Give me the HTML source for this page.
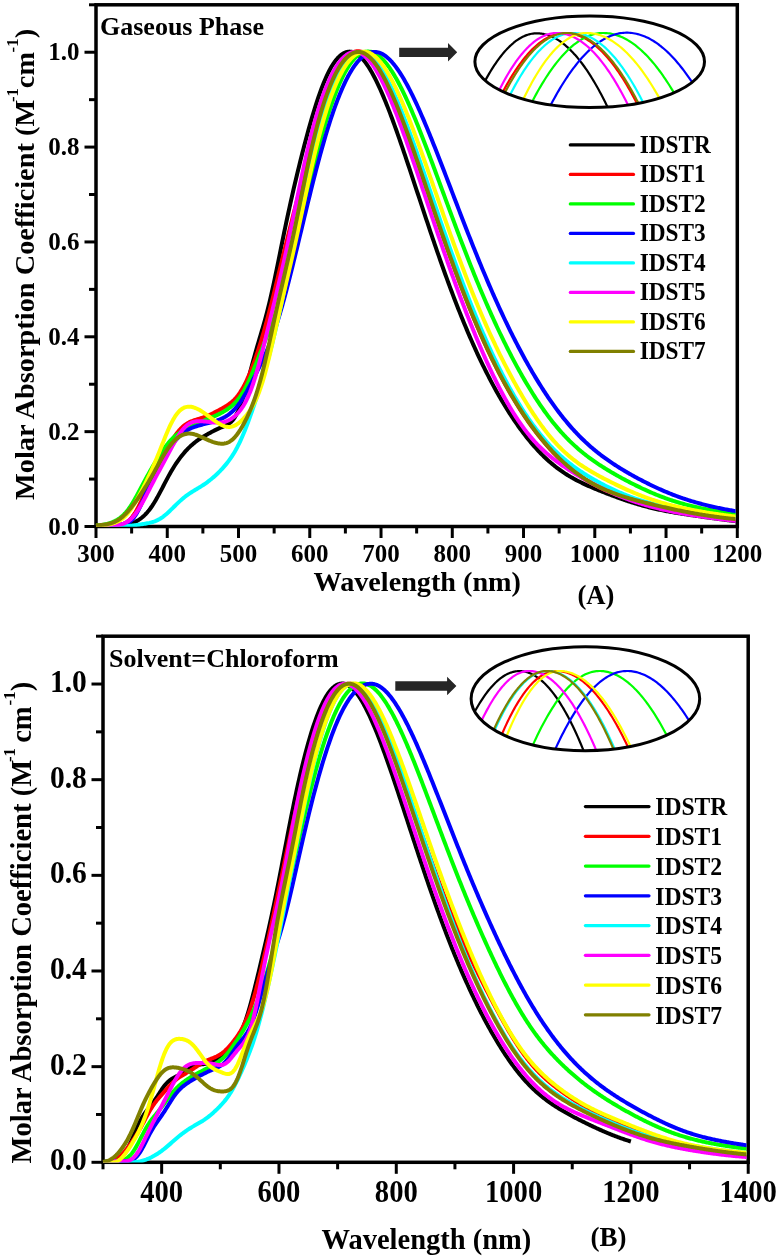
<!DOCTYPE html>
<html><head><meta charset="utf-8"><style>
html,body{margin:0;padding:0;background:#fff;width:779px;height:1259px;overflow:hidden}
svg{display:block;filter:blur(0.45px)}
text{font-family:'Liberation Serif', serif;font-weight:bold;fill:#000}
</style></head><body>
<svg width="779" height="1259" viewBox="0 0 779 1259">
<rect x="96" y="4.8" width="641.30" height="521.70" fill="none" stroke="#000" stroke-width="3.5"/>
<line x1="96.00" y1="526.5" x2="96.00" y2="538.0" stroke="#000" stroke-width="3"/>
<text transform="translate(96.00,562) scale(1,1)" font-size="25" text-anchor="middle">300</text>
<line x1="167.26" y1="526.5" x2="167.26" y2="538.0" stroke="#000" stroke-width="3"/>
<text transform="translate(167.26,562) scale(1,1)" font-size="25" text-anchor="middle">400</text>
<line x1="238.51" y1="526.5" x2="238.51" y2="538.0" stroke="#000" stroke-width="3"/>
<text transform="translate(238.51,562) scale(1,1)" font-size="25" text-anchor="middle">500</text>
<line x1="309.77" y1="526.5" x2="309.77" y2="538.0" stroke="#000" stroke-width="3"/>
<text transform="translate(309.77,562) scale(1,1)" font-size="25" text-anchor="middle">600</text>
<line x1="381.02" y1="526.5" x2="381.02" y2="538.0" stroke="#000" stroke-width="3"/>
<text transform="translate(381.02,562) scale(1,1)" font-size="25" text-anchor="middle">700</text>
<line x1="452.28" y1="526.5" x2="452.28" y2="538.0" stroke="#000" stroke-width="3"/>
<text transform="translate(452.28,562) scale(1,1)" font-size="25" text-anchor="middle">800</text>
<line x1="523.53" y1="526.5" x2="523.53" y2="538.0" stroke="#000" stroke-width="3"/>
<text transform="translate(523.53,562) scale(1,1)" font-size="25" text-anchor="middle">900</text>
<line x1="594.79" y1="526.5" x2="594.79" y2="538.0" stroke="#000" stroke-width="3"/>
<text transform="translate(594.79,562) scale(1,1)" font-size="25" text-anchor="middle">1000</text>
<line x1="666.04" y1="526.5" x2="666.04" y2="538.0" stroke="#000" stroke-width="3"/>
<text transform="translate(666.04,562) scale(1,1)" font-size="25" text-anchor="middle">1100</text>
<line x1="737.30" y1="526.5" x2="737.30" y2="538.0" stroke="#000" stroke-width="3"/>
<text transform="translate(737.30,562) scale(1,1)" font-size="25" text-anchor="middle">1200</text>
<line x1="131.63" y1="526.5" x2="131.63" y2="533.5" stroke="#000" stroke-width="3"/>
<line x1="202.88" y1="526.5" x2="202.88" y2="533.5" stroke="#000" stroke-width="3"/>
<line x1="274.14" y1="526.5" x2="274.14" y2="533.5" stroke="#000" stroke-width="3"/>
<line x1="345.39" y1="526.5" x2="345.39" y2="533.5" stroke="#000" stroke-width="3"/>
<line x1="416.65" y1="526.5" x2="416.65" y2="533.5" stroke="#000" stroke-width="3"/>
<line x1="487.91" y1="526.5" x2="487.91" y2="533.5" stroke="#000" stroke-width="3"/>
<line x1="559.16" y1="526.5" x2="559.16" y2="533.5" stroke="#000" stroke-width="3"/>
<line x1="630.42" y1="526.5" x2="630.42" y2="533.5" stroke="#000" stroke-width="3"/>
<line x1="701.67" y1="526.5" x2="701.67" y2="533.5" stroke="#000" stroke-width="3"/>
<line x1="84.5" y1="526.50" x2="96" y2="526.50" stroke="#000" stroke-width="3"/>
<text transform="translate(79.6,534.75) scale(1,1)" font-size="25" text-anchor="end">0.0</text>
<line x1="89.0" y1="479.07" x2="96" y2="479.07" stroke="#000" stroke-width="3"/>
<line x1="84.5" y1="431.65" x2="96" y2="431.65" stroke="#000" stroke-width="3"/>
<text transform="translate(79.6,439.90) scale(1,1)" font-size="25" text-anchor="end">0.2</text>
<line x1="89.0" y1="384.22" x2="96" y2="384.22" stroke="#000" stroke-width="3"/>
<line x1="84.5" y1="336.79" x2="96" y2="336.79" stroke="#000" stroke-width="3"/>
<text transform="translate(79.6,345.04) scale(1,1)" font-size="25" text-anchor="end">0.4</text>
<line x1="89.0" y1="289.37" x2="96" y2="289.37" stroke="#000" stroke-width="3"/>
<line x1="84.5" y1="241.94" x2="96" y2="241.94" stroke="#000" stroke-width="3"/>
<text transform="translate(79.6,250.19) scale(1,1)" font-size="25" text-anchor="end">0.6</text>
<line x1="89.0" y1="194.51" x2="96" y2="194.51" stroke="#000" stroke-width="3"/>
<line x1="84.5" y1="147.08" x2="96" y2="147.08" stroke="#000" stroke-width="3"/>
<text transform="translate(79.6,155.33) scale(1,1)" font-size="25" text-anchor="end">0.8</text>
<line x1="89.0" y1="99.66" x2="96" y2="99.66" stroke="#000" stroke-width="3"/>
<line x1="84.5" y1="52.23" x2="96" y2="52.23" stroke="#000" stroke-width="3"/>
<text transform="translate(79.6,60.48) scale(1,1)" font-size="25" text-anchor="end">1.0</text>
<line x1="89.0" y1="4.80" x2="96" y2="4.80" stroke="#000" stroke-width="3"/>
<rect x="103" y="636.2" width="645.20" height="526.10" fill="none" stroke="#000" stroke-width="3.5"/>
<line x1="161.66" y1="1162.3" x2="161.66" y2="1173.8" stroke="#000" stroke-width="3"/>
<text transform="translate(161.66,1201.5) scale(0.97,1.07)" font-size="29.5" text-anchor="middle">400</text>
<line x1="278.97" y1="1162.3" x2="278.97" y2="1173.8" stroke="#000" stroke-width="3"/>
<text transform="translate(278.97,1201.5) scale(0.97,1.07)" font-size="29.5" text-anchor="middle">600</text>
<line x1="396.28" y1="1162.3" x2="396.28" y2="1173.8" stroke="#000" stroke-width="3"/>
<text transform="translate(396.28,1201.5) scale(0.97,1.07)" font-size="29.5" text-anchor="middle">800</text>
<line x1="513.59" y1="1162.3" x2="513.59" y2="1173.8" stroke="#000" stroke-width="3"/>
<text transform="translate(513.59,1201.5) scale(0.97,1.07)" font-size="29.5" text-anchor="middle">1000</text>
<line x1="630.89" y1="1162.3" x2="630.89" y2="1173.8" stroke="#000" stroke-width="3"/>
<text transform="translate(630.89,1201.5) scale(0.97,1.07)" font-size="29.5" text-anchor="middle">1200</text>
<line x1="748.21" y1="1162.3" x2="748.21" y2="1173.8" stroke="#000" stroke-width="3"/>
<text transform="translate(748.21,1201.5) scale(0.97,1.07)" font-size="29.5" text-anchor="middle">1400</text>
<line x1="103.00" y1="1162.3" x2="103.00" y2="1169.3" stroke="#000" stroke-width="3"/>
<line x1="220.31" y1="1162.3" x2="220.31" y2="1169.3" stroke="#000" stroke-width="3"/>
<line x1="337.62" y1="1162.3" x2="337.62" y2="1169.3" stroke="#000" stroke-width="3"/>
<line x1="454.93" y1="1162.3" x2="454.93" y2="1169.3" stroke="#000" stroke-width="3"/>
<line x1="572.24" y1="1162.3" x2="572.24" y2="1169.3" stroke="#000" stroke-width="3"/>
<line x1="689.55" y1="1162.3" x2="689.55" y2="1169.3" stroke="#000" stroke-width="3"/>
<line x1="91.5" y1="1162.30" x2="103" y2="1162.30" stroke="#000" stroke-width="3"/>
<text transform="translate(86.8,1170.23) scale(1,1.05)" font-size="29.5" text-anchor="end">0.0</text>
<line x1="96.0" y1="1114.47" x2="103" y2="1114.47" stroke="#000" stroke-width="3"/>
<line x1="91.5" y1="1066.65" x2="103" y2="1066.65" stroke="#000" stroke-width="3"/>
<text transform="translate(86.8,1074.58) scale(1,1.05)" font-size="29.5" text-anchor="end">0.2</text>
<line x1="96.0" y1="1018.82" x2="103" y2="1018.82" stroke="#000" stroke-width="3"/>
<line x1="91.5" y1="970.99" x2="103" y2="970.99" stroke="#000" stroke-width="3"/>
<text transform="translate(86.8,978.93) scale(1,1.05)" font-size="29.5" text-anchor="end">0.4</text>
<line x1="96.0" y1="923.16" x2="103" y2="923.16" stroke="#000" stroke-width="3"/>
<line x1="91.5" y1="875.34" x2="103" y2="875.34" stroke="#000" stroke-width="3"/>
<text transform="translate(86.8,883.27) scale(1,1.05)" font-size="29.5" text-anchor="end">0.6</text>
<line x1="96.0" y1="827.51" x2="103" y2="827.51" stroke="#000" stroke-width="3"/>
<line x1="91.5" y1="779.68" x2="103" y2="779.68" stroke="#000" stroke-width="3"/>
<text transform="translate(86.8,787.62) scale(1,1.05)" font-size="29.5" text-anchor="end">0.8</text>
<line x1="96.0" y1="731.86" x2="103" y2="731.86" stroke="#000" stroke-width="3"/>
<line x1="91.5" y1="684.03" x2="103" y2="684.03" stroke="#000" stroke-width="3"/>
<text transform="translate(86.8,691.97) scale(1,1.05)" font-size="29.5" text-anchor="end">1.0</text>
<line x1="96.0" y1="636.20" x2="103" y2="636.20" stroke="#000" stroke-width="3"/>
<clipPath id="ccA"><rect x="90" y="0" width="645.55" height="526.80"/></clipPath>
<g clip-path="url(#ccA)">
<polyline points="96.00,526.50 97.07,526.50 98.14,526.50 99.21,526.50 100.28,526.50 101.34,526.50 102.41,526.50 103.48,526.50 104.55,526.50 105.62,526.50 106.69,526.50 107.76,526.50 108.83,526.50 109.89,526.50 110.96,526.50 112.03,526.50 113.10,526.50 114.17,526.50 115.24,526.50 116.31,526.50 117.38,526.50 118.45,526.46 119.51,526.36 120.58,526.25 121.65,526.11 122.72,525.94 123.79,525.75 124.86,525.54 125.93,525.30 127.00,525.02 128.07,524.72 129.13,524.39 130.20,524.03 131.27,523.63 132.34,523.20 133.41,522.74 134.48,522.24 135.55,521.70 136.62,521.12 137.68,520.50 138.75,519.82 139.82,519.10 140.89,518.33 141.96,517.50 143.03,516.60 144.10,515.64 145.17,514.60 146.24,513.50 147.30,512.31 148.37,511.05 149.44,509.70 150.51,508.27 151.58,506.76 152.65,505.17 153.72,503.50 154.79,501.76 155.85,499.95 156.92,498.07 157.99,496.15 159.06,494.17 160.13,492.16 161.20,490.12 162.27,488.07 163.34,486.01 164.41,483.94 165.47,481.89 166.54,479.86 167.61,477.86 168.68,475.89 169.75,473.96 170.82,472.08 171.89,470.24 172.96,468.45 174.02,466.72 175.09,465.04 176.16,463.41 177.23,461.83 178.30,460.31 179.37,458.83 180.44,457.40 181.51,456.02 182.58,454.69 183.64,453.40 184.71,452.15 185.78,450.95 186.85,449.79 187.92,448.68 188.99,447.60 190.06,446.57 191.13,445.58 192.20,444.63 193.26,443.71 194.33,442.84 195.40,442.01 196.47,441.21 197.54,440.44 198.61,439.70 199.68,438.99 200.75,438.30 201.81,437.63 202.88,436.98 203.95,436.33 205.02,435.70 206.09,435.08 207.16,434.47 208.23,433.86 209.30,433.26 210.37,432.66 211.43,432.08 212.50,431.50 213.57,430.94 214.64,430.39 215.71,429.87 216.78,429.36 217.85,428.87 218.92,428.40 219.98,427.94 221.05,427.50 222.12,427.06 223.19,426.62 224.26,426.17 225.33,425.69 226.40,425.16 227.47,424.58 228.54,423.91 229.60,423.15 230.67,422.26 231.74,421.23 232.81,420.04 233.88,418.66 234.95,417.09 236.02,415.29 237.09,413.27 238.15,411.01 239.22,408.51 240.29,405.77 241.36,402.80 242.43,399.61 243.50,396.21 244.57,392.63 245.64,388.90 246.71,385.05 247.77,381.10 248.84,377.09 249.91,373.06 250.98,369.02 252.05,365.02 253.12,361.06 254.19,357.16 255.26,353.33 256.33,349.57 257.39,345.88 258.46,342.23 259.53,338.62 260.60,335.01 261.67,331.40 262.74,327.74 263.81,324.01 264.88,320.19 265.94,316.26 267.01,312.21 268.08,308.01 269.15,303.67 270.22,299.18 271.29,294.54 272.36,289.77 273.43,284.87 274.50,279.86 275.56,274.76 276.63,269.59 277.70,264.35 278.77,259.08 279.84,253.79 280.91,248.50 281.98,243.23 283.05,237.98 284.11,232.77 285.18,227.61 286.25,222.50 287.32,217.46 288.39,212.48 289.46,207.56 290.53,202.72 291.60,197.94 292.67,193.22 293.73,188.56 294.80,183.97 295.87,179.44 296.94,174.96 298.01,170.53 299.08,166.16 300.15,161.83 301.22,157.56 302.28,153.34 303.35,149.16 304.42,145.04 305.49,140.98 306.56,136.97 307.63,133.01 308.70,129.12 309.77,125.30 310.84,121.54 311.90,117.85 312.97,114.24 314.04,110.71 315.11,107.26 316.18,103.90 317.25,100.63 318.32,97.45 319.39,94.36 320.46,91.37 321.52,88.49 322.59,85.71 323.66,83.03 324.73,80.46 325.80,78.00 326.87,75.64 327.94,73.40 329.01,71.27 330.07,69.25 331.14,67.34 332.21,65.54 333.28,63.86 334.35,62.29 335.42,60.83 336.49,59.48 337.56,58.24 338.63,57.11 339.69,56.09 340.76,55.17 341.83,54.37 342.90,53.67 343.97,53.07 345.04,52.58 346.11,52.19 347.18,51.90 348.24,51.71 349.31,51.62 350.38,51.63 351.45,51.74 352.52,51.96 353.59,52.29 354.66,52.72 355.73,53.25 356.80,53.89 357.86,54.62 358.93,55.45 360.00,56.38 361.07,57.40 362.14,58.51 363.21,59.71 364.28,61.00 365.35,62.38 366.42,63.83 367.48,65.37 368.55,66.99 369.62,68.69 370.69,70.46 371.76,72.30 372.83,74.22 373.90,76.21 374.97,78.26 376.03,80.38 377.10,82.56 378.17,84.80 379.24,87.10 380.31,89.46 381.38,91.87 382.45,94.33 383.52,96.85 384.59,99.41 385.65,102.02 386.72,104.68 387.79,107.38 388.86,110.12 389.93,112.90 391.00,115.72 392.07,118.57 393.14,121.46 394.20,124.38 395.27,127.33 396.34,130.30 397.41,133.31 398.48,136.34 399.55,139.39 400.62,142.47 401.69,145.57 402.76,148.68 403.82,151.81 404.89,154.96 405.96,158.13 407.03,161.30 408.10,164.49 409.17,167.69 410.24,170.90 411.31,174.11 412.37,177.33 413.44,180.56 414.51,183.79 415.58,187.02 416.65,190.26 417.72,193.50 418.79,196.73 419.86,199.97 420.93,203.20 421.99,206.43 423.06,209.65 424.13,212.87 425.20,216.08 426.27,219.29 427.34,222.48 428.41,225.67 429.48,228.85 430.55,232.02 431.61,235.18 432.68,238.33 433.75,241.46 434.82,244.58 435.89,247.69 436.96,250.78 438.03,253.86 439.10,256.92 440.16,259.97 441.23,263.00 442.30,266.01 443.37,269.01 444.44,271.99 445.51,274.95 446.58,277.89 447.65,280.82 448.72,283.72 449.78,286.60 450.85,289.47 451.92,292.31 452.99,295.14 454.06,297.94 455.13,300.72 456.20,303.48 457.27,306.22 458.33,308.94 459.40,311.63 460.47,314.31 461.54,316.96 462.61,319.59 463.68,322.20 464.75,324.78 465.82,327.35 466.89,329.89 467.95,332.41 469.02,334.90 470.09,337.37 471.16,339.82 472.23,342.25 473.30,344.65 474.37,347.04 475.44,349.40 476.50,351.73 477.57,354.05 478.64,356.34 479.71,358.61 480.78,360.85 481.85,363.08 482.92,365.28 483.99,367.46 485.06,369.62 486.12,371.75 487.19,373.86 488.26,375.95 489.33,378.02 490.40,380.07 491.47,382.10 492.54,384.10 493.61,386.08 494.68,388.05 495.74,389.99 496.81,391.91 497.88,393.80 498.95,395.68 500.02,397.54 501.09,399.37 502.16,401.19 503.23,402.98 504.29,404.76 505.36,406.51 506.43,408.24 507.50,409.96 508.57,411.65 509.64,413.32 510.71,414.97 511.78,416.61 512.85,418.22 513.91,419.81 514.98,421.38 516.05,422.94 517.12,424.47 518.19,425.98 519.26,427.48 520.33,428.95 521.40,430.41 522.46,431.84 523.53,433.26 524.60,434.65 525.67,436.03 526.74,437.39 527.81,438.73 528.88,440.04 529.95,441.34 531.02,442.62 532.08,443.88 533.15,445.12 534.22,446.34 535.29,447.54 536.36,448.72 537.43,449.88 538.50,451.03 539.57,452.15 540.63,453.25 541.70,454.34 542.77,455.40 543.84,456.45 544.91,457.48 545.98,458.49 547.05,459.48 548.12,460.45 549.19,461.40 550.25,462.33 551.32,463.25 552.39,464.15 553.46,465.03 554.53,465.89 555.60,466.73 556.67,467.56 557.74,468.37 558.81,469.16 559.87,469.94 560.94,470.70 562.01,471.45 563.08,472.18 564.15,472.89 565.22,473.59 566.29,474.28 567.36,474.95 568.42,475.60 569.49,476.25 570.56,476.88 571.63,477.50 572.70,478.11 573.77,478.70 574.84,479.29 575.91,479.86 576.98,480.42 578.04,480.98 579.11,481.52 580.18,482.05 581.25,482.58 582.32,483.10 583.39,483.61 584.46,484.11 585.53,484.61 586.59,485.09 587.66,485.58 588.73,486.05 589.80,486.52 590.87,486.99 591.94,487.45 593.01,487.91 594.08,488.36 595.15,488.81 596.21,489.25 597.28,489.69 598.35,490.13 599.42,490.56 600.49,490.99 601.56,491.42 602.63,491.84 603.70,492.26 604.76,492.68 605.83,493.10 606.90,493.51 607.97,493.92 609.04,494.33 610.11,494.74 611.18,495.14 612.25,495.54 613.32,495.94 614.38,496.34 615.45,496.73 616.52,497.12 617.59,497.51 618.66,497.90 619.73,498.28 620.80,498.66 621.87,499.03 622.94,499.41 624.00,499.78 625.07,500.15 626.14,500.51 627.21,500.87 628.28,501.23 629.35,501.58 630.42,501.93 631.49,502.27 632.55,502.61 633.62,502.95 634.69,503.28 635.76,503.61 636.83,503.93 637.90,504.25 638.97,504.57 640.04,504.88 641.11,505.18 642.17,505.49 643.24,505.78 644.31,506.08 645.38,506.36 646.45,506.65 647.52,506.92 648.59,507.20 649.66,507.47 650.72,507.73 651.79,507.99 652.86,508.24 653.93,508.50 655.00,508.74 656.07,508.98 657.14,509.22 658.21,509.45 659.28,509.68 660.34,509.91 661.41,510.13 662.48,510.35 663.55,510.56 664.62,510.77 665.69,510.98 666.76,511.18 667.83,511.38 668.90,511.57 669.96,511.77 671.03,511.96 672.10,512.14 673.17,512.33 674.24,512.51 675.31,512.69 676.38,512.87 677.45,513.04 678.51,513.21 679.58,513.38 680.65,513.55 681.72,513.72 682.79,513.89 683.86,514.05 684.93,514.21 686.00,514.37 687.07,514.53 688.13,514.69 689.20,514.85 690.27,515.01 691.34,515.16 692.41,515.32 693.48,515.47 694.55,515.63 695.62,515.78 696.68,515.94 697.75,516.09 698.82,516.24 699.89,516.39 700.96,516.55 702.03,516.70 703.10,516.85 704.17,517.00 705.24,517.15 706.30,517.30 707.37,517.45 708.44,517.60 709.51,517.75 710.58,517.90 711.65,518.05 712.72,518.19 713.79,518.34 714.85,518.49 715.92,518.63 716.99,518.78 718.06,518.92 719.13,519.07 720.20,519.21 721.27,519.35 722.34,519.49 723.41,519.63 724.47,519.77 725.54,519.91 726.61,520.04 727.68,520.17 728.75,520.31 729.82,520.44 730.89,520.57 731.96,520.69 733.03,520.82 734.09,520.94 735.16,521.06 736.23,521.18 737.30,521.30" fill="none" stroke="#000000" stroke-width="4.0" stroke-linejoin="round"/>
<polyline points="96.00,526.31 97.07,526.28 98.14,526.24 99.21,526.20 100.28,526.16 101.34,526.11 102.41,526.06 103.48,526.01 104.55,525.95 105.62,525.90 106.69,525.84 107.76,525.78 108.83,525.72 109.89,525.67 110.96,525.61 112.03,525.55 113.10,525.48 114.17,525.41 115.24,525.33 116.31,525.24 117.38,525.13 118.45,524.99 119.51,524.82 120.58,524.61 121.65,524.34 122.72,524.02 123.79,523.63 124.86,523.15 125.93,522.58 127.00,521.91 128.07,521.12 129.13,520.22 130.20,519.19 131.27,518.02 132.34,516.72 133.41,515.28 134.48,513.71 135.55,512.00 136.62,510.17 137.68,508.21 138.75,506.16 139.82,504.00 140.89,501.77 141.96,499.46 143.03,497.11 144.10,494.72 145.17,492.30 146.24,489.88 147.30,487.47 148.37,485.06 149.44,482.69 150.51,480.34 151.58,478.04 152.65,475.77 153.72,473.55 154.79,471.38 155.85,469.24 156.92,467.14 157.99,465.08 159.06,463.05 160.13,461.05 161.20,459.08 162.27,457.13 163.34,455.19 164.41,453.28 165.47,451.38 166.54,449.51 167.61,447.65 168.68,445.82 169.75,444.02 170.82,442.26 171.89,440.54 172.96,438.86 174.02,437.24 175.09,435.68 176.16,434.19 177.23,432.76 178.30,431.42 179.37,430.15 180.44,428.97 181.51,427.88 182.58,426.86 183.64,425.93 184.71,425.09 185.78,424.32 186.85,423.62 187.92,422.99 188.99,422.42 190.06,421.91 191.13,421.45 192.20,421.02 193.26,420.63 194.33,420.27 195.40,419.92 196.47,419.59 197.54,419.26 198.61,418.94 199.68,418.61 200.75,418.27 201.81,417.92 202.88,417.55 203.95,417.17 205.02,416.77 206.09,416.35 207.16,415.91 208.23,415.46 209.30,414.99 210.37,414.50 211.43,413.99 212.50,413.48 213.57,412.95 214.64,412.41 215.71,411.86 216.78,411.31 217.85,410.75 218.92,410.18 219.98,409.61 221.05,409.03 222.12,408.44 223.19,407.84 224.26,407.22 225.33,406.59 226.40,405.93 227.47,405.24 228.54,404.51 229.60,403.74 230.67,402.93 231.74,402.05 232.81,401.11 233.88,400.09 234.95,399.00 236.02,397.81 237.09,396.54 238.15,395.16 239.22,393.69 240.29,392.10 241.36,390.41 242.43,388.61 243.50,386.69 244.57,384.67 245.64,382.53 246.71,380.29 247.77,377.95 248.84,375.50 249.91,372.95 250.98,370.30 252.05,367.56 253.12,364.73 254.19,361.81 255.26,358.81 256.33,355.72 257.39,352.54 258.46,349.28 259.53,345.94 260.60,342.51 261.67,339.00 262.74,335.40 263.81,331.73 264.88,327.97 265.94,324.13 267.01,320.22 268.08,316.23 269.15,312.18 270.22,308.06 271.29,303.89 272.36,299.66 273.43,295.38 274.50,291.07 275.56,286.72 276.63,282.35 277.70,277.97 278.77,273.57 279.84,269.17 280.91,264.77 281.98,260.38 283.05,255.99 284.11,251.62 285.18,247.27 286.25,242.93 287.32,238.61 288.39,234.32 289.46,230.04 290.53,225.78 291.60,221.54 292.67,217.32 293.73,213.11 294.80,208.92 295.87,204.74 296.94,200.58 298.01,196.42 299.08,192.28 300.15,188.15 301.22,184.02 302.28,179.91 303.35,175.81 304.42,171.73 305.49,167.66 306.56,163.61 307.63,159.58 308.70,155.57 309.77,151.59 310.84,147.64 311.90,143.72 312.97,139.84 314.04,136.00 315.11,132.21 316.18,128.46 317.25,124.77 318.32,121.14 319.39,117.57 320.46,114.07 321.52,110.63 322.59,107.28 323.66,104.00 324.73,100.80 325.80,97.68 326.87,94.66 327.94,91.72 329.01,88.88 330.07,86.14 331.14,83.49 332.21,80.95 333.28,78.50 334.35,76.16 335.42,73.93 336.49,71.80 337.56,69.77 338.63,67.85 339.69,66.04 340.76,64.34 341.83,62.74 342.90,61.25 343.97,59.87 345.04,58.59 346.11,57.42 347.18,56.35 348.24,55.39 349.31,54.53 350.38,53.78 351.45,53.12 352.52,52.57 353.59,52.12 354.66,51.76 355.73,51.50 356.80,51.34 357.86,51.28 358.93,51.30 360.00,51.43 361.07,51.66 362.14,51.99 363.21,52.41 364.28,52.93 365.35,53.54 366.42,54.24 367.48,55.04 368.55,55.92 369.62,56.90 370.69,57.96 371.76,59.10 372.83,60.32 373.90,61.63 374.97,63.01 376.03,64.47 377.10,66.01 378.17,67.62 379.24,69.30 380.31,71.05 381.38,72.87 382.45,74.76 383.52,76.71 384.59,78.72 385.65,80.80 386.72,82.93 387.79,85.12 388.86,87.36 389.93,89.66 391.00,92.01 392.07,94.41 393.14,96.86 394.20,99.35 395.27,101.89 396.34,104.47 397.41,107.09 398.48,109.75 399.55,112.44 400.62,115.18 401.69,117.94 402.76,120.74 403.82,123.57 404.89,126.43 405.96,129.32 407.03,132.23 408.10,135.17 409.17,138.13 410.24,141.12 411.31,144.12 412.37,147.14 413.44,150.18 414.51,153.24 415.58,156.31 416.65,159.39 417.72,162.49 418.79,165.59 419.86,168.71 420.93,171.84 421.99,174.97 423.06,178.11 424.13,181.25 425.20,184.40 426.27,187.55 427.34,190.70 428.41,193.85 429.48,197.00 430.55,200.15 431.61,203.30 432.68,206.44 433.75,209.59 434.82,212.72 435.89,215.85 436.96,218.98 438.03,222.09 439.10,225.20 440.16,228.30 441.23,231.40 442.30,234.48 443.37,237.55 444.44,240.61 445.51,243.65 446.58,246.69 447.65,249.71 448.72,252.71 449.78,255.71 450.85,258.69 451.92,261.65 452.99,264.60 454.06,267.53 455.13,270.44 456.20,273.34 457.27,276.22 458.33,279.08 459.40,281.93 460.47,284.75 461.54,287.56 462.61,290.35 463.68,293.12 464.75,295.87 465.82,298.60 466.89,301.31 467.95,304.00 469.02,306.67 470.09,309.31 471.16,311.94 472.23,314.55 473.30,317.14 474.37,319.70 475.44,322.25 476.50,324.77 477.57,327.27 478.64,329.75 479.71,332.21 480.78,334.64 481.85,337.06 482.92,339.45 483.99,341.82 485.06,344.17 486.12,346.50 487.19,348.80 488.26,351.09 489.33,353.35 490.40,355.59 491.47,357.81 492.54,360.01 493.61,362.19 494.68,364.34 495.74,366.47 496.81,368.59 497.88,370.68 498.95,372.75 500.02,374.79 501.09,376.82 502.16,378.83 503.23,380.81 504.29,382.78 505.36,384.72 506.43,386.65 507.50,388.55 508.57,390.43 509.64,392.30 510.71,394.14 511.78,395.96 512.85,397.77 513.91,399.55 514.98,401.31 516.05,403.06 517.12,404.78 518.19,406.49 519.26,408.18 520.33,409.85 521.40,411.50 522.46,413.13 523.53,414.74 524.60,416.33 525.67,417.91 526.74,419.47 527.81,421.00 528.88,422.53 529.95,424.03 531.02,425.51 532.08,426.98 533.15,428.43 534.22,429.86 535.29,431.28 536.36,432.68 537.43,434.06 538.50,435.42 539.57,436.77 540.63,438.10 541.70,439.41 542.77,440.71 543.84,441.99 544.91,443.25 545.98,444.50 547.05,445.73 548.12,446.94 549.19,448.14 550.25,449.32 551.32,450.48 552.39,451.63 553.46,452.77 554.53,453.88 555.60,454.98 556.67,456.07 557.74,457.14 558.81,458.19 559.87,459.23 560.94,460.25 562.01,461.26 563.08,462.25 564.15,463.23 565.22,464.19 566.29,465.13 567.36,466.06 568.42,466.98 569.49,467.88 570.56,468.76 571.63,469.64 572.70,470.49 573.77,471.33 574.84,472.16 575.91,472.97 576.98,473.77 578.04,474.55 579.11,475.32 580.18,476.07 581.25,476.81 582.32,477.54 583.39,478.25 584.46,478.95 585.53,479.64 586.59,480.31 587.66,480.97 588.73,481.61 589.80,482.25 590.87,482.87 591.94,483.48 593.01,484.07 594.08,484.66 595.15,485.23 596.21,485.79 597.28,486.34 598.35,486.87 599.42,487.40 600.49,487.92 601.56,488.42 602.63,488.91 603.70,489.40 604.76,489.87 605.83,490.34 606.90,490.79 607.97,491.24 609.04,491.68 610.11,492.11 611.18,492.53 612.25,492.94 613.32,493.34 614.38,493.74 615.45,494.13 616.52,494.51 617.59,494.89 618.66,495.26 619.73,495.62 620.80,495.98 621.87,496.33 622.94,496.67 624.00,497.01 625.07,497.35 626.14,497.68 627.21,498.01 628.28,498.33 629.35,498.64 630.42,498.96 631.49,499.27 632.55,499.57 633.62,499.87 634.69,500.17 635.76,500.47 636.83,500.76 637.90,501.05 638.97,501.34 640.04,501.62 641.11,501.90 642.17,502.18 643.24,502.46 644.31,502.73 645.38,503.01 646.45,503.28 647.52,503.55 648.59,503.81 649.66,504.08 650.72,504.34 651.79,504.60 652.86,504.86 653.93,505.12 655.00,505.38 656.07,505.64 657.14,505.89 658.21,506.14 659.28,506.39 660.34,506.64 661.41,506.89 662.48,507.14 663.55,507.38 664.62,507.63 665.69,507.87 666.76,508.11 667.83,508.35 668.90,508.58 669.96,508.82 671.03,509.05 672.10,509.29 673.17,509.52 674.24,509.75 675.31,509.97 676.38,510.20 677.45,510.42 678.51,510.65 679.58,510.87 680.65,511.09 681.72,511.30 682.79,511.52 683.86,511.73 684.93,511.94 686.00,512.15 687.07,512.35 688.13,512.56 689.20,512.76 690.27,512.96 691.34,513.16 692.41,513.36 693.48,513.55 694.55,513.74 695.62,513.93 696.68,514.12 697.75,514.30 698.82,514.49 699.89,514.67 700.96,514.84 702.03,515.02 703.10,515.19 704.17,515.36 705.24,515.53 706.30,515.70 707.37,515.86 708.44,516.03 709.51,516.19 710.58,516.34 711.65,516.50 712.72,516.65 713.79,516.80 714.85,516.95 715.92,517.10 716.99,517.24 718.06,517.39 719.13,517.53 720.20,517.66 721.27,517.80 722.34,517.93 723.41,518.06 724.47,518.19 725.54,518.32 726.61,518.45 727.68,518.57 728.75,518.69 729.82,518.81 730.89,518.93 731.96,519.04 733.03,519.15 734.09,519.27 735.16,519.38 736.23,519.48 737.30,519.59" fill="none" stroke="#ff0000" stroke-width="4.0" stroke-linejoin="round"/>
<polyline points="96.00,525.66 97.07,525.57 98.14,525.46 99.21,525.34 100.28,525.20 101.34,525.05 102.41,524.88 103.48,524.69 104.55,524.48 105.62,524.25 106.69,524.00 107.76,523.72 108.83,523.41 109.89,523.08 110.96,522.71 112.03,522.31 113.10,521.87 114.17,521.40 115.24,520.88 116.31,520.31 117.38,519.69 118.45,519.01 119.51,518.27 120.58,517.47 121.65,516.59 122.72,515.64 123.79,514.60 124.86,513.48 125.93,512.28 127.00,510.99 128.07,509.62 129.13,508.16 130.20,506.62 131.27,505.00 132.34,503.31 133.41,501.55 134.48,499.73 135.55,497.86 136.62,495.95 137.68,493.99 138.75,492.01 139.82,490.01 140.89,488.00 141.96,485.99 143.03,483.97 144.10,481.96 145.17,479.97 146.24,477.99 147.30,476.03 148.37,474.10 149.44,472.18 150.51,470.29 151.58,468.43 152.65,466.59 153.72,464.78 154.79,462.99 155.85,461.22 156.92,459.48 157.99,457.77 159.06,456.09 160.13,454.43 161.20,452.81 162.27,451.22 163.34,449.68 164.41,448.17 165.47,446.71 166.54,445.30 167.61,443.94 168.68,442.63 169.75,441.39 170.82,440.20 171.89,439.07 172.96,438.00 174.02,437.00 175.09,436.05 176.16,435.16 177.23,434.32 178.30,433.54 179.37,432.80 180.44,432.11 181.51,431.45 182.58,430.83 183.64,430.24 184.71,429.67 185.78,429.12 186.85,428.59 187.92,428.07 188.99,427.55 190.06,427.04 191.13,426.53 192.20,426.03 193.26,425.52 194.33,425.01 195.40,424.50 196.47,424.00 197.54,423.49 198.61,422.99 199.68,422.49 200.75,421.99 201.81,421.50 202.88,421.02 203.95,420.55 205.02,420.08 206.09,419.62 207.16,419.17 208.23,418.73 209.30,418.29 210.37,417.85 211.43,417.41 212.50,416.97 213.57,416.52 214.64,416.07 215.71,415.60 216.78,415.13 217.85,414.63 218.92,414.13 219.98,413.60 221.05,413.05 222.12,412.48 223.19,411.89 224.26,411.26 225.33,410.62 226.40,409.94 227.47,409.22 228.54,408.47 229.60,407.68 230.67,406.85 231.74,405.97 232.81,405.03 233.88,404.04 234.95,402.98 236.02,401.84 237.09,400.63 238.15,399.33 239.22,397.94 240.29,396.46 241.36,394.87 242.43,393.18 243.50,391.39 244.57,389.48 245.64,387.48 246.71,385.37 247.77,383.16 248.84,380.86 249.91,378.48 250.98,376.02 252.05,373.49 253.12,370.91 254.19,368.28 255.26,365.62 256.33,362.93 257.39,360.22 258.46,357.51 259.53,354.80 260.60,352.10 261.67,349.40 262.74,346.72 263.81,344.05 264.88,341.39 265.94,338.74 267.01,336.09 268.08,333.44 269.15,330.78 270.22,328.11 271.29,325.40 272.36,322.66 273.43,319.88 274.50,317.04 275.56,314.13 276.63,311.16 277.70,308.10 278.77,304.96 279.84,301.72 280.91,298.39 281.98,294.96 283.05,291.43 284.11,287.79 285.18,284.06 286.25,280.22 287.32,276.29 288.39,272.27 289.46,268.16 290.53,263.97 291.60,259.70 292.67,255.37 293.73,250.98 294.80,246.53 295.87,242.04 296.94,237.51 298.01,232.95 299.08,228.37 300.15,223.77 301.22,219.17 302.28,214.56 303.35,209.96 304.42,205.36 305.49,200.79 306.56,196.23 307.63,191.71 308.70,187.21 309.77,182.75 310.84,178.33 311.90,173.95 312.97,169.61 314.04,165.33 315.11,161.10 316.18,156.93 317.25,152.81 318.32,148.76 319.39,144.77 320.46,140.84 321.52,136.98 322.59,133.19 323.66,129.48 324.73,125.83 325.80,122.26 326.87,118.77 327.94,115.35 329.01,112.01 330.07,108.76 331.14,105.59 332.21,102.50 333.28,99.49 334.35,96.57 335.42,93.74 336.49,91.00 337.56,88.34 338.63,85.78 339.69,83.31 340.76,80.93 341.83,78.64 342.90,76.44 343.97,74.33 345.04,72.32 346.11,70.41 347.18,68.58 348.24,66.85 349.31,65.22 350.38,63.68 351.45,62.23 352.52,60.88 353.59,59.62 354.66,58.45 355.73,57.38 356.80,56.40 357.86,55.51 358.93,54.71 360.00,54.01 361.07,53.39 362.14,52.86 363.21,52.43 364.28,52.08 365.35,51.81 366.42,51.64 367.48,51.55 368.55,51.54 369.62,51.62 370.69,51.79 371.76,52.04 372.83,52.39 373.90,52.81 374.97,53.32 376.03,53.91 377.10,54.59 378.17,55.34 379.24,56.17 380.31,57.07 381.38,58.06 382.45,59.11 383.52,60.24 384.59,61.44 385.65,62.70 386.72,64.04 387.79,65.44 388.86,66.91 389.93,68.43 391.00,70.02 392.07,71.68 393.14,73.38 394.20,75.15 395.27,76.97 396.34,78.85 397.41,80.78 398.48,82.75 399.55,84.78 400.62,86.86 401.69,88.98 402.76,91.15 403.82,93.36 404.89,95.61 405.96,97.90 407.03,100.23 408.10,102.60 409.17,105.00 410.24,107.44 411.31,109.91 412.37,112.42 413.44,114.95 414.51,117.51 415.58,120.10 416.65,122.72 417.72,125.36 418.79,128.03 419.86,130.72 420.93,133.43 421.99,136.16 423.06,138.90 424.13,141.67 425.20,144.45 426.27,147.25 427.34,150.06 428.41,152.89 429.48,155.73 430.55,158.58 431.61,161.43 432.68,164.30 433.75,167.18 434.82,170.06 435.89,172.95 436.96,175.84 438.03,178.74 439.10,181.64 440.16,184.55 441.23,187.45 442.30,190.36 443.37,193.26 444.44,196.17 445.51,199.07 446.58,201.97 447.65,204.87 448.72,207.77 449.78,210.66 450.85,213.54 451.92,216.42 452.99,219.30 454.06,222.16 455.13,225.02 456.20,227.87 457.27,230.72 458.33,233.55 459.40,236.37 460.47,239.19 461.54,241.99 462.61,244.78 463.68,247.56 464.75,250.33 465.82,253.09 466.89,255.83 467.95,258.56 469.02,261.28 470.09,263.98 471.16,266.67 472.23,269.34 473.30,272.00 474.37,274.65 475.44,277.28 476.50,279.90 477.57,282.50 478.64,285.08 479.71,287.65 480.78,290.20 481.85,292.74 482.92,295.26 483.99,297.76 485.06,300.24 486.12,302.71 487.19,305.17 488.26,307.60 489.33,310.02 490.40,312.42 491.47,314.81 492.54,317.17 493.61,319.52 494.68,321.86 495.74,324.17 496.81,326.47 497.88,328.75 498.95,331.01 500.02,333.26 501.09,335.49 502.16,337.70 503.23,339.89 504.29,342.07 505.36,344.23 506.43,346.37 507.50,348.50 508.57,350.60 509.64,352.69 510.71,354.77 511.78,356.82 512.85,358.86 513.91,360.88 514.98,362.88 516.05,364.87 517.12,366.84 518.19,368.79 519.26,370.72 520.33,372.64 521.40,374.54 522.46,376.42 523.53,378.28 524.60,380.12 525.67,381.95 526.74,383.76 527.81,385.55 528.88,387.33 529.95,389.08 531.02,390.82 532.08,392.54 533.15,394.24 534.22,395.92 535.29,397.59 536.36,399.23 537.43,400.86 538.50,402.47 539.57,404.06 540.63,405.63 541.70,407.18 542.77,408.71 543.84,410.22 544.91,411.72 545.98,413.19 547.05,414.65 548.12,416.08 549.19,417.50 550.25,418.90 551.32,420.28 552.39,421.64 553.46,422.97 554.53,424.30 555.60,425.60 556.67,426.88 557.74,428.14 558.81,429.39 559.87,430.61 560.94,431.82 562.01,433.01 563.08,434.18 564.15,435.33 565.22,436.46 566.29,437.57 567.36,438.67 568.42,439.75 569.49,440.82 570.56,441.86 571.63,442.89 572.70,443.90 573.77,444.90 574.84,445.88 575.91,446.85 576.98,447.79 578.04,448.73 579.11,449.65 580.18,450.56 581.25,451.45 582.32,452.33 583.39,453.19 584.46,454.04 585.53,454.88 586.59,455.71 587.66,456.52 588.73,457.33 589.80,458.12 590.87,458.90 591.94,459.67 593.01,460.43 594.08,461.18 595.15,461.92 596.21,462.66 597.28,463.38 598.35,464.09 599.42,464.80 600.49,465.50 601.56,466.19 602.63,466.87 603.70,467.55 604.76,468.22 605.83,468.88 606.90,469.53 607.97,470.18 609.04,470.83 610.11,471.46 611.18,472.10 612.25,472.72 613.32,473.34 614.38,473.96 615.45,474.57 616.52,475.18 617.59,475.78 618.66,476.38 619.73,476.97 620.80,477.56 621.87,478.14 622.94,478.72 624.00,479.30 625.07,479.87 626.14,480.43 627.21,481.00 628.28,481.56 629.35,482.11 630.42,482.66 631.49,483.21 632.55,483.75 633.62,484.29 634.69,484.82 635.76,485.35 636.83,485.88 637.90,486.40 638.97,486.92 640.04,487.43 641.11,487.94 642.17,488.45 643.24,488.95 644.31,489.44 645.38,489.93 646.45,490.42 647.52,490.90 648.59,491.38 649.66,491.85 650.72,492.31 651.79,492.77 652.86,493.23 653.93,493.68 655.00,494.13 656.07,494.57 657.14,495.00 658.21,495.43 659.28,495.85 660.34,496.27 661.41,496.68 662.48,497.09 663.55,497.49 664.62,497.89 665.69,498.28 666.76,498.66 667.83,499.04 668.90,499.41 669.96,499.78 671.03,500.14 672.10,500.50 673.17,500.85 674.24,501.19 675.31,501.53 676.38,501.86 677.45,502.19 678.51,502.51 679.58,502.83 680.65,503.14 681.72,503.44 682.79,503.74 683.86,504.04 684.93,504.33 686.00,504.62 687.07,504.90 688.13,505.17 689.20,505.44 690.27,505.71 691.34,505.97 692.41,506.23 693.48,506.48 694.55,506.73 695.62,506.98 696.68,507.22 697.75,507.45 698.82,507.69 699.89,507.92 700.96,508.14 702.03,508.36 703.10,508.58 704.17,508.80 705.24,509.01 706.30,509.22 707.37,509.42 708.44,509.62 709.51,509.82 710.58,510.02 711.65,510.21 712.72,510.40 713.79,510.59 714.85,510.77 715.92,510.95 716.99,511.13 718.06,511.31 719.13,511.48 720.20,511.65 721.27,511.82 722.34,511.99 723.41,512.15 724.47,512.31 725.54,512.47 726.61,512.63 727.68,512.79 728.75,512.94 729.82,513.09 730.89,513.24 731.96,513.38 733.03,513.53 734.09,513.67 735.16,513.81 736.23,513.95 737.30,514.09" fill="none" stroke="#00ff00" stroke-width="4.0" stroke-linejoin="round"/>
<polyline points="96.00,526.30 97.07,526.24 98.14,526.16 99.21,526.08 100.28,525.99 101.34,525.89 102.41,525.79 103.48,525.68 104.55,525.57 105.62,525.45 106.69,525.34 107.76,525.23 108.83,525.13 109.89,525.04 110.96,524.95 112.03,524.88 113.10,524.82 114.17,524.77 115.24,524.74 116.31,524.71 117.38,524.68 118.45,524.66 119.51,524.63 120.58,524.58 121.65,524.50 122.72,524.39 123.79,524.22 124.86,523.99 125.93,523.67 127.00,523.27 128.07,522.75 129.13,522.11 130.20,521.34 131.27,520.42 132.34,519.34 133.41,518.10 134.48,516.71 135.55,515.14 136.62,513.42 137.68,511.54 138.75,509.52 139.82,507.37 140.89,505.10 141.96,502.74 143.03,500.29 144.10,497.78 145.17,495.23 146.24,492.66 147.30,490.09 148.37,487.53 149.44,485.00 150.51,482.51 151.58,480.08 152.65,477.70 153.72,475.40 154.79,473.17 155.85,471.01 156.92,468.93 157.99,466.91 159.06,464.96 160.13,463.07 161.20,461.24 162.27,459.46 163.34,457.72 164.41,456.03 165.47,454.37 166.54,452.75 167.61,451.16 168.68,449.61 169.75,448.09 170.82,446.60 171.89,445.15 172.96,443.74 174.02,442.38 175.09,441.06 176.16,439.79 177.23,438.58 178.30,437.43 179.37,436.33 180.44,435.30 181.51,434.33 182.58,433.43 183.64,432.59 184.71,431.80 185.78,431.08 186.85,430.41 187.92,429.79 188.99,429.22 190.06,428.70 191.13,428.21 192.20,427.76 193.26,427.34 194.33,426.95 195.40,426.58 196.47,426.24 197.54,425.91 198.61,425.59 199.68,425.29 200.75,425.00 201.81,424.72 202.88,424.44 203.95,424.17 205.02,423.90 206.09,423.64 207.16,423.37 208.23,423.10 209.30,422.83 210.37,422.55 211.43,422.26 212.50,421.96 213.57,421.65 214.64,421.32 215.71,420.98 216.78,420.62 217.85,420.23 218.92,419.82 219.98,419.39 221.05,418.92 222.12,418.42 223.19,417.89 224.26,417.32 225.33,416.71 226.40,416.05 227.47,415.35 228.54,414.60 229.60,413.79 230.67,412.92 231.74,411.99 232.81,411.00 233.88,409.95 234.95,408.82 236.02,407.62 237.09,406.34 238.15,404.99 239.22,403.57 240.29,402.07 241.36,400.50 242.43,398.85 243.50,397.14 244.57,395.37 245.64,393.54 246.71,391.65 247.77,389.72 248.84,387.74 249.91,385.73 250.98,383.68 252.05,381.61 253.12,379.52 254.19,377.41 255.26,375.28 256.33,373.14 257.39,370.98 258.46,368.80 259.53,366.61 260.60,364.39 261.67,362.15 262.74,359.87 263.81,357.55 264.88,355.19 265.94,352.77 267.01,350.29 268.08,347.74 269.15,345.12 270.22,342.42 271.29,339.63 272.36,336.75 273.43,333.78 274.50,330.71 275.56,327.55 276.63,324.29 277.70,320.93 278.77,317.48 279.84,313.93 280.91,310.30 281.98,306.58 283.05,302.78 284.11,298.90 285.18,294.95 286.25,290.93 287.32,286.85 288.39,282.71 289.46,278.53 290.53,274.29 291.60,270.01 292.67,265.70 293.73,261.36 294.80,256.99 295.87,252.59 296.94,248.18 298.01,243.75 299.08,239.31 300.15,234.87 301.22,230.42 302.28,225.97 303.35,221.53 304.42,217.10 305.49,212.67 306.56,208.26 307.63,203.87 308.70,199.50 309.77,195.16 310.84,190.84 311.90,186.55 312.97,182.30 314.04,178.09 315.11,173.92 316.18,169.79 317.25,165.71 318.32,161.67 319.39,157.69 320.46,153.77 321.52,149.90 322.59,146.09 323.66,142.34 324.73,138.65 325.80,135.03 326.87,131.48 327.94,127.99 329.01,124.58 330.07,121.23 331.14,117.96 332.21,114.76 333.28,111.64 334.35,108.59 335.42,105.61 336.49,102.72 337.56,99.90 338.63,97.16 339.69,94.49 340.76,91.91 341.83,89.40 342.90,86.98 343.97,84.63 345.04,82.37 346.11,80.18 347.18,78.08 348.24,76.05 349.31,74.11 350.38,72.25 351.45,70.47 352.52,68.78 353.59,67.16 354.66,65.63 355.73,64.18 356.80,62.82 357.86,61.53 358.93,60.33 360.00,59.21 361.07,58.18 362.14,57.22 363.21,56.35 364.28,55.55 365.35,54.84 366.42,54.21 367.48,53.65 368.55,53.18 369.62,52.78 370.69,52.46 371.76,52.22 372.83,52.05 373.90,51.96 374.97,51.94 376.03,52.00 377.10,52.15 378.17,52.37 379.24,52.68 380.31,53.07 381.38,53.53 382.45,54.07 383.52,54.69 384.59,55.38 385.65,56.15 386.72,56.99 387.79,57.90 388.86,58.87 389.93,59.92 391.00,61.03 392.07,62.21 393.14,63.46 394.20,64.76 395.27,66.13 396.34,67.55 397.41,69.04 398.48,70.58 399.55,72.18 400.62,73.83 401.69,75.54 402.76,77.29 403.82,79.10 404.89,80.96 405.96,82.86 407.03,84.81 408.10,86.80 409.17,88.84 410.24,90.92 411.31,93.04 412.37,95.20 413.44,97.39 414.51,99.62 415.58,101.89 416.65,104.19 417.72,106.53 418.79,108.90 419.86,111.29 420.93,113.72 421.99,116.17 423.06,118.65 424.13,121.15 425.20,123.68 426.27,126.23 427.34,128.80 428.41,131.40 429.48,134.01 430.55,136.64 431.61,139.29 432.68,141.96 433.75,144.64 434.82,147.33 435.89,150.04 436.96,152.76 438.03,155.49 439.10,158.23 440.16,160.98 441.23,163.74 442.30,166.51 443.37,169.28 444.44,172.06 445.51,174.85 446.58,177.63 447.65,180.43 448.72,183.22 449.78,186.02 450.85,188.81 451.92,191.61 452.99,194.41 454.06,197.20 455.13,200.00 456.20,202.79 457.27,205.58 458.33,208.36 459.40,211.14 460.47,213.92 461.54,216.69 462.61,219.45 463.68,222.21 464.75,224.96 465.82,227.71 466.89,230.44 467.95,233.17 469.02,235.89 470.09,238.59 471.16,241.29 472.23,243.98 473.30,246.66 474.37,249.33 475.44,251.98 476.50,254.62 477.57,257.26 478.64,259.88 479.71,262.48 480.78,265.08 481.85,267.66 482.92,270.23 483.99,272.78 485.06,275.32 486.12,277.85 487.19,280.36 488.26,282.86 489.33,285.34 490.40,287.81 491.47,290.26 492.54,292.70 493.61,295.12 494.68,297.53 495.74,299.92 496.81,302.30 497.88,304.66 498.95,307.01 500.02,309.34 501.09,311.65 502.16,313.95 503.23,316.23 504.29,318.50 505.36,320.75 506.43,322.98 507.50,325.20 508.57,327.40 509.64,329.59 510.71,331.76 511.78,333.91 512.85,336.05 513.91,338.17 514.98,340.27 516.05,342.36 517.12,344.43 518.19,346.48 519.26,348.52 520.33,350.55 521.40,352.55 522.46,354.54 523.53,356.51 524.60,358.47 525.67,360.41 526.74,362.33 527.81,364.24 528.88,366.13 529.95,368.00 531.02,369.86 532.08,371.70 533.15,373.52 534.22,375.33 535.29,377.12 536.36,378.89 537.43,380.65 538.50,382.39 539.57,384.11 540.63,385.81 541.70,387.50 542.77,389.17 543.84,390.83 544.91,392.46 545.98,394.08 547.05,395.69 548.12,397.27 549.19,398.84 550.25,400.39 551.32,401.92 552.39,403.44 553.46,404.94 554.53,406.42 555.60,407.89 556.67,409.34 557.74,410.77 558.81,412.18 559.87,413.57 560.94,414.95 562.01,416.31 563.08,417.66 564.15,418.99 565.22,420.30 566.29,421.59 567.36,422.87 568.42,424.13 569.49,425.37 570.56,426.60 571.63,427.81 572.70,429.00 573.77,430.18 574.84,431.34 575.91,432.48 576.98,433.61 578.04,434.72 579.11,435.82 580.18,436.90 581.25,437.96 582.32,439.01 583.39,440.05 584.46,441.07 585.53,442.08 586.59,443.07 587.66,444.05 588.73,445.01 589.80,445.96 590.87,446.89 591.94,447.82 593.01,448.72 594.08,449.62 595.15,450.50 596.21,451.38 597.28,452.23 598.35,453.08 599.42,453.92 600.49,454.74 601.56,455.55 602.63,456.36 603.70,457.15 604.76,457.93 605.83,458.70 606.90,459.46 607.97,460.21 609.04,460.96 610.11,461.69 611.18,462.42 612.25,463.13 613.32,463.84 614.38,464.54 615.45,465.24 616.52,465.92 617.59,466.60 618.66,467.27 619.73,467.94 620.80,468.60 621.87,469.25 622.94,469.90 624.00,470.54 625.07,471.17 626.14,471.80 627.21,472.42 628.28,473.04 629.35,473.66 630.42,474.26 631.49,474.87 632.55,475.47 633.62,476.06 634.69,476.65 635.76,477.23 636.83,477.81 637.90,478.39 638.97,478.96 640.04,479.52 641.11,480.09 642.17,480.64 643.24,481.20 644.31,481.75 645.38,482.29 646.45,482.83 647.52,483.37 648.59,483.90 649.66,484.43 650.72,484.95 651.79,485.47 652.86,485.98 653.93,486.49 655.00,486.99 656.07,487.49 657.14,487.98 658.21,488.47 659.28,488.96 660.34,489.44 661.41,489.91 662.48,490.38 663.55,490.84 664.62,491.30 665.69,491.76 666.76,492.21 667.83,492.65 668.90,493.09 669.96,493.52 671.03,493.95 672.10,494.37 673.17,494.79 674.24,495.20 675.31,495.60 676.38,496.00 677.45,496.40 678.51,496.79 679.58,497.17 680.65,497.55 681.72,497.93 682.79,498.29 683.86,498.66 684.93,499.02 686.00,499.37 687.07,499.72 688.13,500.06 689.20,500.40 690.27,500.73 691.34,501.06 692.41,501.38 693.48,501.70 694.55,502.01 695.62,502.32 696.68,502.63 697.75,502.93 698.82,503.22 699.89,503.51 700.96,503.80 702.03,504.08 703.10,504.36 704.17,504.63 705.24,504.90 706.30,505.17 707.37,505.43 708.44,505.69 709.51,505.94 710.58,506.20 711.65,506.44 712.72,506.69 713.79,506.93 714.85,507.16 715.92,507.40 716.99,507.63 718.06,507.85 719.13,508.08 720.20,508.30 721.27,508.51 722.34,508.73 723.41,508.94 724.47,509.14 725.54,509.35 726.61,509.55 727.68,509.75 728.75,509.95 729.82,510.14 730.89,510.33 731.96,510.52 733.03,510.71 734.09,510.89 735.16,511.07 736.23,511.25 737.30,511.42" fill="none" stroke="#0000ff" stroke-width="4.0" stroke-linejoin="round"/>
<polyline points="96.00,526.50 97.07,526.49 98.14,526.48 99.21,526.47 100.28,526.46 101.34,526.45 102.41,526.44 103.48,526.44 104.55,526.43 105.62,526.42 106.69,526.42 107.76,526.41 108.83,526.41 109.89,526.41 110.96,526.41 112.03,526.41 113.10,526.41 114.17,526.41 115.24,526.41 116.31,526.41 117.38,526.41 118.45,526.40 119.51,526.39 120.58,526.37 121.65,526.35 122.72,526.31 123.79,526.27 124.86,526.22 125.93,526.16 127.00,526.09 128.07,526.01 129.13,525.92 130.20,525.81 131.27,525.70 132.34,525.58 133.41,525.44 134.48,525.30 135.55,525.16 136.62,525.01 137.68,524.86 138.75,524.70 139.82,524.54 140.89,524.37 141.96,524.21 143.03,524.04 144.10,523.87 145.17,523.69 146.24,523.50 147.30,523.30 148.37,523.09 149.44,522.86 150.51,522.60 151.58,522.32 152.65,522.02 153.72,521.67 154.79,521.29 155.85,520.87 156.92,520.40 157.99,519.88 159.06,519.31 160.13,518.68 161.20,518.01 162.27,517.28 163.34,516.51 164.41,515.68 165.47,514.81 166.54,513.90 167.61,512.95 168.68,511.96 169.75,510.95 170.82,509.92 171.89,508.87 172.96,507.81 174.02,506.75 175.09,505.70 176.16,504.65 177.23,503.61 178.30,502.59 179.37,501.60 180.44,500.63 181.51,499.68 182.58,498.77 183.64,497.88 184.71,497.03 185.78,496.20 186.85,495.41 187.92,494.64 188.99,493.90 190.06,493.18 191.13,492.48 192.20,491.80 193.26,491.14 194.33,490.48 195.40,489.84 196.47,489.19 197.54,488.55 198.61,487.90 199.68,487.25 200.75,486.58 201.81,485.91 202.88,485.22 203.95,484.51 205.02,483.78 206.09,483.03 207.16,482.26 208.23,481.46 209.30,480.64 210.37,479.80 211.43,478.93 212.50,478.04 213.57,477.12 214.64,476.17 215.71,475.20 216.78,474.21 217.85,473.19 218.92,472.14 219.98,471.06 221.05,469.95 222.12,468.81 223.19,467.64 224.26,466.42 225.33,465.17 226.40,463.88 227.47,462.54 228.54,461.14 229.60,459.69 230.67,458.17 231.74,456.59 232.81,454.94 233.88,453.21 234.95,451.40 236.02,449.51 237.09,447.53 238.15,445.46 239.22,443.30 240.29,441.06 241.36,438.72 242.43,436.29 243.50,433.78 244.57,431.19 245.64,428.52 246.71,425.77 247.77,422.95 248.84,420.07 249.91,417.13 250.98,414.13 252.05,411.07 253.12,407.97 254.19,404.83 255.26,401.64 256.33,398.41 257.39,395.13 258.46,391.81 259.53,388.45 260.60,385.04 261.67,381.57 262.74,378.05 263.81,374.47 264.88,370.81 265.94,367.09 267.01,363.29 268.08,359.41 269.15,355.44 270.22,351.38 271.29,347.23 272.36,342.98 273.43,338.64 274.50,334.21 275.56,329.68 276.63,325.06 277.70,320.35 278.77,315.56 279.84,310.69 280.91,305.74 281.98,300.73 283.05,295.66 284.11,290.54 285.18,285.37 286.25,280.17 287.32,274.93 288.39,269.67 289.46,264.39 290.53,259.10 291.60,253.81 292.67,248.52 293.73,243.24 294.80,237.97 295.87,232.72 296.94,227.49 298.01,222.29 299.08,217.13 300.15,211.99 301.22,206.90 302.28,201.85 303.35,196.85 304.42,191.89 305.49,186.98 306.56,182.13 307.63,177.34 308.70,172.61 309.77,167.94 310.84,163.34 311.90,158.80 312.97,154.34 314.04,149.95 315.11,145.63 316.18,141.39 317.25,137.24 318.32,133.16 319.39,129.17 320.46,125.27 321.52,121.45 322.59,117.73 323.66,114.10 324.73,110.56 325.80,107.12 326.87,103.78 327.94,100.53 329.01,97.39 330.07,94.35 331.14,91.40 332.21,88.57 333.28,85.83 334.35,83.21 335.42,80.69 336.49,78.27 337.56,75.96 338.63,73.76 339.69,71.67 340.76,69.68 341.83,67.81 342.90,66.04 343.97,64.37 345.04,62.82 346.11,61.37 347.18,60.03 348.24,58.80 349.31,57.67 350.38,56.65 351.45,55.73 352.52,54.92 353.59,54.21 354.66,53.60 355.73,53.10 356.80,52.69 357.86,52.39 358.93,52.18 360.00,52.07 361.07,52.06 362.14,52.14 363.21,52.33 364.28,52.61 365.35,52.99 366.42,53.47 367.48,54.04 368.55,54.70 369.62,55.45 370.69,56.29 371.76,57.22 372.83,58.24 373.90,59.34 374.97,60.52 376.03,61.78 377.10,63.12 378.17,64.54 379.24,66.03 380.31,67.60 381.38,69.23 382.45,70.94 383.52,72.72 384.59,74.56 385.65,76.46 386.72,78.43 387.79,80.46 388.86,82.55 389.93,84.69 391.00,86.89 392.07,89.14 393.14,91.45 394.20,93.80 395.27,96.21 396.34,98.65 397.41,101.15 398.48,103.68 399.55,106.26 400.62,108.88 401.69,111.53 402.76,114.22 403.82,116.95 404.89,119.70 405.96,122.49 407.03,125.31 408.10,128.16 409.17,131.03 410.24,133.93 411.31,136.86 412.37,139.80 413.44,142.77 414.51,145.75 415.58,148.75 416.65,151.77 417.72,154.81 418.79,157.86 419.86,160.92 420.93,164.00 421.99,167.08 423.06,170.17 424.13,173.27 425.20,176.38 426.27,179.50 427.34,182.61 428.41,185.74 429.48,188.86 430.55,191.99 431.61,195.12 432.68,198.24 433.75,201.37 434.82,204.49 435.89,207.61 436.96,210.73 438.03,213.84 439.10,216.95 440.16,220.05 441.23,223.14 442.30,226.23 443.37,229.31 444.44,232.37 445.51,235.43 446.58,238.48 447.65,241.52 448.72,244.55 449.78,247.56 450.85,250.56 451.92,253.55 452.99,256.53 454.06,259.49 455.13,262.44 456.20,265.37 457.27,268.29 458.33,271.19 459.40,274.07 460.47,276.94 461.54,279.79 462.61,282.63 463.68,285.45 464.75,288.25 465.82,291.03 466.89,293.80 467.95,296.54 469.02,299.27 470.09,301.98 471.16,304.67 472.23,307.34 473.30,309.99 474.37,312.62 475.44,315.24 476.50,317.83 477.57,320.40 478.64,322.95 479.71,325.49 480.78,328.00 481.85,330.49 482.92,332.96 483.99,335.41 485.06,337.84 486.12,340.25 487.19,342.64 488.26,345.00 489.33,347.35 490.40,349.68 491.47,351.98 492.54,354.26 493.61,356.52 494.68,358.76 495.74,360.98 496.81,363.18 497.88,365.36 498.95,367.51 500.02,369.65 501.09,371.76 502.16,373.85 503.23,375.92 504.29,377.97 505.36,379.99 506.43,382.00 507.50,383.98 508.57,385.94 509.64,387.88 510.71,389.80 511.78,391.70 512.85,393.57 513.91,395.43 514.98,397.26 516.05,399.07 517.12,400.86 518.19,402.62 519.26,404.37 520.33,406.09 521.40,407.79 522.46,409.47 523.53,411.13 524.60,412.77 525.67,414.39 526.74,415.98 527.81,417.55 528.88,419.10 529.95,420.63 531.02,422.14 532.08,423.63 533.15,425.10 534.22,426.54 535.29,427.96 536.36,429.37 537.43,430.75 538.50,432.11 539.57,433.45 540.63,434.77 541.70,436.07 542.77,437.35 543.84,438.61 544.91,439.84 545.98,441.06 547.05,442.26 548.12,443.44 549.19,444.60 550.25,445.74 551.32,446.86 552.39,447.97 553.46,449.05 554.53,450.12 555.60,451.17 556.67,452.20 557.74,453.21 558.81,454.21 559.87,455.19 560.94,456.15 562.01,457.10 563.08,458.03 564.15,458.95 565.22,459.85 566.29,460.73 567.36,461.60 568.42,462.46 569.49,463.30 570.56,464.13 571.63,464.95 572.70,465.75 573.77,466.54 574.84,467.32 575.91,468.09 576.98,468.85 578.04,469.59 579.11,470.32 580.18,471.05 581.25,471.76 582.32,472.47 583.39,473.16 584.46,473.84 585.53,474.52 586.59,475.19 587.66,475.85 588.73,476.50 589.80,477.14 590.87,477.78 591.94,478.41 593.01,479.03 594.08,479.64 595.15,480.25 596.21,480.85 597.28,481.44 598.35,482.03 599.42,482.61 600.49,483.19 601.56,483.76 602.63,484.32 603.70,484.87 604.76,485.43 605.83,485.97 606.90,486.51 607.97,487.04 609.04,487.57 610.11,488.09 611.18,488.60 612.25,489.11 613.32,489.61 614.38,490.11 615.45,490.60 616.52,491.08 617.59,491.56 618.66,492.03 619.73,492.49 620.80,492.95 621.87,493.40 622.94,493.85 624.00,494.29 625.07,494.72 626.14,495.14 627.21,495.56 628.28,495.98 629.35,496.38 630.42,496.78 631.49,497.17 632.55,497.56 633.62,497.94 634.69,498.31 635.76,498.68 636.83,499.04 637.90,499.39 638.97,499.74 640.04,500.08 641.11,500.41 642.17,500.74 643.24,501.07 644.31,501.38 645.38,501.70 646.45,502.00 647.52,502.30 648.59,502.60 649.66,502.89 650.72,503.17 651.79,503.45 652.86,503.73 653.93,504.00 655.00,504.26 656.07,504.52 657.14,504.78 658.21,505.03 659.28,505.28 660.34,505.53 661.41,505.77 662.48,506.01 663.55,506.25 664.62,506.48 665.69,506.71 666.76,506.93 667.83,507.16 668.90,507.38 669.96,507.60 671.03,507.82 672.10,508.03 673.17,508.24 674.24,508.45 675.31,508.66 676.38,508.87 677.45,509.07 678.51,509.27 679.58,509.47 680.65,509.67 681.72,509.87 682.79,510.07 683.86,510.26 684.93,510.46 686.00,510.65 687.07,510.84 688.13,511.03 689.20,511.22 690.27,511.40 691.34,511.59 692.41,511.77 693.48,511.96 694.55,512.14 695.62,512.32 696.68,512.50 697.75,512.68 698.82,512.85 699.89,513.03 700.96,513.20 702.03,513.37 703.10,513.55 704.17,513.72 705.24,513.88 706.30,514.05 707.37,514.22 708.44,514.38 709.51,514.55 710.58,514.71 711.65,514.87 712.72,515.02 713.79,515.18 714.85,515.34 715.92,515.49 716.99,515.64 718.06,515.79 719.13,515.94 720.20,516.09 721.27,516.23 722.34,516.38 723.41,516.52 724.47,516.66 725.54,516.80 726.61,516.94 727.68,517.07 728.75,517.21 729.82,517.34 730.89,517.47 731.96,517.60 733.03,517.72 734.09,517.85 735.16,517.97 736.23,518.09 737.30,518.21" fill="none" stroke="#00ffff" stroke-width="4.0" stroke-linejoin="round"/>
<polyline points="96.00,526.31 97.07,526.28 98.14,526.25 99.21,526.22 100.28,526.19 101.34,526.15 102.41,526.11 103.48,526.07 104.55,526.02 105.62,525.98 106.69,525.93 107.76,525.87 108.83,525.82 109.89,525.76 110.96,525.70 112.03,525.62 113.10,525.55 114.17,525.46 115.24,525.36 116.31,525.24 117.38,525.10 118.45,524.94 119.51,524.75 120.58,524.52 121.65,524.24 122.72,523.92 123.79,523.54 124.86,523.09 125.93,522.57 127.00,521.98 128.07,521.29 129.13,520.52 130.20,519.65 131.27,518.68 132.34,517.60 133.41,516.42 134.48,515.13 135.55,513.75 136.62,512.26 137.68,510.67 138.75,509.00 139.82,507.24 140.89,505.41 141.96,503.52 143.03,501.57 144.10,499.58 145.17,497.54 146.24,495.49 147.30,493.41 148.37,491.33 149.44,489.24 150.51,487.16 151.58,485.08 152.65,483.02 153.72,480.97 154.79,478.94 155.85,476.92 156.92,474.91 157.99,472.92 159.06,470.93 160.13,468.95 161.20,466.98 162.27,465.00 163.34,463.03 164.41,461.05 165.47,459.06 166.54,457.07 167.61,455.07 168.68,453.07 169.75,451.08 170.82,449.09 171.89,447.11 172.96,445.14 174.02,443.21 175.09,441.31 176.16,439.46 177.23,437.66 178.30,435.93 179.37,434.27 180.44,432.70 181.51,431.22 182.58,429.84 183.64,428.56 184.71,427.39 185.78,426.33 186.85,425.39 187.92,424.55 188.99,423.83 190.06,423.21 191.13,422.68 192.20,422.25 193.26,421.90 194.33,421.63 195.40,421.43 196.47,421.29 197.54,421.20 198.61,421.16 199.68,421.15 200.75,421.18 201.81,421.23 202.88,421.30 203.95,421.39 205.02,421.49 206.09,421.60 207.16,421.72 208.23,421.84 209.30,421.96 210.37,422.09 211.43,422.20 212.50,422.31 213.57,422.41 214.64,422.50 215.71,422.57 216.78,422.61 217.85,422.63 218.92,422.61 219.98,422.56 221.05,422.46 222.12,422.32 223.19,422.13 224.26,421.89 225.33,421.59 226.40,421.23 227.47,420.80 228.54,420.32 229.60,419.77 230.67,419.15 231.74,418.47 232.81,417.71 233.88,416.89 234.95,415.99 236.02,415.01 237.09,413.95 238.15,412.81 239.22,411.57 240.29,410.24 241.36,408.80 242.43,407.24 243.50,405.56 244.57,403.75 245.64,401.80 246.71,399.70 247.77,397.45 248.84,395.03 249.91,392.46 250.98,389.71 252.05,386.80 253.12,383.72 254.19,380.47 255.26,377.07 256.33,373.52 257.39,369.83 258.46,366.01 259.53,362.08 260.60,358.04 261.67,353.91 262.74,349.71 263.81,345.46 264.88,341.15 265.94,336.81 267.01,332.45 268.08,328.07 269.15,323.68 270.22,319.28 271.29,314.89 272.36,310.49 273.43,306.08 274.50,301.67 275.56,297.24 276.63,292.79 277.70,288.32 278.77,283.81 279.84,279.27 280.91,274.68 281.98,270.03 283.05,265.32 284.11,260.56 285.18,255.73 286.25,250.83 287.32,245.88 288.39,240.86 289.46,235.78 290.53,230.65 291.60,225.48 292.67,220.28 293.73,215.05 294.80,209.80 295.87,204.55 296.94,199.31 298.01,194.09 299.08,188.89 300.15,183.74 301.22,178.64 302.28,173.60 303.35,168.63 304.42,163.74 305.49,158.93 306.56,154.22 307.63,149.60 308.70,145.09 309.77,140.68 310.84,136.39 311.90,132.20 312.97,128.13 314.04,124.18 315.11,120.33 316.18,116.61 317.25,112.99 318.32,109.49 319.39,106.10 320.46,102.83 321.52,99.66 322.59,96.60 323.66,93.65 324.73,90.81 325.80,88.07 326.87,85.44 327.94,82.91 329.01,80.48 330.07,78.15 331.14,75.93 332.21,73.80 333.28,71.77 334.35,69.85 335.42,68.02 336.49,66.30 337.56,64.67 338.63,63.14 339.69,61.71 340.76,60.38 341.83,59.14 342.90,58.01 343.97,56.97 345.04,56.04 346.11,55.20 347.18,54.45 348.24,53.81 349.31,53.26 350.38,52.80 351.45,52.44 352.52,52.18 353.59,52.01 354.66,51.93 355.73,51.94 356.80,52.05 357.86,52.27 358.93,52.59 360.00,53.00 361.07,53.52 362.14,54.13 363.21,54.84 364.28,55.63 365.35,56.53 366.42,57.51 367.48,58.57 368.55,59.73 369.62,60.97 370.69,62.29 371.76,63.69 372.83,65.17 373.90,66.73 374.97,68.36 376.03,70.07 377.10,71.85 378.17,73.70 379.24,75.61 380.31,77.59 381.38,79.64 382.45,81.74 383.52,83.91 384.59,86.13 385.65,88.41 386.72,90.74 387.79,93.13 388.86,95.57 389.93,98.05 391.00,100.58 392.07,103.16 393.14,105.78 394.20,108.44 395.27,111.14 396.34,113.88 397.41,116.65 398.48,119.46 399.55,122.30 400.62,125.18 401.69,128.08 402.76,131.01 403.82,133.96 404.89,136.94 405.96,139.95 407.03,142.97 408.10,146.02 409.17,149.08 410.24,152.17 411.31,155.26 412.37,158.38 413.44,161.50 414.51,164.64 415.58,167.79 416.65,170.95 417.72,174.11 418.79,177.29 419.86,180.47 420.93,183.65 421.99,186.84 423.06,190.03 424.13,193.22 425.20,196.42 426.27,199.61 427.34,202.80 428.41,205.99 429.48,209.18 430.55,212.36 431.61,215.54 432.68,218.71 433.75,221.88 434.82,225.04 435.89,228.20 436.96,231.34 438.03,234.48 439.10,237.60 440.16,240.72 441.23,243.83 442.30,246.92 443.37,250.00 444.44,253.07 445.51,256.13 446.58,259.18 447.65,262.21 448.72,265.23 449.78,268.23 450.85,271.22 451.92,274.20 452.99,277.16 454.06,280.10 455.13,283.03 456.20,285.95 457.27,288.84 458.33,291.72 459.40,294.59 460.47,297.43 461.54,300.26 462.61,303.07 463.68,305.87 464.75,308.65 465.82,311.41 466.89,314.15 467.95,316.87 469.02,319.58 470.09,322.26 471.16,324.93 472.23,327.58 473.30,330.21 474.37,332.82 475.44,335.41 476.50,337.98 477.57,340.54 478.64,343.07 479.71,345.58 480.78,348.07 481.85,350.54 482.92,352.99 483.99,355.42 485.06,357.83 486.12,360.21 487.19,362.58 488.26,364.92 489.33,367.24 490.40,369.54 491.47,371.81 492.54,374.06 493.61,376.29 494.68,378.49 495.74,380.67 496.81,382.82 497.88,384.95 498.95,387.06 500.02,389.13 501.09,391.19 502.16,393.21 503.23,395.21 504.29,397.18 505.36,399.13 506.43,401.05 507.50,402.94 508.57,404.80 509.64,406.64 510.71,408.45 511.78,410.23 512.85,411.98 513.91,413.70 514.98,415.39 516.05,417.06 517.12,418.69 518.19,420.30 519.26,421.88 520.33,423.43 521.40,424.95 522.46,426.45 523.53,427.91 524.60,429.35 525.67,430.76 526.74,432.14 527.81,433.49 528.88,434.82 529.95,436.12 531.02,437.39 532.08,438.64 533.15,439.87 534.22,441.06 535.29,442.24 536.36,443.39 537.43,444.51 538.50,445.61 539.57,446.69 540.63,447.75 541.70,448.79 542.77,449.81 543.84,450.80 544.91,451.78 545.98,452.74 547.05,453.68 548.12,454.60 549.19,455.50 550.25,456.39 551.32,457.26 552.39,458.12 553.46,458.96 554.53,459.79 555.60,460.61 556.67,461.41 557.74,462.20 558.81,462.98 559.87,463.75 560.94,464.50 562.01,465.25 563.08,465.99 564.15,466.71 565.22,467.43 566.29,468.14 567.36,468.84 568.42,469.53 569.49,470.21 570.56,470.89 571.63,471.56 572.70,472.23 573.77,472.88 574.84,473.53 575.91,474.18 576.98,474.82 578.04,475.45 579.11,476.07 580.18,476.70 581.25,477.31 582.32,477.92 583.39,478.53 584.46,479.13 585.53,479.72 586.59,480.31 587.66,480.90 588.73,481.48 589.80,482.05 590.87,482.62 591.94,483.19 593.01,483.75 594.08,484.30 595.15,484.85 596.21,485.40 597.28,485.94 598.35,486.47 599.42,487.00 600.49,487.53 601.56,488.05 602.63,488.56 603.70,489.07 604.76,489.57 605.83,490.07 606.90,490.57 607.97,491.06 609.04,491.54 610.11,492.02 611.18,492.50 612.25,492.96 613.32,493.43 614.38,493.89 615.45,494.34 616.52,494.79 617.59,495.23 618.66,495.67 619.73,496.10 620.80,496.53 621.87,496.95 622.94,497.37 624.00,497.78 625.07,498.19 626.14,498.59 627.21,498.99 628.28,499.38 629.35,499.76 630.42,500.15 631.49,500.52 632.55,500.90 633.62,501.26 634.69,501.62 635.76,501.98 636.83,502.33 637.90,502.68 638.97,503.03 640.04,503.36 641.11,503.70 642.17,504.03 643.24,504.35 644.31,504.67 645.38,504.98 646.45,505.29 647.52,505.60 648.59,505.90 649.66,506.20 650.72,506.49 651.79,506.78 652.86,507.06 653.93,507.34 655.00,507.62 656.07,507.89 657.14,508.16 658.21,508.42 659.28,508.68 660.34,508.94 661.41,509.19 662.48,509.43 663.55,509.68 664.62,509.92 665.69,510.15 666.76,510.39 667.83,510.62 668.90,510.84 669.96,511.07 671.03,511.29 672.10,511.50 673.17,511.71 674.24,511.92 675.31,512.13 676.38,512.34 677.45,512.54 678.51,512.74 679.58,512.93 680.65,513.13 681.72,513.32 682.79,513.51 683.86,513.69 684.93,513.88 686.00,514.06 687.07,514.24 688.13,514.42 689.20,514.60 690.27,514.77 691.34,514.94 692.41,515.11 693.48,515.28 694.55,515.45 695.62,515.62 696.68,515.78 697.75,515.94 698.82,516.11 699.89,516.27 700.96,516.42 702.03,516.58 703.10,516.74 704.17,516.89 705.24,517.05 706.30,517.20 707.37,517.35 708.44,517.50 709.51,517.65 710.58,517.80 711.65,517.95 712.72,518.09 713.79,518.24 714.85,518.38 715.92,518.52 716.99,518.66 718.06,518.80 719.13,518.94 720.20,519.08 721.27,519.21 722.34,519.35 723.41,519.48 724.47,519.61 725.54,519.74 726.61,519.87 727.68,520.00 728.75,520.12 729.82,520.25 730.89,520.37 731.96,520.49 733.03,520.61 734.09,520.72 735.16,520.84 736.23,520.95 737.30,521.06" fill="none" stroke="#ff00ff" stroke-width="4.0" stroke-linejoin="round"/>
<polyline points="96.00,526.02 97.07,525.95 98.14,525.87 99.21,525.78 100.28,525.68 101.34,525.57 102.41,525.45 103.48,525.32 104.55,525.18 105.62,525.02 106.69,524.85 107.76,524.66 108.83,524.45 109.89,524.23 110.96,523.97 112.03,523.70 113.10,523.39 114.17,523.04 115.24,522.66 116.31,522.23 117.38,521.75 118.45,521.22 119.51,520.62 120.58,519.95 121.65,519.21 122.72,518.40 123.79,517.50 124.86,516.52 125.93,515.45 127.00,514.29 128.07,513.04 129.13,511.70 130.20,510.28 131.27,508.77 132.34,507.18 133.41,505.52 134.48,503.79 135.55,502.00 136.62,500.14 137.68,498.24 138.75,496.29 139.82,494.30 140.89,492.27 141.96,490.21 143.03,488.12 144.10,486.00 145.17,483.84 146.24,481.66 147.30,479.45 148.37,477.20 149.44,474.92 150.51,472.60 151.58,470.23 152.65,467.82 153.72,465.37 154.79,462.87 155.85,460.32 156.92,457.73 157.99,455.10 159.06,452.44 160.13,449.75 161.20,447.05 162.27,444.34 163.34,441.65 164.41,438.97 165.47,436.34 166.54,433.75 167.61,431.23 168.68,428.79 169.75,426.44 170.82,424.20 171.89,422.07 172.96,420.07 174.02,418.21 175.09,416.48 176.16,414.91 177.23,413.48 178.30,412.19 179.37,411.06 180.44,410.07 181.51,409.22 182.58,408.50 183.64,407.91 184.71,407.45 185.78,407.10 186.85,406.86 187.92,406.72 188.99,406.68 190.06,406.72 191.13,406.84 192.20,407.04 193.26,407.31 194.33,407.64 195.40,408.03 196.47,408.48 197.54,408.97 198.61,409.52 199.68,410.11 200.75,410.73 201.81,411.40 202.88,412.09 203.95,412.81 205.02,413.56 206.09,414.33 207.16,415.11 208.23,415.91 209.30,416.71 210.37,417.52 211.43,418.32 212.50,419.12 213.57,419.91 214.64,420.68 215.71,421.44 216.78,422.17 217.85,422.86 218.92,423.52 219.98,424.14 221.05,424.71 222.12,425.23 223.19,425.69 224.26,426.09 225.33,426.41 226.40,426.66 227.47,426.82 228.54,426.90 229.60,426.90 230.67,426.80 231.74,426.60 232.81,426.31 233.88,425.93 234.95,425.45 236.02,424.88 237.09,424.22 238.15,423.48 239.22,422.65 240.29,421.75 241.36,420.78 242.43,419.74 243.50,418.64 244.57,417.46 245.64,416.23 246.71,414.92 247.77,413.54 248.84,412.09 249.91,410.55 250.98,408.91 252.05,407.16 253.12,405.30 254.19,403.31 255.26,401.17 256.33,398.87 257.39,396.41 258.46,393.77 259.53,390.95 260.60,387.93 261.67,384.72 262.74,381.31 263.81,377.72 264.88,373.94 265.94,369.99 267.01,365.88 268.08,361.62 269.15,357.23 270.22,352.74 271.29,348.16 272.36,343.50 273.43,338.80 274.50,334.06 275.56,329.31 276.63,324.55 277.70,319.80 278.77,315.08 279.84,310.37 280.91,305.69 281.98,301.04 283.05,296.42 284.11,291.81 285.18,287.22 286.25,282.64 287.32,278.06 288.39,273.47 289.46,268.86 290.53,264.22 291.60,259.56 292.67,254.85 293.73,250.10 294.80,245.31 295.87,240.46 296.94,235.58 298.01,230.65 299.08,225.68 300.15,220.67 301.22,215.64 302.28,210.59 303.35,205.54 304.42,200.48 305.49,195.43 306.56,190.41 307.63,185.41 308.70,180.46 309.77,175.56 310.84,170.72 311.90,165.94 312.97,161.24 314.04,156.62 315.11,152.09 316.18,147.65 317.25,143.31 318.32,139.07 319.39,134.93 320.46,130.90 321.52,126.97 322.59,123.14 323.66,119.42 324.73,115.81 325.80,112.31 326.87,108.91 327.94,105.62 329.01,102.43 330.07,99.34 331.14,96.36 332.21,93.48 333.28,90.70 334.35,88.01 335.42,85.43 336.49,82.95 337.56,80.56 338.63,78.27 339.69,76.07 340.76,73.98 341.83,71.97 342.90,70.07 343.97,68.26 345.04,66.54 346.11,64.92 347.18,63.39 348.24,61.96 349.31,60.63 350.38,59.39 351.45,58.24 352.52,57.19 353.59,56.23 354.66,55.37 355.73,54.60 356.80,53.92 357.86,53.34 358.93,52.85 360.00,52.44 361.07,52.13 362.14,51.91 363.21,51.78 364.28,51.74 365.35,51.78 366.42,51.93 367.48,52.16 368.55,52.50 369.62,52.92 370.69,53.44 371.76,54.05 372.83,54.75 373.90,55.53 374.97,56.40 376.03,57.36 377.10,58.39 378.17,59.51 379.24,60.71 380.31,61.98 381.38,63.33 382.45,64.75 383.52,66.25 384.59,67.82 385.65,69.45 386.72,71.15 387.79,72.92 388.86,74.75 389.93,76.64 391.00,78.60 392.07,80.61 393.14,82.67 394.20,84.80 395.27,86.97 396.34,89.20 397.41,91.47 398.48,93.79 399.55,96.16 400.62,98.58 401.69,101.03 402.76,103.53 403.82,106.07 404.89,108.64 405.96,111.25 407.03,113.90 408.10,116.57 409.17,119.28 410.24,122.02 411.31,124.79 412.37,127.59 413.44,130.41 414.51,133.25 415.58,136.12 416.65,139.01 417.72,141.92 418.79,144.84 419.86,147.79 420.93,150.75 421.99,153.72 423.06,156.71 424.13,159.71 425.20,162.72 426.27,165.74 427.34,168.77 428.41,171.81 429.48,174.85 430.55,177.90 431.61,180.96 432.68,184.01 433.75,187.07 434.82,190.13 435.89,193.19 436.96,196.25 438.03,199.31 439.10,202.36 440.16,205.42 441.23,208.47 442.30,211.51 443.37,214.55 444.44,217.58 445.51,220.60 446.58,223.62 447.65,226.62 448.72,229.62 449.78,232.61 450.85,235.59 451.92,238.55 452.99,241.51 454.06,244.45 455.13,247.38 456.20,250.30 457.27,253.20 458.33,256.09 459.40,258.96 460.47,261.82 461.54,264.66 462.61,267.48 463.68,270.29 464.75,273.09 465.82,275.86 466.89,278.62 467.95,281.36 469.02,284.08 470.09,286.79 471.16,289.48 472.23,292.14 473.30,294.79 474.37,297.42 475.44,300.03 476.50,302.63 477.57,305.20 478.64,307.75 479.71,310.29 480.78,312.80 481.85,315.30 482.92,317.77 483.99,320.23 485.06,322.66 486.12,325.08 487.19,327.48 488.26,329.86 489.33,332.22 490.40,334.56 491.47,336.88 492.54,339.18 493.61,341.47 494.68,343.73 495.74,345.98 496.81,348.21 497.88,350.42 498.95,352.61 500.02,354.78 501.09,356.94 502.16,359.07 503.23,361.19 504.29,363.30 505.36,365.38 506.43,367.45 507.50,369.50 508.57,371.53 509.64,373.55 510.71,375.54 511.78,377.53 512.85,379.49 513.91,381.44 514.98,383.37 516.05,385.28 517.12,387.18 518.19,389.06 519.26,390.92 520.33,392.77 521.40,394.60 522.46,396.41 523.53,398.20 524.60,399.98 525.67,401.74 526.74,403.48 527.81,405.20 528.88,406.91 529.95,408.59 531.02,410.26 532.08,411.91 533.15,413.54 534.22,415.15 535.29,416.74 536.36,418.31 537.43,419.86 538.50,421.39 539.57,422.90 540.63,424.38 541.70,425.85 542.77,427.30 543.84,428.72 544.91,430.13 545.98,431.51 547.05,432.87 548.12,434.21 549.19,435.52 550.25,436.82 551.32,438.09 552.39,439.34 553.46,440.56 554.53,441.77 555.60,442.95 556.67,444.11 557.74,445.25 558.81,446.36 559.87,447.46 560.94,448.53 562.01,449.58 563.08,450.61 564.15,451.62 565.22,452.61 566.29,453.58 567.36,454.53 568.42,455.45 569.49,456.36 570.56,457.25 571.63,458.13 572.70,458.98 573.77,459.82 574.84,460.64 575.91,461.45 576.98,462.24 578.04,463.01 579.11,463.77 580.18,464.52 581.25,465.25 582.32,465.97 583.39,466.67 584.46,467.37 585.53,468.05 586.59,468.73 587.66,469.39 588.73,470.04 589.80,470.69 590.87,471.32 591.94,471.95 593.01,472.57 594.08,473.18 595.15,473.78 596.21,474.38 597.28,474.98 598.35,475.56 599.42,476.14 600.49,476.72 601.56,477.29 602.63,477.86 603.70,478.42 604.76,478.97 605.83,479.53 606.90,480.08 607.97,480.62 609.04,481.16 610.11,481.70 611.18,482.24 612.25,482.77 613.32,483.29 614.38,483.82 615.45,484.34 616.52,484.86 617.59,485.37 618.66,485.88 619.73,486.39 620.80,486.89 621.87,487.39 622.94,487.89 624.00,488.38 625.07,488.86 626.14,489.35 627.21,489.83 628.28,490.30 629.35,490.78 630.42,491.24 631.49,491.70 632.55,492.16 633.62,492.61 634.69,493.06 635.76,493.51 636.83,493.94 637.90,494.38 638.97,494.81 640.04,495.23 641.11,495.65 642.17,496.06 643.24,496.47 644.31,496.87 645.38,497.27 646.45,497.66 647.52,498.04 648.59,498.42 649.66,498.80 650.72,499.17 651.79,499.53 652.86,499.89 653.93,500.25 655.00,500.59 656.07,500.94 657.14,501.28 658.21,501.61 659.28,501.94 660.34,502.26 661.41,502.57 662.48,502.89 663.55,503.19 664.62,503.50 665.69,503.80 666.76,504.09 667.83,504.38 668.90,504.66 669.96,504.94 671.03,505.22 672.10,505.49 673.17,505.76 674.24,506.02 675.31,506.28 676.38,506.53 677.45,506.78 678.51,507.03 679.58,507.28 680.65,507.52 681.72,507.75 682.79,507.99 683.86,508.22 684.93,508.45 686.00,508.67 687.07,508.89 688.13,509.11 689.20,509.33 690.27,509.54 691.34,509.75 692.41,509.96 693.48,510.16 694.55,510.36 695.62,510.56 696.68,510.76 697.75,510.95 698.82,511.15 699.89,511.34 700.96,511.52 702.03,511.71 703.10,511.89 704.17,512.07 705.24,512.25 706.30,512.43 707.37,512.61 708.44,512.78 709.51,512.95 710.58,513.12 711.65,513.29 712.72,513.45 713.79,513.61 714.85,513.78 715.92,513.94 716.99,514.09 718.06,514.25 719.13,514.40 720.20,514.55 721.27,514.70 722.34,514.85 723.41,515.00 724.47,515.14 725.54,515.29 726.61,515.43 727.68,515.57 728.75,515.70 729.82,515.84 730.89,515.97 731.96,516.11 733.03,516.24 734.09,516.36 735.16,516.49 736.23,516.62 737.30,516.74" fill="none" stroke="#ffff00" stroke-width="4.0" stroke-linejoin="round"/>
<polyline points="96.00,525.35 97.07,525.28 98.14,525.21 99.21,525.14 100.28,525.06 101.34,524.97 102.41,524.86 103.48,524.74 104.55,524.61 105.62,524.45 106.69,524.27 107.76,524.06 108.83,523.82 109.89,523.55 110.96,523.24 112.03,522.89 113.10,522.50 114.17,522.06 115.24,521.57 116.31,521.03 117.38,520.44 118.45,519.79 119.51,519.09 120.58,518.32 121.65,517.50 122.72,516.61 123.79,515.66 124.86,514.66 125.93,513.59 127.00,512.47 128.07,511.29 129.13,510.06 130.20,508.79 131.27,507.46 132.34,506.10 133.41,504.70 134.48,503.26 135.55,501.80 136.62,500.30 137.68,498.78 138.75,497.23 139.82,495.66 140.89,494.06 141.96,492.44 143.03,490.80 144.10,489.13 145.17,487.44 146.24,485.72 147.30,483.97 148.37,482.20 149.44,480.39 150.51,478.56 151.58,476.70 152.65,474.82 153.72,472.91 154.79,470.99 155.85,469.05 156.92,467.11 157.99,465.17 159.06,463.23 160.13,461.31 161.20,459.42 162.27,457.55 163.34,455.73 164.41,453.96 165.47,452.24 166.54,450.58 167.61,448.99 168.68,447.47 169.75,446.02 170.82,444.65 171.89,443.36 172.96,442.16 174.02,441.03 175.09,439.99 176.16,439.03 177.23,438.15 178.30,437.35 179.37,436.63 180.44,435.98 181.51,435.42 182.58,434.93 183.64,434.52 184.71,434.19 185.78,433.93 186.85,433.74 187.92,433.62 188.99,433.58 190.06,433.60 191.13,433.69 192.20,433.84 193.26,434.05 194.33,434.31 195.40,434.62 196.47,434.98 197.54,435.37 198.61,435.79 199.68,436.24 200.75,436.71 201.81,437.20 202.88,437.69 203.95,438.19 205.02,438.68 206.09,439.17 207.16,439.65 208.23,440.12 209.30,440.57 210.37,441.00 211.43,441.41 212.50,441.80 213.57,442.16 214.64,442.49 215.71,442.79 216.78,443.05 217.85,443.28 218.92,443.46 219.98,443.60 221.05,443.68 222.12,443.70 223.19,443.66 224.26,443.54 225.33,443.34 226.40,443.06 227.47,442.68 228.54,442.21 229.60,441.63 230.67,440.94 231.74,440.14 232.81,439.22 233.88,438.20 234.95,437.06 236.02,435.80 237.09,434.44 238.15,432.98 239.22,431.41 240.29,429.76 241.36,428.01 242.43,426.17 243.50,424.25 244.57,422.26 245.64,420.18 246.71,418.01 247.77,415.76 248.84,413.43 249.91,410.99 250.98,408.45 252.05,405.80 253.12,403.02 254.19,400.12 255.26,397.07 256.33,393.86 257.39,390.51 258.46,386.98 259.53,383.30 260.60,379.44 261.67,375.43 262.74,371.25 263.81,366.93 264.88,362.47 265.94,357.88 267.01,353.19 268.08,348.42 269.15,343.57 270.22,338.67 271.29,333.74 272.36,328.79 273.43,323.85 274.50,318.92 275.56,314.03 276.63,309.16 277.70,304.34 278.77,299.57 279.84,294.83 280.91,290.13 281.98,285.46 283.05,280.82 284.11,276.18 285.18,271.54 286.25,266.89 287.32,262.22 288.39,257.52 289.46,252.77 290.53,247.97 291.60,243.12 292.67,238.21 293.73,233.23 294.80,228.21 295.87,223.12 296.94,217.99 298.01,212.82 299.08,207.62 300.15,202.40 301.22,197.17 302.28,191.95 303.35,186.74 304.42,181.57 305.49,176.43 306.56,171.36 307.63,166.34 308.70,161.41 309.77,156.56 310.84,151.81 311.90,147.16 312.97,142.61 314.04,138.18 315.11,133.87 316.18,129.67 317.25,125.60 318.32,121.64 319.39,117.81 320.46,114.11 321.52,110.52 322.59,107.05 323.66,103.70 324.73,100.47 325.80,97.35 326.87,94.35 327.94,91.46 329.01,88.67 330.07,86.00 331.14,83.43 332.21,80.97 333.28,78.61 334.35,76.36 335.42,74.21 336.49,72.16 337.56,70.21 338.63,68.36 339.69,66.61 340.76,64.96 341.83,63.41 342.90,61.96 343.97,60.61 345.04,59.36 346.11,58.20 347.18,57.15 348.24,56.19 349.31,55.33 350.38,54.57 351.45,53.90 352.52,53.33 353.59,52.85 354.66,52.47 355.73,52.18 356.80,51.99 357.86,51.89 358.93,51.88 360.00,51.97 361.07,52.16 362.14,52.45 363.21,52.84 364.28,53.32 365.35,53.90 366.42,54.58 367.48,55.34 368.55,56.20 369.62,57.14 370.69,58.18 371.76,59.30 372.83,60.50 373.90,61.78 374.97,63.15 376.03,64.59 377.10,66.11 378.17,67.70 379.24,69.36 380.31,71.10 381.38,72.90 382.45,74.78 383.52,76.71 384.59,78.71 385.65,80.77 386.72,82.89 387.79,85.07 388.86,87.31 389.93,89.59 391.00,91.93 392.07,94.32 393.14,96.76 394.20,99.25 395.27,101.78 396.34,104.35 397.41,106.96 398.48,109.61 399.55,112.30 400.62,115.03 401.69,117.79 402.76,120.59 403.82,123.41 404.89,126.26 405.96,129.15 407.03,132.05 408.10,134.99 409.17,137.94 410.24,140.92 411.31,143.92 412.37,146.94 413.44,149.97 414.51,153.02 415.58,156.09 416.65,159.17 417.72,162.26 418.79,165.36 419.86,168.47 420.93,171.59 421.99,174.72 423.06,177.86 424.13,180.99 425.20,184.14 426.27,187.28 427.34,190.43 428.41,193.58 429.48,196.73 430.55,199.87 431.61,203.02 432.68,206.16 433.75,209.30 434.82,212.43 435.89,215.55 436.96,218.68 438.03,221.79 439.10,224.89 440.16,227.99 441.23,231.08 442.30,234.16 443.37,237.22 444.44,240.28 445.51,243.32 446.58,246.35 447.65,249.37 448.72,252.37 449.78,255.36 450.85,258.34 451.92,261.30 452.99,264.24 454.06,267.17 455.13,270.08 456.20,272.97 457.27,275.85 458.33,278.71 459.40,281.55 460.47,284.38 461.54,287.18 462.61,289.97 463.68,292.73 464.75,295.48 465.82,298.21 466.89,300.91 467.95,303.60 469.02,306.27 470.09,308.91 471.16,311.54 472.23,314.14 473.30,316.73 474.37,319.29 475.44,321.83 476.50,324.35 477.57,326.85 478.64,329.33 479.71,331.78 480.78,334.22 481.85,336.63 482.92,339.02 483.99,341.39 485.06,343.74 486.12,346.07 487.19,348.37 488.26,350.65 489.33,352.91 490.40,355.15 491.47,357.37 492.54,359.57 493.61,361.74 494.68,363.90 495.74,366.03 496.81,368.14 497.88,370.23 498.95,372.30 500.02,374.35 501.09,376.37 502.16,378.38 503.23,380.36 504.29,382.33 505.36,384.27 506.43,386.20 507.50,388.10 508.57,389.98 509.64,391.85 510.71,393.69 511.78,395.51 512.85,397.32 513.91,399.10 514.98,400.86 516.05,402.61 517.12,404.34 518.19,406.04 519.26,407.73 520.33,409.40 521.40,411.05 522.46,412.68 523.53,414.29 524.60,415.89 525.67,417.47 526.74,419.02 527.81,420.57 528.88,422.09 529.95,423.59 531.02,425.08 532.08,426.55 533.15,428.00 534.22,429.43 535.29,430.85 536.36,432.25 537.43,433.63 538.50,435.00 539.57,436.35 540.63,437.68 541.70,438.99 542.77,440.29 543.84,441.57 544.91,442.84 545.98,444.09 547.05,445.32 548.12,446.54 549.19,447.74 550.25,448.92 551.32,450.09 552.39,451.24 553.46,452.37 554.53,453.49 555.60,454.60 556.67,455.68 557.74,456.76 558.81,457.81 559.87,458.85 560.94,459.88 562.01,460.89 563.08,461.88 564.15,462.86 565.22,463.82 566.29,464.77 567.36,465.70 568.42,466.62 569.49,467.52 570.56,468.41 571.63,469.28 572.70,470.14 573.77,470.98 574.84,471.81 575.91,472.63 576.98,473.43 578.04,474.21 579.11,474.98 580.18,475.74 581.25,476.48 582.32,477.21 583.39,477.92 584.46,478.62 585.53,479.31 586.59,479.99 587.66,480.65 588.73,481.30 589.80,481.93 590.87,482.55 591.94,483.16 593.01,483.76 594.08,484.34 595.15,484.92 596.21,485.48 597.28,486.03 598.35,486.57 599.42,487.09 600.49,487.61 601.56,488.12 602.63,488.61 603.70,489.10 604.76,489.57 605.83,490.04 606.90,490.49 607.97,490.94 609.04,491.38 610.11,491.81 611.18,492.23 612.25,492.64 613.32,493.04 614.38,493.44 615.45,493.83 616.52,494.21 617.59,494.59 618.66,494.96 619.73,495.32 620.80,495.68 621.87,496.03 622.94,496.38 624.00,496.72 625.07,497.05 626.14,497.38 627.21,497.71 628.28,498.03 629.35,498.35 630.42,498.66 631.49,498.97 632.55,499.27 633.62,499.57 634.69,499.87 635.76,500.17 636.83,500.46 637.90,500.75 638.97,501.04 640.04,501.32 641.11,501.60 642.17,501.88 643.24,502.16 644.31,502.43 645.38,502.71 646.45,502.98 647.52,503.25 648.59,503.51 649.66,503.78 650.72,504.04 651.79,504.30 652.86,504.56 653.93,504.82 655.00,505.08 656.07,505.33 657.14,505.59 658.21,505.84 659.28,506.09 660.34,506.34 661.41,506.59 662.48,506.84 663.55,507.08 664.62,507.32 665.69,507.57 666.76,507.81 667.83,508.05 668.90,508.28 669.96,508.52 671.03,508.75 672.10,508.99 673.17,509.22 674.24,509.45 675.31,509.67 676.38,509.90 677.45,510.12 678.51,510.35 679.58,510.57 680.65,510.78 681.72,511.00 682.79,511.22 683.86,511.43 684.93,511.64 686.00,511.85 687.07,512.05 688.13,512.26 689.20,512.46 690.27,512.66 691.34,512.86 692.41,513.06 693.48,513.25 694.55,513.44 695.62,513.63 696.68,513.82 697.75,514.00 698.82,514.19 699.89,514.37 700.96,514.54 702.03,514.72 703.10,514.89 704.17,515.06 705.24,515.23 706.30,515.40 707.37,515.56 708.44,515.73 709.51,515.89 710.58,516.04 711.65,516.20 712.72,516.35 713.79,516.50 714.85,516.65 715.92,516.80 716.99,516.94 718.06,517.09 719.13,517.22 720.20,517.36 721.27,517.50 722.34,517.63 723.41,517.76 724.47,517.89 725.54,518.02 726.61,518.14 727.68,518.27 728.75,518.39 729.82,518.51 730.89,518.63 731.96,518.74 733.03,518.85 734.09,518.97 735.16,519.08 736.23,519.18 737.30,519.29" fill="none" stroke="#808000" stroke-width="4.0" stroke-linejoin="round"/>
</g>
<clipPath id="ccB"><rect x="97" y="600" width="649.45" height="562.60"/></clipPath>
<g clip-path="url(#ccB)">
<polyline points="103.00,1161.90 103.88,1161.81 104.76,1161.71 105.64,1161.61 106.52,1161.50 107.40,1161.40 108.28,1161.29 109.16,1161.18 110.04,1161.07 110.92,1160.95 111.80,1160.82 112.68,1160.68 113.56,1160.52 114.44,1160.34 115.32,1160.12 116.20,1159.87 117.08,1159.56 117.96,1159.19 118.84,1158.74 119.72,1158.22 120.60,1157.60 121.48,1156.88 122.36,1156.05 123.24,1155.10 124.12,1154.03 125.00,1152.83 125.88,1151.51 126.76,1150.06 127.64,1148.49 128.51,1146.81 129.39,1145.03 130.27,1143.15 131.15,1141.20 132.03,1139.19 132.91,1137.14 133.79,1135.07 134.67,1132.99 135.55,1130.92 136.43,1128.89 137.31,1126.90 138.19,1124.98 139.07,1123.13 139.95,1121.37 140.83,1119.69 141.71,1118.10 142.59,1116.61 143.47,1115.20 144.35,1113.88 145.23,1112.62 146.11,1111.43 146.99,1110.28 147.87,1109.16 148.75,1108.06 149.63,1106.97 150.51,1105.87 151.39,1104.75 152.27,1103.60 153.15,1102.42 154.03,1101.20 154.91,1099.95 155.79,1098.65 156.67,1097.33 157.55,1095.98 158.43,1094.61 159.31,1093.24 160.19,1091.88 161.07,1090.54 161.95,1089.22 162.83,1087.96 163.71,1086.74 164.59,1085.59 165.47,1084.51 166.35,1083.50 167.23,1082.57 168.11,1081.71 168.99,1080.93 169.87,1080.21 170.75,1079.57 171.63,1078.97 172.51,1078.43 173.39,1077.92 174.27,1077.44 175.15,1076.98 176.03,1076.52 176.91,1076.07 177.79,1075.62 178.66,1075.15 179.54,1074.66 180.42,1074.16 181.30,1073.64 182.18,1073.10 183.06,1072.54 183.94,1071.97 184.82,1071.39 185.70,1070.81 186.58,1070.22 187.46,1069.65 188.34,1069.09 189.22,1068.55 190.10,1068.04 190.98,1067.55 191.86,1067.10 192.74,1066.68 193.62,1066.30 194.50,1065.96 195.38,1065.66 196.26,1065.40 197.14,1065.16 198.02,1064.96 198.90,1064.79 199.78,1064.64 200.66,1064.51 201.54,1064.38 202.42,1064.27 203.30,1064.15 204.18,1064.02 205.06,1063.88 205.94,1063.72 206.82,1063.54 207.70,1063.33 208.58,1063.09 209.46,1062.82 210.34,1062.50 211.22,1062.15 212.10,1061.76 212.98,1061.33 213.86,1060.86 214.74,1060.35 215.62,1059.81 216.50,1059.24 217.38,1058.64 218.26,1058.02 219.14,1057.37 220.02,1056.70 220.90,1056.02 221.78,1055.32 222.66,1054.61 223.54,1053.88 224.42,1053.15 225.30,1052.40 226.18,1051.65 227.06,1050.88 227.94,1050.09 228.81,1049.28 229.69,1048.44 230.57,1047.57 231.45,1046.66 232.33,1045.70 233.21,1044.69 234.09,1043.61 234.97,1042.46 235.85,1041.24 236.73,1039.92 237.61,1038.51 238.49,1037.00 239.37,1035.37 240.25,1033.63 241.13,1031.77 242.01,1029.79 242.89,1027.67 243.77,1025.43 244.65,1023.06 245.53,1020.56 246.41,1017.93 247.29,1015.19 248.17,1012.32 249.05,1009.35 249.93,1006.27 250.81,1003.10 251.69,999.84 252.57,996.50 253.45,993.09 254.33,989.62 255.21,986.10 256.09,982.53 256.97,978.92 257.85,975.28 258.73,971.62 259.61,967.93 260.49,964.23 261.37,960.51 262.25,956.77 263.13,953.02 264.01,949.26 264.89,945.47 265.77,941.66 266.65,937.83 267.53,933.97 268.41,930.08 269.29,926.16 270.17,922.19 271.05,918.18 271.93,914.12 272.81,910.01 273.69,905.85 274.57,901.64 275.45,897.38 276.33,893.07 277.21,888.71 278.09,884.30 278.97,879.85 279.84,875.36 280.72,870.84 281.60,866.29 282.48,861.72 283.36,857.14 284.24,852.54 285.12,847.94 286.00,843.35 286.88,838.77 287.76,834.21 288.64,829.67 289.52,825.16 290.40,820.69 291.28,816.25 292.16,811.87 293.04,807.53 293.92,803.24 294.80,799.02 295.68,794.85 296.56,790.74 297.44,786.70 298.32,782.73 299.20,778.83 300.08,774.99 300.96,771.23 301.84,767.54 302.72,763.92 303.60,760.38 304.48,756.91 305.36,753.52 306.24,750.21 307.12,746.97 308.00,743.80 308.88,740.72 309.76,737.71 310.64,734.78 311.52,731.93 312.40,729.15 313.28,726.46 314.16,723.85 315.04,721.31 315.92,718.86 316.80,716.49 317.68,714.20 318.56,711.99 319.44,709.87 320.32,707.83 321.20,705.87 322.08,703.99 322.96,702.20 323.84,700.49 324.72,698.87 325.60,697.33 326.48,695.87 327.36,694.50 328.24,693.21 329.12,692.00 329.99,690.87 330.87,689.83 331.75,688.87 332.63,687.99 333.51,687.19 334.39,686.48 335.27,685.84 336.15,685.28 337.03,684.80 337.91,684.40 338.79,684.08 339.67,683.83 340.55,683.66 341.43,683.56 342.31,683.53 343.19,683.58 344.07,683.71 344.95,683.92 345.83,684.20 346.71,684.55 347.59,684.98 348.47,685.48 349.35,686.05 350.23,686.69 351.11,687.39 351.99,688.17 352.87,689.01 353.75,689.92 354.63,690.89 355.51,691.92 356.39,693.02 357.27,694.17 358.15,695.39 359.03,696.66 359.91,697.99 360.79,699.37 361.67,700.81 362.55,702.30 363.43,703.84 364.31,705.43 365.19,707.07 366.07,708.76 366.95,710.50 367.83,712.28 368.71,714.10 369.59,715.97 370.47,717.88 371.35,719.83 372.23,721.82 373.11,723.84 373.99,725.91 374.87,728.01 375.75,730.14 376.63,732.31 377.51,734.50 378.39,736.73 379.27,738.99 380.14,741.28 381.02,743.60 381.90,745.94 382.78,748.31 383.66,750.70 384.54,753.11 385.42,755.55 386.30,758.01 387.18,760.49 388.06,762.98 388.94,765.50 389.82,768.03 390.70,770.58 391.58,773.14 392.46,775.72 393.34,778.31 394.22,780.92 395.10,783.54 395.98,786.16 396.86,788.80 397.74,791.45 398.62,794.10 399.50,796.76 400.38,799.43 401.26,802.11 402.14,804.79 403.02,807.47 403.90,810.16 404.78,812.85 405.66,815.54 406.54,818.24 407.42,820.93 408.30,823.63 409.18,826.33 410.06,829.02 410.94,831.72 411.82,834.41 412.70,837.10 413.58,839.79 414.46,842.47 415.34,845.15 416.22,847.82 417.10,850.49 417.98,853.15 418.86,855.81 419.74,858.46 420.62,861.10 421.50,863.74 422.38,866.36 423.26,868.98 424.14,871.59 425.02,874.20 425.90,876.79 426.78,879.37 427.66,881.94 428.54,884.51 429.42,887.06 430.29,889.60 431.17,892.13 432.05,894.65 432.93,897.15 433.81,899.65 434.69,902.13 435.57,904.60 436.45,907.05 437.33,909.50 438.21,911.93 439.09,914.34 439.97,916.75 440.85,919.14 441.73,921.51 442.61,923.87 443.49,926.22 444.37,928.56 445.25,930.88 446.13,933.18 447.01,935.47 447.89,937.75 448.77,940.01 449.65,942.26 450.53,944.49 451.41,946.70 452.29,948.91 453.17,951.09 454.05,953.27 454.93,955.42 455.81,957.56 456.69,959.69 457.57,961.80 458.45,963.90 459.33,965.98 460.21,968.05 461.09,970.10 461.97,972.14 462.85,974.16 463.73,976.16 464.61,978.16 465.49,980.13 466.37,982.10 467.25,984.04 468.13,985.97 469.01,987.89 469.89,989.80 470.77,991.68 471.65,993.56 472.53,995.42 473.41,997.26 474.29,999.09 475.17,1000.91 476.05,1002.71 476.93,1004.50 477.81,1006.27 478.69,1008.03 479.57,1009.78 480.44,1011.51 481.32,1013.23 482.20,1014.93 483.08,1016.62 483.96,1018.29 484.84,1019.95 485.72,1021.60 486.60,1023.24 487.48,1024.86 488.36,1026.46 489.24,1028.05 490.12,1029.63 491.00,1031.20 491.88,1032.75 492.76,1034.28 493.64,1035.81 494.52,1037.32 495.40,1038.81 496.28,1040.29 497.16,1041.76 498.04,1043.21 498.92,1044.65 499.80,1046.07 500.68,1047.48 501.56,1048.88 502.44,1050.26 503.32,1051.62 504.20,1052.97 505.08,1054.31 505.96,1055.63 506.84,1056.94 507.72,1058.23 508.60,1059.51 509.48,1060.77 510.36,1062.01 511.24,1063.24 512.12,1064.46 513.00,1065.66 513.88,1066.84 514.76,1068.01 515.64,1069.17 516.52,1070.30 517.40,1071.42 518.28,1072.53 519.16,1073.62 520.04,1074.70 520.92,1075.76 521.80,1076.80 522.68,1077.83 523.56,1078.84 524.44,1079.84 525.32,1080.82 526.20,1081.78 527.08,1082.73 527.96,1083.67 528.84,1084.59 529.72,1085.49 530.59,1086.39 531.47,1087.26 532.35,1088.12 533.23,1088.97 534.11,1089.80 534.99,1090.62 535.87,1091.43 536.75,1092.22 537.63,1093.00 538.51,1093.77 539.39,1094.52 540.27,1095.26 541.15,1095.99 542.03,1096.71 542.91,1097.41 543.79,1098.11 544.67,1098.79 545.55,1099.46 546.43,1100.13 547.31,1100.78 548.19,1101.42 549.07,1102.05 549.95,1102.67 550.83,1103.29 551.71,1103.89 552.59,1104.49 553.47,1105.07 554.35,1105.65 555.23,1106.23 556.11,1106.79 556.99,1107.35 557.87,1107.90 558.75,1108.45 559.63,1108.99 560.51,1109.52 561.39,1110.04 562.27,1110.57 563.15,1111.08 564.03,1111.59 564.91,1112.10 565.79,1112.60 566.67,1113.10 567.55,1113.59 568.43,1114.08 569.31,1114.56 570.19,1115.04 571.07,1115.52 571.95,1115.99 572.83,1116.46 573.71,1116.93 574.59,1117.40 575.47,1117.86 576.35,1118.32 577.23,1118.77 578.11,1119.22 578.99,1119.68 579.87,1120.12 580.74,1120.57 581.62,1121.01 582.50,1121.45 583.38,1121.89 584.26,1122.33 585.14,1122.76 586.02,1123.20 586.90,1123.63 587.78,1124.05 588.66,1124.48 589.54,1124.90 590.42,1125.33 591.30,1125.74 592.18,1126.16 593.06,1126.58 593.94,1126.99 594.82,1127.40 595.70,1127.81 596.58,1128.21 597.46,1128.61 598.34,1129.01 599.22,1129.41 600.10,1129.81 600.98,1130.20 601.86,1130.59 602.74,1130.98 603.62,1131.36 604.50,1131.74 605.38,1132.12 606.26,1132.49 607.14,1132.87 608.02,1133.23 608.90,1133.60 609.78,1133.96 610.66,1134.32 611.54,1134.67 612.42,1135.03 613.30,1135.37 614.18,1135.72 615.06,1136.06 615.94,1136.40 616.82,1136.73 617.70,1137.06 618.58,1137.38 619.46,1137.71 620.34,1138.02 621.22,1138.34 622.10,1138.65 622.98,1138.95 623.86,1139.25 624.74,1139.55 625.62,1139.84 626.50,1140.13 627.38,1140.42 628.26,1140.70 629.14,1140.98 630.02,1141.25 630.89,1141.52" fill="none" stroke="#000000" stroke-width="4.0" stroke-linejoin="round"/>
<polyline points="103.00,1162.06 103.88,1162.07 104.76,1162.09 105.64,1162.09 106.52,1162.07 107.40,1162.04 108.28,1161.97 109.16,1161.88 110.04,1161.75 110.92,1161.57 111.80,1161.35 112.68,1161.07 113.56,1160.73 114.44,1160.33 115.32,1159.87 116.20,1159.34 117.08,1158.75 117.96,1158.10 118.84,1157.38 119.72,1156.60 120.60,1155.77 121.48,1154.88 122.36,1153.95 123.25,1152.97 124.13,1151.96 125.01,1150.92 125.89,1149.85 126.77,1148.75 127.65,1147.63 128.53,1146.49 129.41,1145.33 130.29,1144.14 131.17,1142.94 132.05,1141.70 132.93,1140.44 133.81,1139.15 134.69,1137.82 135.57,1136.45 136.45,1135.05 137.33,1133.60 138.21,1132.12 139.09,1130.59 139.97,1129.02 140.85,1127.42 141.73,1125.79 142.61,1124.14 143.49,1122.47 144.37,1120.79 145.25,1119.11 146.13,1117.44 147.01,1115.80 147.89,1114.18 148.77,1112.59 149.65,1111.05 150.53,1109.56 151.41,1108.11 152.29,1106.73 153.17,1105.40 154.05,1104.12 154.93,1102.89 155.81,1101.71 156.69,1100.58 157.57,1099.48 158.45,1098.41 159.33,1097.36 160.21,1096.33 161.09,1095.32 161.98,1094.32 162.86,1093.32 163.74,1092.32 164.62,1091.33 165.50,1090.34 166.38,1089.35 167.26,1088.37 168.14,1087.39 169.02,1086.44 169.90,1085.49 170.78,1084.57 171.66,1083.68 172.54,1082.81 173.42,1081.98 174.30,1081.18 175.18,1080.41 176.06,1079.69 176.94,1078.99 177.82,1078.33 178.70,1077.71 179.58,1077.11 180.46,1076.54 181.34,1075.98 182.22,1075.45 183.10,1074.93 183.98,1074.42 184.86,1073.91 185.74,1073.40 186.62,1072.89 187.50,1072.37 188.38,1071.85 189.26,1071.31 190.14,1070.77 191.02,1070.21 191.90,1069.65 192.78,1069.08 193.66,1068.50 194.54,1067.91 195.42,1067.32 196.30,1066.74 197.18,1066.15 198.06,1065.57 198.94,1065.00 199.82,1064.44 200.70,1063.90 201.59,1063.37 202.47,1062.86 203.35,1062.36 204.23,1061.89 205.11,1061.44 205.99,1061.00 206.87,1060.59 207.75,1060.19 208.63,1059.81 209.51,1059.44 210.39,1059.08 211.27,1058.73 212.15,1058.38 213.03,1058.03 213.91,1057.67 214.79,1057.29 215.67,1056.90 216.55,1056.49 217.43,1056.05 218.31,1055.59 219.19,1055.08 220.07,1054.54 220.95,1053.96 221.83,1053.34 222.71,1052.67 223.59,1051.96 224.47,1051.20 225.35,1050.40 226.23,1049.56 227.11,1048.68 227.99,1047.77 228.87,1046.82 229.75,1045.83 230.63,1044.82 231.51,1043.78 232.39,1042.70 233.27,1041.60 234.15,1040.47 235.03,1039.31 235.91,1038.12 236.79,1036.88 237.67,1035.61 238.55,1034.29 239.43,1032.91 240.32,1031.48 241.20,1029.97 242.08,1028.39 242.96,1026.73 243.84,1024.98 244.72,1023.13 245.60,1021.18 246.48,1019.13 247.36,1016.97 248.24,1014.69 249.12,1012.29 250.00,1009.79 250.88,1007.16 251.76,1004.43 252.64,1001.59 253.52,998.64 254.40,995.58 255.28,992.44 256.16,989.20 257.04,985.88 257.92,982.49 258.80,979.02 259.68,975.49 260.56,971.90 261.44,968.26 262.32,964.57 263.20,960.83 264.08,957.06 264.96,953.25 265.84,949.40 266.72,945.53 267.60,941.62 268.48,937.69 269.36,933.73 270.24,929.74 271.12,925.73 272.00,921.70 272.88,917.64 273.76,913.56 274.64,909.46 275.52,905.34 276.40,901.20 277.28,897.05 278.16,892.87 279.05,888.69 279.93,884.49 280.81,880.28 281.69,876.07 282.57,871.85 283.45,867.63 284.33,863.41 285.21,859.19 286.09,854.98 286.97,850.77 287.85,846.58 288.73,842.41 289.61,838.25 290.49,834.11 291.37,829.99 292.25,825.90 293.13,821.84 294.01,817.81 294.89,813.81 295.77,809.84 296.65,805.92 297.53,802.03 298.41,798.19 299.29,794.38 300.17,790.63 301.05,786.92 301.93,783.26 302.81,779.65 303.69,776.10 304.57,772.60 305.45,769.15 306.33,765.77 307.21,762.44 308.09,759.17 308.97,755.96 309.85,752.81 310.73,749.73 311.61,746.71 312.49,743.76 313.37,740.87 314.25,738.05 315.13,735.30 316.01,732.61 316.89,730.00 317.77,727.45 318.66,724.98 319.54,722.58 320.42,720.25 321.30,717.99 322.18,715.80 323.06,713.68 323.94,711.64 324.82,709.67 325.70,707.78 326.58,705.95 327.46,704.21 328.34,702.53 329.22,700.93 330.10,699.40 330.98,697.94 331.86,696.56 332.74,695.25 333.62,694.01 334.50,692.84 335.38,691.75 336.26,690.73 337.14,689.78 338.02,688.90 338.90,688.09 339.78,687.35 340.66,686.68 341.54,686.07 342.42,685.54 343.30,685.08 344.18,684.68 345.06,684.35 345.94,684.08 346.82,683.88 347.70,683.74 348.58,683.67 349.46,683.66 350.34,683.72 351.22,683.85 352.10,684.05 352.98,684.33 353.86,684.67 354.74,685.08 355.62,685.56 356.50,686.10 357.39,686.71 358.27,687.39 359.15,688.12 360.03,688.92 360.91,689.78 361.79,690.70 362.67,691.67 363.55,692.71 364.43,693.80 365.31,694.95 366.19,696.15 367.07,697.40 367.95,698.70 368.83,700.06 369.71,701.46 370.59,702.91 371.47,704.41 372.35,705.96 373.23,707.54 374.11,709.18 374.99,710.85 375.87,712.57 376.75,714.32 377.63,716.12 378.51,717.95 379.39,719.82 380.27,721.72 381.15,723.66 382.03,725.63 382.91,727.64 383.79,729.67 384.67,731.74 385.55,733.83 386.43,735.95 387.31,738.10 388.19,740.28 389.07,742.48 389.95,744.70 390.83,746.95 391.71,749.21 392.59,751.50 393.47,753.81 394.35,756.14 395.23,758.49 396.11,760.85 397.00,763.23 397.88,765.63 398.76,768.04 399.64,770.46 400.52,772.90 401.40,775.34 402.28,777.80 403.16,780.27 404.04,782.76 404.92,785.24 405.80,787.74 406.68,790.25 407.56,792.76 408.44,795.28 409.32,797.80 410.20,800.33 411.08,802.86 411.96,805.39 412.84,807.93 413.72,810.47 414.60,813.01 415.48,815.55 416.36,818.09 417.24,820.64 418.12,823.18 419.00,825.71 419.88,828.25 420.76,830.79 421.64,833.32 422.52,835.84 423.40,838.37 424.28,840.88 425.16,843.40 426.04,845.90 426.92,848.40 427.80,850.90 428.68,853.38 429.56,855.86 430.44,858.33 431.32,860.80 432.20,863.25 433.08,865.69 433.96,868.13 434.84,870.55 435.73,872.97 436.61,875.37 437.49,877.77 438.37,880.15 439.25,882.52 440.13,884.87 441.01,887.22 441.89,889.55 442.77,891.87 443.65,894.18 444.53,896.47 445.41,898.75 446.29,901.02 447.17,903.27 448.05,905.51 448.93,907.73 449.81,909.94 450.69,912.14 451.57,914.32 452.45,916.48 453.33,918.63 454.21,920.77 455.09,922.89 455.97,925.00 456.85,927.09 457.73,929.17 458.61,931.23 459.49,933.28 460.37,935.31 461.25,937.33 462.13,939.34 463.01,941.33 463.89,943.31 464.77,945.27 465.65,947.22 466.53,949.16 467.41,951.08 468.29,953.00 469.17,954.90 470.05,956.78 470.93,958.66 471.81,960.52 472.69,962.38 473.57,964.22 474.45,966.05 475.34,967.87 476.22,969.68 477.10,971.49 477.98,973.28 478.86,975.06 479.74,976.84 480.62,978.60 481.50,980.36 482.38,982.11 483.26,983.85 484.14,985.59 485.02,987.31 485.90,989.03 486.78,990.75 487.66,992.45 488.54,994.15 489.42,995.85 490.30,997.53 491.18,999.21 492.06,1000.88 492.94,1002.55 493.82,1004.21 494.70,1005.86 495.58,1007.50 496.46,1009.14 497.34,1010.77 498.22,1012.39 499.10,1014.01 499.98,1015.61 500.86,1017.21 501.74,1018.80 502.62,1020.37 503.50,1021.94 504.38,1023.50 505.26,1025.05 506.14,1026.58 507.02,1028.11 507.90,1029.62 508.78,1031.12 509.66,1032.61 510.54,1034.08 511.42,1035.54 512.30,1036.98 513.18,1038.41 514.07,1039.83 514.95,1041.23 515.83,1042.61 516.71,1043.97 517.59,1045.32 518.47,1046.65 519.35,1047.97 520.23,1049.26 521.11,1050.54 521.99,1051.80 522.87,1053.04 523.75,1054.26 524.63,1055.46 525.51,1056.65 526.39,1057.81 527.27,1058.96 528.15,1060.08 529.03,1061.19 529.91,1062.28 530.79,1063.35 531.67,1064.40 532.55,1065.43 533.43,1066.44 534.31,1067.44 535.19,1068.41 536.07,1069.37 536.95,1070.32 537.83,1071.24 538.71,1072.15 539.59,1073.05 540.47,1073.92 541.35,1074.79 542.23,1075.64 543.11,1076.47 543.99,1077.29 544.87,1078.10 545.75,1078.90 546.63,1079.68 547.51,1080.45 548.39,1081.21 549.27,1081.96 550.15,1082.70 551.03,1083.43 551.91,1084.15 552.80,1084.86 553.68,1085.56 554.56,1086.25 555.44,1086.94 556.32,1087.62 557.20,1088.29 558.08,1088.95 558.96,1089.61 559.84,1090.26 560.72,1090.90 561.60,1091.54 562.48,1092.17 563.36,1092.80 564.24,1093.42 565.12,1094.03 566.00,1094.64 566.88,1095.25 567.76,1095.84 568.64,1096.44 569.52,1097.03 570.40,1097.61 571.28,1098.19 572.16,1098.76 573.04,1099.33 573.92,1099.89 574.80,1100.45 575.68,1101.00 576.56,1101.55 577.44,1102.09 578.32,1102.63 579.20,1103.16 580.08,1103.69 580.96,1104.21 581.84,1104.72 582.72,1105.23 583.60,1105.74 584.48,1106.23 585.36,1106.73 586.24,1107.21 587.12,1107.70 588.00,1108.17 588.88,1108.64 589.76,1109.11 590.64,1109.57 591.52,1110.02 592.41,1110.47 593.29,1110.91 594.17,1111.35 595.05,1111.79 595.93,1112.22 596.81,1112.64 597.69,1113.06 598.57,1113.47 599.45,1113.88 600.33,1114.29 601.21,1114.69 602.09,1115.09 602.97,1115.48 603.85,1115.87 604.73,1116.26 605.61,1116.64 606.49,1117.03 607.37,1117.40 608.25,1117.78 609.13,1118.15 610.01,1118.52 610.89,1118.89 611.77,1119.25 612.65,1119.61 613.53,1119.98 614.41,1120.33 615.29,1120.69 616.17,1121.05 617.05,1121.40 617.93,1121.76 618.81,1122.11 619.69,1122.46 620.57,1122.81 621.45,1123.16 622.33,1123.51 623.21,1123.86 624.09,1124.21 624.97,1124.56 625.85,1124.90 626.73,1125.25 627.61,1125.60 628.49,1125.94 629.37,1126.29 630.25,1126.63 631.14,1126.98 632.02,1127.32 632.90,1127.67 633.78,1128.01 634.66,1128.36 635.54,1128.70 636.42,1129.04 637.30,1129.38 638.18,1129.73 639.06,1130.07 639.94,1130.41 640.82,1130.75 641.70,1131.08 642.58,1131.42 643.46,1131.76 644.34,1132.10 645.22,1132.43 646.10,1132.76 646.98,1133.10 647.86,1133.43 648.74,1133.76 649.62,1134.09 650.50,1134.41 651.38,1134.74 652.26,1135.06 653.14,1135.38 654.02,1135.70 654.90,1136.02 655.78,1136.34 656.66,1136.65 657.54,1136.96 658.42,1137.27 659.30,1137.57 660.18,1137.88 661.06,1138.18 661.94,1138.48 662.82,1138.77 663.70,1139.07 664.58,1139.36 665.46,1139.65 666.34,1139.93 667.22,1140.21 668.10,1140.49 668.98,1140.77 669.86,1141.04 670.75,1141.31 671.63,1141.57 672.51,1141.84 673.39,1142.10 674.27,1142.35 675.15,1142.61 676.03,1142.86 676.91,1143.10 677.79,1143.35 678.67,1143.59 679.55,1143.82 680.43,1144.06 681.31,1144.29 682.19,1144.52 683.07,1144.74 683.95,1144.96 684.83,1145.18 685.71,1145.40 686.59,1145.61 687.47,1145.82 688.35,1146.02 689.23,1146.23 690.11,1146.43 690.99,1146.62 691.87,1146.82 692.75,1147.01 693.63,1147.20 694.51,1147.38 695.39,1147.57 696.27,1147.75 697.15,1147.92 698.03,1148.10 698.91,1148.27 699.79,1148.44 700.67,1148.61 701.55,1148.77 702.43,1148.94 703.31,1149.10 704.19,1149.25 705.07,1149.41 705.95,1149.56 706.83,1149.71 707.71,1149.86 708.59,1150.01 709.48,1150.15 710.36,1150.30 711.24,1150.44 712.12,1150.57 713.00,1150.71 713.88,1150.84 714.76,1150.98 715.64,1151.11 716.52,1151.23 717.40,1151.36 718.28,1151.48 719.16,1151.60 720.04,1151.72 720.92,1151.84 721.80,1151.96 722.68,1152.07 723.56,1152.18 724.44,1152.29 725.32,1152.40 726.20,1152.50 727.08,1152.60 727.96,1152.71 728.84,1152.80 729.72,1152.90 730.60,1153.00 731.48,1153.09 732.36,1153.18 733.24,1153.27 734.12,1153.35 735.00,1153.44 735.88,1153.52 736.76,1153.60 737.64,1153.68 738.52,1153.76 739.40,1153.83 740.28,1153.90 741.16,1153.97 742.04,1154.04 742.92,1154.10 743.80,1154.17 744.68,1154.23 745.56,1154.29 746.44,1154.35 747.32,1154.40 748.21,1154.45" fill="none" stroke="#ff0000" stroke-width="4.0" stroke-linejoin="round"/>
<polyline points="103.00,1162.17 103.88,1162.10 104.76,1162.03 105.64,1161.94 106.52,1161.85 107.40,1161.76 108.28,1161.66 109.16,1161.56 110.04,1161.47 110.92,1161.37 111.80,1161.28 112.68,1161.19 113.56,1161.10 114.44,1161.02 115.32,1160.93 116.20,1160.85 117.08,1160.77 117.96,1160.68 118.84,1160.58 119.72,1160.47 120.60,1160.34 121.48,1160.17 122.36,1159.97 123.25,1159.73 124.13,1159.43 125.01,1159.08 125.89,1158.65 126.77,1158.14 127.65,1157.55 128.53,1156.87 129.41,1156.09 130.29,1155.22 131.17,1154.24 132.05,1153.15 132.93,1151.97 133.81,1150.69 134.69,1149.32 135.57,1147.86 136.45,1146.33 137.33,1144.74 138.21,1143.10 139.09,1141.41 139.97,1139.70 140.85,1137.98 141.73,1136.26 142.61,1134.55 143.49,1132.87 144.37,1131.23 145.25,1129.63 146.13,1128.08 147.01,1126.58 147.89,1125.15 148.77,1123.77 149.65,1122.46 150.53,1121.19 151.41,1119.98 152.29,1118.81 153.17,1117.67 154.05,1116.56 154.93,1115.48 155.81,1114.40 156.69,1113.32 157.57,1112.25 158.45,1111.16 159.33,1110.06 160.21,1108.94 161.09,1107.80 161.98,1106.65 162.86,1105.47 163.74,1104.28 164.62,1103.08 165.50,1101.86 166.38,1100.65 167.26,1099.44 168.14,1098.24 169.02,1097.05 169.90,1095.89 170.78,1094.75 171.66,1093.64 172.54,1092.56 173.42,1091.52 174.30,1090.52 175.18,1089.55 176.06,1088.63 176.94,1087.74 177.82,1086.88 178.70,1086.06 179.58,1085.28 180.46,1084.52 181.34,1083.79 182.22,1083.08 183.10,1082.40 183.98,1081.73 184.86,1081.09 185.74,1080.46 186.62,1079.85 187.50,1079.26 188.38,1078.68 189.26,1078.11 190.14,1077.56 191.02,1077.02 191.90,1076.49 192.78,1075.97 193.66,1075.46 194.54,1074.96 195.42,1074.47 196.30,1073.99 197.18,1073.51 198.06,1073.04 198.94,1072.57 199.82,1072.11 200.70,1071.65 201.59,1071.19 202.47,1070.72 203.35,1070.26 204.23,1069.79 205.11,1069.33 205.99,1068.86 206.87,1068.39 207.75,1067.92 208.63,1067.44 209.51,1066.96 210.39,1066.48 211.27,1066.00 212.15,1065.51 213.03,1065.01 213.91,1064.51 214.79,1063.99 215.67,1063.46 216.55,1062.91 217.43,1062.34 218.31,1061.75 219.19,1061.13 220.07,1060.47 220.95,1059.78 221.83,1059.06 222.71,1058.29 223.59,1057.48 224.47,1056.63 225.35,1055.73 226.23,1054.78 227.11,1053.79 227.99,1052.75 228.87,1051.68 229.75,1050.56 230.63,1049.41 231.51,1048.23 232.39,1047.01 233.27,1045.77 234.15,1044.51 235.03,1043.23 235.91,1041.93 236.79,1040.61 237.67,1039.27 238.55,1037.92 239.43,1036.55 240.32,1035.17 241.20,1033.77 242.08,1032.34 242.96,1030.89 243.84,1029.42 244.72,1027.91 245.60,1026.37 246.48,1024.80 247.36,1023.18 248.24,1021.52 249.12,1019.81 250.00,1018.05 250.88,1016.24 251.76,1014.37 252.64,1012.45 253.52,1010.46 254.40,1008.42 255.28,1006.32 256.16,1004.15 257.04,1001.92 257.92,999.63 258.80,997.27 259.68,994.85 260.56,992.37 261.44,989.82 262.32,987.21 263.20,984.54 264.08,981.81 264.96,979.01 265.84,976.15 266.72,973.23 267.60,970.25 268.48,967.21 269.36,964.12 270.24,960.96 271.12,957.75 272.00,954.49 272.88,951.18 273.76,947.81 274.64,944.40 275.52,940.93 276.40,937.43 277.28,933.88 278.16,930.28 279.05,926.65 279.93,922.98 280.81,919.28 281.69,915.55 282.57,911.79 283.45,907.99 284.33,904.18 285.21,900.34 286.09,896.48 286.97,892.61 287.85,888.72 288.73,884.82 289.61,880.90 290.49,876.98 291.37,873.06 292.25,869.13 293.13,865.20 294.01,861.27 294.89,857.35 295.77,853.43 296.65,849.52 297.53,845.62 298.41,841.73 299.29,837.86 300.17,834.01 301.05,830.17 301.93,826.36 302.81,822.57 303.69,818.80 304.57,815.06 305.45,811.35 306.33,807.67 307.21,804.02 308.09,800.41 308.97,796.83 309.85,793.30 310.73,789.79 311.61,786.33 312.49,782.92 313.37,779.54 314.25,776.21 315.13,772.93 316.01,769.70 316.89,766.51 317.77,763.37 318.66,760.29 319.54,757.26 320.42,754.28 321.30,751.35 322.18,748.49 323.06,745.67 323.94,742.92 324.82,740.22 325.70,737.58 326.58,735.00 327.46,732.48 328.34,730.02 329.22,727.63 330.10,725.29 330.98,723.02 331.86,720.81 332.74,718.66 333.62,716.58 334.50,714.56 335.38,712.60 336.26,710.71 337.14,708.88 338.02,707.12 338.90,705.42 339.78,703.79 340.66,702.22 341.54,700.71 342.42,699.27 343.30,697.90 344.18,696.59 345.06,695.34 345.94,694.16 346.82,693.04 347.70,691.99 348.58,691.00 349.46,690.07 350.34,689.21 351.22,688.41 352.10,687.67 352.98,686.99 353.86,686.37 354.74,685.82 355.62,685.32 356.50,684.89 357.39,684.51 358.27,684.19 359.15,683.93 360.03,683.73 360.91,683.59 361.79,683.50 362.67,683.47 363.55,683.50 364.43,683.58 365.31,683.73 366.19,683.94 367.07,684.21 367.95,684.54 368.83,684.92 369.71,685.36 370.59,685.86 371.47,686.42 372.35,687.03 373.23,687.69 374.11,688.41 374.99,689.18 375.87,690.00 376.75,690.87 377.63,691.79 378.51,692.76 379.39,693.78 380.27,694.85 381.15,695.96 382.03,697.11 382.91,698.31 383.79,699.55 384.67,700.84 385.55,702.16 386.43,703.53 387.31,704.94 388.19,706.38 389.07,707.86 389.95,709.38 390.83,710.94 391.71,712.53 392.59,714.15 393.47,715.81 394.35,717.50 395.23,719.22 396.11,720.97 397.00,722.75 397.88,724.56 398.76,726.40 399.64,728.26 400.52,730.15 401.40,732.07 402.28,734.01 403.16,735.97 404.04,737.96 404.92,739.96 405.80,741.99 406.68,744.04 407.56,746.12 408.44,748.20 409.32,750.31 410.20,752.44 411.08,754.58 411.96,756.73 412.84,758.91 413.72,761.09 414.60,763.30 415.48,765.51 416.36,767.74 417.24,769.97 418.12,772.22 419.00,774.48 419.88,776.75 420.76,779.03 421.64,781.32 422.52,783.61 423.40,785.92 424.28,788.23 425.16,790.54 426.04,792.86 426.92,795.19 427.80,797.52 428.68,799.85 429.56,802.19 430.44,804.53 431.32,806.88 432.20,809.22 433.08,811.57 433.96,813.91 434.84,816.26 435.73,818.61 436.61,820.96 437.49,823.30 438.37,825.65 439.25,827.99 440.13,830.33 441.01,832.67 441.89,835.01 442.77,837.34 443.65,839.67 444.53,842.00 445.41,844.32 446.29,846.63 447.17,848.94 448.05,851.25 448.93,853.55 449.81,855.85 450.69,858.13 451.57,860.42 452.45,862.69 453.33,864.96 454.21,867.22 455.09,869.48 455.97,871.73 456.85,873.97 457.73,876.20 458.61,878.42 459.49,880.64 460.37,882.85 461.25,885.05 462.13,887.24 463.01,889.42 463.89,891.60 464.77,893.76 465.65,895.92 466.53,898.07 467.41,900.21 468.29,902.34 469.17,904.46 470.05,906.58 470.93,908.68 471.81,910.78 472.69,912.86 473.57,914.94 474.45,917.01 475.34,919.07 476.22,921.12 477.10,923.16 477.98,925.19 478.86,927.22 479.74,929.23 480.62,931.24 481.50,933.24 482.38,935.22 483.26,937.20 484.14,939.17 485.02,941.13 485.90,943.08 486.78,945.03 487.66,946.96 488.54,948.88 489.42,950.80 490.30,952.70 491.18,954.60 492.06,956.48 492.94,958.36 493.82,960.23 494.70,962.09 495.58,963.93 496.46,965.77 497.34,967.59 498.22,969.41 499.10,971.21 499.98,973.01 500.86,974.79 501.74,976.56 502.62,978.32 503.50,980.07 504.38,981.81 505.26,983.53 506.14,985.24 507.02,986.94 507.90,988.63 508.78,990.30 509.66,991.96 510.54,993.61 511.42,995.24 512.30,996.86 513.18,998.46 514.07,1000.05 514.95,1001.63 515.83,1003.19 516.71,1004.74 517.59,1006.27 518.47,1007.78 519.35,1009.28 520.23,1010.76 521.11,1012.23 521.99,1013.69 522.87,1015.12 523.75,1016.54 524.63,1017.95 525.51,1019.34 526.39,1020.71 527.27,1022.07 528.15,1023.41 529.03,1024.73 529.91,1026.04 530.79,1027.33 531.67,1028.61 532.55,1029.87 533.43,1031.12 534.31,1032.35 535.19,1033.56 536.07,1034.76 536.95,1035.95 537.83,1037.12 538.71,1038.28 539.59,1039.42 540.47,1040.55 541.35,1041.66 542.23,1042.76 543.11,1043.85 543.99,1044.92 544.87,1045.99 545.75,1047.04 546.63,1048.07 547.51,1049.10 548.39,1050.11 549.27,1051.11 550.15,1052.10 551.03,1053.08 551.91,1054.05 552.80,1055.00 553.68,1055.95 554.56,1056.89 555.44,1057.82 556.32,1058.73 557.20,1059.64 558.08,1060.54 558.96,1061.43 559.84,1062.31 560.72,1063.18 561.60,1064.05 562.48,1064.90 563.36,1065.75 564.24,1066.59 565.12,1067.42 566.00,1068.25 566.88,1069.06 567.76,1069.87 568.64,1070.68 569.52,1071.47 570.40,1072.26 571.28,1073.04 572.16,1073.81 573.04,1074.58 573.92,1075.34 574.80,1076.09 575.68,1076.84 576.56,1077.58 577.44,1078.31 578.32,1079.04 579.20,1079.76 580.08,1080.48 580.96,1081.19 581.84,1081.89 582.72,1082.59 583.60,1083.28 584.48,1083.96 585.36,1084.64 586.24,1085.32 587.12,1085.98 588.00,1086.65 588.88,1087.30 589.76,1087.95 590.64,1088.60 591.52,1089.24 592.41,1089.87 593.29,1090.50 594.17,1091.13 595.05,1091.75 595.93,1092.36 596.81,1092.97 597.69,1093.57 598.57,1094.17 599.45,1094.77 600.33,1095.36 601.21,1095.95 602.09,1096.53 602.97,1097.11 603.85,1097.68 604.73,1098.25 605.61,1098.82 606.49,1099.38 607.37,1099.93 608.25,1100.49 609.13,1101.04 610.01,1101.59 610.89,1102.13 611.77,1102.67 612.65,1103.20 613.53,1103.74 614.41,1104.27 615.29,1104.79 616.17,1105.32 617.05,1105.84 617.93,1106.36 618.81,1106.87 619.69,1107.38 620.57,1107.89 621.45,1108.40 622.33,1108.90 623.21,1109.40 624.09,1109.90 624.97,1110.40 625.85,1110.89 626.73,1111.38 627.61,1111.87 628.49,1112.36 629.37,1112.84 630.25,1113.32 631.14,1113.80 632.02,1114.27 632.90,1114.75 633.78,1115.22 634.66,1115.68 635.54,1116.15 636.42,1116.61 637.30,1117.07 638.18,1117.53 639.06,1117.98 639.94,1118.43 640.82,1118.88 641.70,1119.33 642.58,1119.77 643.46,1120.21 644.34,1120.65 645.22,1121.09 646.10,1121.52 646.98,1121.95 647.86,1122.37 648.74,1122.80 649.62,1123.22 650.50,1123.63 651.38,1124.05 652.26,1124.46 653.14,1124.86 654.02,1125.27 654.90,1125.67 655.78,1126.06 656.66,1126.45 657.54,1126.84 658.42,1127.23 659.30,1127.61 660.18,1127.99 661.06,1128.36 661.94,1128.73 662.82,1129.10 663.70,1129.46 664.58,1129.82 665.46,1130.17 666.34,1130.53 667.22,1130.87 668.10,1131.21 668.98,1131.55 669.86,1131.89 670.75,1132.22 671.63,1132.54 672.51,1132.87 673.39,1133.18 674.27,1133.50 675.15,1133.81 676.03,1134.11 676.91,1134.41 677.79,1134.71 678.67,1135.01 679.55,1135.29 680.43,1135.58 681.31,1135.86 682.19,1136.14 683.07,1136.41 683.95,1136.68 684.83,1136.95 685.71,1137.21 686.59,1137.47 687.47,1137.72 688.35,1137.97 689.23,1138.22 690.11,1138.46 690.99,1138.70 691.87,1138.93 692.75,1139.17 693.63,1139.39 694.51,1139.62 695.39,1139.84 696.27,1140.06 697.15,1140.28 698.03,1140.49 698.91,1140.70 699.79,1140.90 700.67,1141.10 701.55,1141.30 702.43,1141.50 703.31,1141.70 704.19,1141.89 705.07,1142.08 705.95,1142.26 706.83,1142.44 707.71,1142.62 708.59,1142.80 709.48,1142.98 710.36,1143.15 711.24,1143.32 712.12,1143.49 713.00,1143.66 713.88,1143.82 714.76,1143.98 715.64,1144.14 716.52,1144.30 717.40,1144.45 718.28,1144.61 719.16,1144.76 720.04,1144.91 720.92,1145.05 721.80,1145.20 722.68,1145.34 723.56,1145.49 724.44,1145.63 725.32,1145.76 726.20,1145.90 727.08,1146.04 727.96,1146.17 728.84,1146.30 729.72,1146.43 730.60,1146.56 731.48,1146.69 732.36,1146.81 733.24,1146.94 734.12,1147.06 735.00,1147.18 735.88,1147.30 736.76,1147.42 737.64,1147.53 738.52,1147.65 739.40,1147.76 740.28,1147.87 741.16,1147.99 742.04,1148.10 742.92,1148.20 743.80,1148.31 744.68,1148.42 745.56,1148.52 746.44,1148.62 747.32,1148.73 748.21,1148.83" fill="none" stroke="#00ff00" stroke-width="4.0" stroke-linejoin="round"/>
<polyline points="103.00,1162.30 103.88,1162.27 104.76,1162.23 105.64,1162.19 106.52,1162.14 107.40,1162.08 108.28,1162.02 109.16,1161.95 110.04,1161.88 110.92,1161.80 111.80,1161.72 112.68,1161.63 113.56,1161.55 114.44,1161.46 115.32,1161.38 116.20,1161.30 117.08,1161.23 117.96,1161.17 118.84,1161.12 119.72,1161.08 120.60,1161.05 121.48,1161.04 122.36,1161.03 123.25,1161.03 124.13,1161.03 125.01,1161.03 125.89,1161.02 126.77,1160.99 127.65,1160.94 128.53,1160.86 129.41,1160.74 130.29,1160.56 131.17,1160.31 132.05,1159.99 132.93,1159.58 133.81,1159.08 134.69,1158.46 135.57,1157.74 136.45,1156.90 137.33,1155.94 138.21,1154.86 139.09,1153.67 139.97,1152.36 140.85,1150.96 141.73,1149.46 142.61,1147.88 143.49,1146.23 144.37,1144.53 145.25,1142.80 146.13,1141.04 147.01,1139.29 147.89,1137.54 148.77,1135.82 149.65,1134.14 150.53,1132.51 151.41,1130.92 152.29,1129.39 153.17,1127.92 154.05,1126.50 154.93,1125.14 155.81,1123.81 156.69,1122.52 157.57,1121.26 158.45,1120.02 159.33,1118.78 160.21,1117.53 161.09,1116.28 161.98,1115.01 162.86,1113.71 163.74,1112.39 164.62,1111.04 165.50,1109.67 166.38,1108.28 167.26,1106.87 168.14,1105.45 169.02,1104.02 169.90,1102.61 170.78,1101.21 171.66,1099.84 172.54,1098.50 173.42,1097.19 174.30,1095.94 175.18,1094.73 176.06,1093.58 176.94,1092.49 177.82,1091.46 178.70,1090.48 179.58,1089.56 180.46,1088.69 181.34,1087.86 182.22,1087.08 183.10,1086.34 183.98,1085.64 184.86,1084.96 185.74,1084.31 186.62,1083.68 187.50,1083.07 188.38,1082.48 189.26,1081.90 190.14,1081.34 191.02,1080.78 191.90,1080.24 192.78,1079.71 193.66,1079.19 194.54,1078.69 195.42,1078.19 196.30,1077.70 197.18,1077.21 198.06,1076.74 198.94,1076.27 199.82,1075.81 200.70,1075.35 201.59,1074.90 202.47,1074.44 203.35,1074.00 204.23,1073.55 205.11,1073.11 205.99,1072.68 206.87,1072.25 207.75,1071.82 208.63,1071.40 209.51,1070.99 210.39,1070.59 211.27,1070.20 212.15,1069.82 213.03,1069.44 213.91,1069.07 214.79,1068.70 215.67,1068.32 216.55,1067.93 217.43,1067.53 218.31,1067.10 219.19,1066.64 220.07,1066.13 220.95,1065.58 221.83,1064.98 222.71,1064.31 223.59,1063.57 224.47,1062.76 225.35,1061.88 226.23,1060.92 227.11,1059.90 227.99,1058.81 228.87,1057.66 229.75,1056.46 230.63,1055.22 231.51,1053.96 232.39,1052.67 233.27,1051.38 234.15,1050.10 235.03,1048.83 235.91,1047.59 236.79,1046.37 237.67,1045.18 238.55,1044.03 239.43,1042.91 240.32,1041.81 241.20,1040.72 242.08,1039.63 242.96,1038.54 243.84,1037.42 244.72,1036.25 245.60,1035.03 246.48,1033.73 247.36,1032.34 248.24,1030.83 249.12,1029.21 250.00,1027.45 250.88,1025.56 251.76,1023.52 252.64,1021.34 253.52,1019.02 254.40,1016.56 255.28,1013.98 256.16,1011.28 257.04,1008.48 257.92,1005.60 258.80,1002.65 259.68,999.64 260.56,996.60 261.44,993.55 262.32,990.49 263.20,987.44 264.08,984.41 264.96,981.42 265.84,978.46 266.72,975.54 267.60,972.67 268.48,969.84 269.36,967.06 270.24,964.31 271.12,961.59 272.00,958.90 272.88,956.22 273.76,953.55 274.64,950.87 275.52,948.17 276.40,945.45 277.28,942.69 278.16,939.89 279.05,937.04 279.93,934.13 280.81,931.16 281.69,928.12 282.57,925.00 283.45,921.81 284.33,918.55 285.21,915.21 286.09,911.80 286.97,908.32 287.85,904.78 288.73,901.17 289.61,897.50 290.49,893.79 291.37,890.03 292.25,886.22 293.13,882.39 294.01,878.52 294.89,874.64 295.77,870.74 296.65,866.83 297.53,862.92 298.41,859.01 299.29,855.10 300.17,851.21 301.05,847.33 301.93,843.47 302.81,839.63 303.69,835.81 304.57,832.03 305.45,828.27 306.33,824.54 307.21,820.86 308.09,817.20 308.97,813.58 309.85,810.01 310.73,806.47 311.61,802.97 312.49,799.51 313.37,796.10 314.25,792.72 315.13,789.39 316.01,786.11 316.89,782.87 317.77,779.67 318.66,776.52 319.54,773.42 320.42,770.36 321.30,767.35 322.18,764.39 323.06,761.47 323.94,758.61 324.82,755.79 325.70,753.03 326.58,750.31 327.46,747.65 328.34,745.04 329.22,742.48 330.10,739.97 330.98,737.51 331.86,735.11 332.74,732.76 333.62,730.47 334.50,728.23 335.38,726.05 336.26,723.92 337.14,721.85 338.02,719.83 338.90,717.87 339.78,715.96 340.66,714.11 341.54,712.32 342.42,710.58 343.30,708.90 344.18,707.27 345.06,705.70 345.94,704.19 346.82,702.73 347.70,701.33 348.58,699.99 349.46,698.70 350.34,697.46 351.22,696.28 352.10,695.16 352.98,694.09 353.86,693.08 354.74,692.12 355.62,691.21 356.50,690.36 357.39,689.56 358.27,688.82 359.15,688.12 360.03,687.48 360.91,686.90 361.79,686.36 362.67,685.88 363.55,685.44 364.43,685.06 365.31,684.72 366.19,684.44 367.07,684.20 367.95,684.01 368.83,683.87 369.71,683.78 370.59,683.74 371.47,683.74 372.35,683.79 373.23,683.91 374.11,684.08 374.99,684.31 375.87,684.59 376.75,684.93 377.63,685.32 378.51,685.76 379.39,686.26 380.27,686.81 381.15,687.41 382.03,688.06 382.91,688.76 383.79,689.50 384.67,690.30 385.55,691.14 386.43,692.03 387.31,692.96 388.19,693.93 389.07,694.95 389.95,696.02 390.83,697.12 391.71,698.27 392.59,699.45 393.47,700.68 394.35,701.94 395.23,703.24 396.11,704.58 397.00,705.96 397.88,707.37 398.76,708.81 399.64,710.29 400.52,711.80 401.40,713.34 402.28,714.91 403.16,716.52 404.04,718.15 404.92,719.81 405.80,721.50 406.68,723.22 407.56,724.96 408.44,726.73 409.32,728.53 410.20,730.35 411.08,732.19 411.96,734.05 412.84,735.94 413.72,737.85 414.60,739.78 415.48,741.72 416.36,743.69 417.24,745.67 418.12,747.68 419.00,749.70 419.88,751.73 420.76,753.78 421.64,755.85 422.52,757.93 423.40,760.03 424.28,762.13 425.16,764.25 426.04,766.38 426.92,768.53 427.80,770.68 428.68,772.84 429.56,775.01 430.44,777.20 431.32,779.38 432.20,781.58 433.08,783.78 433.96,785.99 434.84,788.21 435.73,790.43 436.61,792.66 437.49,794.89 438.37,797.12 439.25,799.36 440.13,801.60 441.01,803.85 441.89,806.09 442.77,808.34 443.65,810.59 444.53,812.84 445.41,815.08 446.29,817.33 447.17,819.58 448.05,821.83 448.93,824.07 449.81,826.32 450.69,828.56 451.57,830.80 452.45,833.04 453.33,835.27 454.21,837.50 455.09,839.73 455.97,841.95 456.85,844.17 457.73,846.39 458.61,848.60 459.49,850.80 460.37,853.00 461.25,855.20 462.13,857.38 463.01,859.57 463.89,861.74 464.77,863.91 465.65,866.08 466.53,868.24 467.41,870.39 468.29,872.53 469.17,874.67 470.05,876.80 470.93,878.92 471.81,881.04 472.69,883.15 473.57,885.25 474.45,887.34 475.34,889.43 476.22,891.51 477.10,893.58 477.98,895.65 478.86,897.70 479.74,899.75 480.62,901.79 481.50,903.82 482.38,905.85 483.26,907.87 484.14,909.88 485.02,911.88 485.90,913.87 486.78,915.86 487.66,917.83 488.54,919.80 489.42,921.76 490.30,923.72 491.18,925.66 492.06,927.60 492.94,929.53 493.82,931.45 494.70,933.36 495.58,935.26 496.46,937.16 497.34,939.04 498.22,940.92 499.10,942.79 499.98,944.65 500.86,946.50 501.74,948.35 502.62,950.18 503.50,952.00 504.38,953.82 505.26,955.63 506.14,957.42 507.02,959.21 507.90,960.99 508.78,962.76 509.66,964.52 510.54,966.26 511.42,968.00 512.30,969.73 513.18,971.45 514.07,973.16 514.95,974.85 515.83,976.54 516.71,978.22 517.59,979.88 518.47,981.54 519.35,983.18 520.23,984.81 521.11,986.43 521.99,988.04 522.87,989.64 523.75,991.22 524.63,992.80 525.51,994.36 526.39,995.91 527.27,997.45 528.15,998.98 529.03,1000.49 529.91,1002.00 530.79,1003.49 531.67,1004.97 532.55,1006.43 533.43,1007.89 534.31,1009.33 535.19,1010.76 536.07,1012.18 536.95,1013.58 537.83,1014.97 538.71,1016.35 539.59,1017.72 540.47,1019.08 541.35,1020.42 542.23,1021.75 543.11,1023.07 543.99,1024.37 544.87,1025.67 545.75,1026.95 546.63,1028.22 547.51,1029.48 548.39,1030.72 549.27,1031.96 550.15,1033.18 551.03,1034.39 551.91,1035.58 552.80,1036.77 553.68,1037.94 554.56,1039.10 555.44,1040.25 556.32,1041.39 557.20,1042.52 558.08,1043.64 558.96,1044.74 559.84,1045.83 560.72,1046.92 561.60,1047.99 562.48,1049.05 563.36,1050.09 564.24,1051.13 565.12,1052.16 566.00,1053.18 566.88,1054.18 567.76,1055.18 568.64,1056.16 569.52,1057.13 570.40,1058.10 571.28,1059.05 572.16,1059.99 573.04,1060.93 573.92,1061.85 574.80,1062.76 575.68,1063.67 576.56,1064.56 577.44,1065.44 578.32,1066.32 579.20,1067.18 580.08,1068.04 580.96,1068.89 581.84,1069.72 582.72,1070.55 583.60,1071.37 584.48,1072.18 585.36,1072.98 586.24,1073.78 587.12,1074.56 588.00,1075.34 588.88,1076.11 589.76,1076.86 590.64,1077.62 591.52,1078.36 592.41,1079.10 593.29,1079.82 594.17,1080.54 595.05,1081.26 595.93,1081.96 596.81,1082.66 597.69,1083.35 598.57,1084.03 599.45,1084.71 600.33,1085.38 601.21,1086.04 602.09,1086.70 602.97,1087.35 603.85,1087.99 604.73,1088.63 605.61,1089.26 606.49,1089.89 607.37,1090.51 608.25,1091.12 609.13,1091.73 610.01,1092.33 610.89,1092.93 611.77,1093.52 612.65,1094.11 613.53,1094.69 614.41,1095.27 615.29,1095.85 616.17,1096.41 617.05,1096.98 617.93,1097.54 618.81,1098.09 619.69,1098.65 620.57,1099.19 621.45,1099.74 622.33,1100.28 623.21,1100.81 624.09,1101.35 624.97,1101.88 625.85,1102.40 626.73,1102.93 627.61,1103.45 628.49,1103.96 629.37,1104.48 630.25,1104.99 631.14,1105.50 632.02,1106.01 632.90,1106.51 633.78,1107.01 634.66,1107.51 635.54,1108.01 636.42,1108.50 637.30,1108.99 638.18,1109.48 639.06,1109.97 639.94,1110.45 640.82,1110.94 641.70,1111.42 642.58,1111.90 643.46,1112.37 644.34,1112.85 645.22,1113.32 646.10,1113.79 646.98,1114.26 647.86,1114.72 648.74,1115.18 649.62,1115.64 650.50,1116.10 651.38,1116.56 652.26,1117.01 653.14,1117.46 654.02,1117.91 654.90,1118.35 655.78,1118.80 656.66,1119.24 657.54,1119.67 658.42,1120.11 659.30,1120.54 660.18,1120.96 661.06,1121.39 661.94,1121.81 662.82,1122.23 663.70,1122.64 664.58,1123.05 665.46,1123.46 666.34,1123.86 667.22,1124.26 668.10,1124.66 668.98,1125.05 669.86,1125.44 670.75,1125.83 671.63,1126.21 672.51,1126.58 673.39,1126.96 674.27,1127.32 675.15,1127.69 676.03,1128.05 676.91,1128.40 677.79,1128.75 678.67,1129.10 679.55,1129.44 680.43,1129.78 681.31,1130.12 682.19,1130.44 683.07,1130.77 683.95,1131.09 684.83,1131.41 685.71,1131.72 686.59,1132.02 687.47,1132.33 688.35,1132.62 689.23,1132.92 690.11,1133.21 690.99,1133.49 691.87,1133.77 692.75,1134.05 693.63,1134.32 694.51,1134.59 695.39,1134.86 696.27,1135.12 697.15,1135.37 698.03,1135.62 698.91,1135.87 699.79,1136.12 700.67,1136.36 701.55,1136.60 702.43,1136.83 703.31,1137.06 704.19,1137.29 705.07,1137.51 705.95,1137.73 706.83,1137.94 707.71,1138.16 708.59,1138.37 709.48,1138.57 710.36,1138.78 711.24,1138.98 712.12,1139.17 713.00,1139.37 713.88,1139.56 714.76,1139.75 715.64,1139.94 716.52,1140.12 717.40,1140.30 718.28,1140.48 719.16,1140.66 720.04,1140.83 720.92,1141.00 721.80,1141.17 722.68,1141.34 723.56,1141.51 724.44,1141.67 725.32,1141.83 726.20,1141.99 727.08,1142.15 727.96,1142.31 728.84,1142.46 729.72,1142.61 730.60,1142.77 731.48,1142.92 732.36,1143.06 733.24,1143.21 734.12,1143.36 735.00,1143.50 735.88,1143.64 736.76,1143.78 737.64,1143.92 738.52,1144.06 739.40,1144.20 740.28,1144.33 741.16,1144.47 742.04,1144.60 742.92,1144.73 743.80,1144.87 744.68,1145.00 745.56,1145.13 746.44,1145.25 747.32,1145.38 748.21,1145.51" fill="none" stroke="#0000ff" stroke-width="4.0" stroke-linejoin="round"/>
<polyline points="103.00,1162.30 103.88,1162.29 104.76,1162.29 105.64,1162.28 106.52,1162.28 107.40,1162.27 108.28,1162.27 109.16,1162.26 110.04,1162.26 110.92,1162.25 111.80,1162.25 112.68,1162.25 113.56,1162.25 114.44,1162.25 115.32,1162.25 116.20,1162.26 117.08,1162.26 117.96,1162.27 118.84,1162.29 119.72,1162.30 120.60,1162.30 121.48,1162.30 122.36,1162.30 123.25,1162.30 124.13,1162.30 125.01,1162.30 125.89,1162.30 126.77,1162.30 127.65,1162.30 128.53,1162.30 129.41,1162.30 130.29,1162.30 131.17,1162.30 132.05,1162.30 132.93,1162.30 133.81,1162.25 134.69,1162.17 135.57,1162.09 136.45,1161.98 137.33,1161.86 138.21,1161.72 139.09,1161.56 139.97,1161.38 140.85,1161.18 141.73,1160.96 142.61,1160.72 143.49,1160.46 144.37,1160.18 145.25,1159.88 146.13,1159.57 147.01,1159.23 147.89,1158.87 148.77,1158.49 149.65,1158.10 150.53,1157.68 151.41,1157.25 152.29,1156.79 153.17,1156.32 154.05,1155.83 154.93,1155.33 155.81,1154.80 156.69,1154.25 157.57,1153.69 158.45,1153.11 159.33,1152.51 160.21,1151.89 161.09,1151.26 161.98,1150.61 162.86,1149.94 163.74,1149.25 164.62,1148.56 165.50,1147.85 166.38,1147.12 167.26,1146.39 168.14,1145.64 169.02,1144.89 169.90,1144.13 170.78,1143.37 171.66,1142.60 172.54,1141.83 173.42,1141.07 174.30,1140.30 175.18,1139.54 176.06,1138.78 176.94,1138.03 177.82,1137.29 178.70,1136.56 179.58,1135.83 180.46,1135.12 181.34,1134.43 182.22,1133.74 183.10,1133.07 183.98,1132.42 184.86,1131.78 185.74,1131.15 186.62,1130.54 187.50,1129.95 188.38,1129.36 189.26,1128.79 190.14,1128.24 191.02,1127.69 191.90,1127.16 192.78,1126.63 193.66,1126.11 194.54,1125.60 195.42,1125.10 196.30,1124.59 197.18,1124.09 198.06,1123.58 198.94,1123.07 199.82,1122.55 200.70,1122.03 201.59,1121.49 202.47,1120.95 203.35,1120.38 204.23,1119.81 205.11,1119.21 205.99,1118.59 206.87,1117.96 207.75,1117.30 208.63,1116.62 209.51,1115.93 210.39,1115.21 211.27,1114.47 212.15,1113.71 213.03,1112.94 213.91,1112.14 214.79,1111.33 215.67,1110.51 216.55,1109.67 217.43,1108.81 218.31,1107.94 219.19,1107.05 220.07,1106.14 220.95,1105.21 221.83,1104.26 222.71,1103.28 223.59,1102.26 224.47,1101.22 225.35,1100.13 226.23,1099.01 227.11,1097.83 227.99,1096.61 228.87,1095.34 229.75,1094.01 230.63,1092.63 231.51,1091.18 232.39,1089.69 233.27,1088.13 234.15,1086.52 235.03,1084.86 235.91,1083.15 236.79,1081.40 237.67,1079.60 238.55,1077.77 239.43,1075.90 240.32,1074.01 241.20,1072.08 242.08,1070.12 242.96,1068.14 243.84,1066.13 244.72,1064.09 245.60,1062.02 246.48,1059.91 247.36,1057.76 248.24,1055.57 249.12,1053.33 250.00,1051.03 250.88,1048.66 251.76,1046.23 252.64,1043.72 253.52,1041.13 254.40,1038.46 255.28,1035.70 256.16,1032.86 257.04,1029.92 257.92,1026.89 258.80,1023.77 259.68,1020.57 260.56,1017.27 261.44,1013.90 262.32,1010.44 263.20,1006.90 264.08,1003.30 264.96,999.62 265.84,995.89 266.72,992.09 267.60,988.23 268.48,984.33 269.36,980.37 270.24,976.37 271.12,972.32 272.00,968.23 272.88,964.11 273.76,959.94 274.64,955.74 275.52,951.50 276.40,947.23 277.28,942.93 278.16,938.60 279.05,934.24 279.93,929.85 280.81,925.43 281.69,920.98 282.57,916.51 283.45,912.02 284.33,907.51 285.21,902.98 286.09,898.44 286.97,893.88 287.85,889.31 288.73,884.73 289.61,880.15 290.49,875.57 291.37,870.99 292.25,866.41 293.13,861.84 294.01,857.29 294.89,852.74 295.77,848.21 296.65,843.71 297.53,839.22 298.41,834.76 299.29,830.33 300.17,825.93 301.05,821.57 301.93,817.24 302.81,812.95 303.69,808.71 304.57,804.51 305.45,800.36 306.33,796.25 307.21,792.20 308.09,788.20 308.97,784.26 309.85,780.38 310.73,776.56 311.61,772.80 312.49,769.10 313.37,765.47 314.25,761.91 315.13,758.41 316.01,754.99 316.89,751.63 317.77,748.35 318.66,745.15 319.54,742.02 320.42,738.96 321.30,735.99 322.18,733.09 323.06,730.27 323.94,727.53 324.82,724.88 325.70,722.30 326.58,719.81 327.46,717.40 328.34,715.07 329.22,712.83 330.10,710.67 330.98,708.60 331.86,706.61 332.74,704.70 333.62,702.88 334.50,701.15 335.38,699.50 336.26,697.93 337.14,696.45 338.02,695.05 338.90,693.74 339.78,692.51 340.66,691.37 341.54,690.31 342.42,689.33 343.30,688.44 344.18,687.62 345.06,686.89 345.94,686.24 346.82,685.67 347.70,685.17 348.58,684.76 349.46,684.43 350.34,684.17 351.22,683.99 352.10,683.88 352.98,683.85 353.86,683.90 354.74,684.02 355.62,684.22 356.50,684.50 357.39,684.86 358.27,685.29 359.15,685.79 360.03,686.37 360.91,687.02 361.79,687.74 362.67,688.53 363.55,689.38 364.43,690.30 365.31,691.29 366.19,692.34 367.07,693.46 367.95,694.63 368.83,695.87 369.71,697.16 370.59,698.51 371.47,699.92 372.35,701.38 373.23,702.89 374.11,704.46 374.99,706.08 375.87,707.75 376.75,709.46 377.63,711.22 378.51,713.03 379.39,714.88 380.27,716.77 381.15,718.71 382.03,720.68 382.91,722.70 383.79,724.75 384.67,726.84 385.55,728.96 386.43,731.12 387.31,733.31 388.19,735.53 389.07,737.78 389.95,740.06 390.83,742.37 391.71,744.70 392.59,747.07 393.47,749.45 394.35,751.86 395.23,754.29 396.11,756.74 397.00,759.21 397.88,761.71 398.76,764.22 399.64,766.74 400.52,769.29 401.40,771.84 402.28,774.42 403.16,777.00 404.04,779.60 404.92,782.21 405.80,784.83 406.68,787.46 407.56,790.10 408.44,792.75 409.32,795.40 410.20,798.06 411.08,800.73 411.96,803.40 412.84,806.07 413.72,808.75 414.60,811.43 415.48,814.12 416.36,816.80 417.24,819.49 418.12,822.18 419.00,824.86 419.88,827.55 420.76,830.23 421.64,832.91 422.52,835.59 423.40,838.27 424.28,840.94 425.16,843.61 426.04,846.27 426.92,848.92 427.80,851.58 428.68,854.22 429.56,856.86 430.44,859.49 431.32,862.12 432.20,864.73 433.08,867.34 433.96,869.94 434.84,872.53 435.73,875.11 436.61,877.68 437.49,880.25 438.37,882.80 439.25,885.34 440.13,887.87 441.01,890.39 441.89,892.90 442.77,895.39 443.65,897.88 444.53,900.35 445.41,902.82 446.29,905.26 447.17,907.70 448.05,910.13 448.93,912.54 449.81,914.93 450.69,917.32 451.57,919.69 452.45,922.05 453.33,924.39 454.21,926.73 455.09,929.04 455.97,931.35 456.85,933.64 457.73,935.91 458.61,938.17 459.49,940.42 460.37,942.65 461.25,944.87 462.13,947.08 463.01,949.26 463.89,951.44 464.77,953.60 465.65,955.75 466.53,957.88 467.41,959.99 468.29,962.09 469.17,964.18 470.05,966.25 470.93,968.31 471.81,970.35 472.69,972.37 473.57,974.39 474.45,976.38 475.34,978.36 476.22,980.33 477.10,982.28 477.98,984.22 478.86,986.14 479.74,988.04 480.62,989.93 481.50,991.81 482.38,993.67 483.26,995.51 484.14,997.34 485.02,999.15 485.90,1000.95 486.78,1002.73 487.66,1004.50 488.54,1006.25 489.42,1007.99 490.30,1009.71 491.18,1011.41 492.06,1013.10 492.94,1014.77 493.82,1016.43 494.70,1018.07 495.58,1019.70 496.46,1021.31 497.34,1022.90 498.22,1024.48 499.10,1026.04 499.98,1027.59 500.86,1029.12 501.74,1030.63 502.62,1032.13 503.50,1033.61 504.38,1035.07 505.26,1036.52 506.14,1037.96 507.02,1039.37 507.90,1040.77 508.78,1042.16 509.66,1043.52 510.54,1044.87 511.42,1046.21 512.30,1047.53 513.18,1048.83 514.07,1050.11 514.95,1051.38 515.83,1052.64 516.71,1053.87 517.59,1055.09 518.47,1056.29 519.35,1057.48 520.23,1058.65 521.11,1059.80 521.99,1060.94 522.87,1062.06 523.75,1063.17 524.63,1064.26 525.51,1065.33 526.39,1066.39 527.27,1067.43 528.15,1068.46 529.03,1069.47 529.91,1070.47 530.79,1071.45 531.67,1072.41 532.55,1073.36 533.43,1074.30 534.31,1075.22 535.19,1076.12 536.07,1077.01 536.95,1077.89 537.83,1078.75 538.71,1079.60 539.59,1080.44 540.47,1081.26 541.35,1082.07 542.23,1082.86 543.11,1083.65 543.99,1084.42 544.87,1085.17 545.75,1085.92 546.63,1086.65 547.51,1087.37 548.39,1088.08 549.27,1088.78 550.15,1089.47 551.03,1090.15 551.91,1090.81 552.80,1091.47 553.68,1092.12 554.56,1092.75 555.44,1093.38 556.32,1094.00 557.20,1094.61 558.08,1095.21 558.96,1095.80 559.84,1096.38 560.72,1096.95 561.60,1097.52 562.48,1098.08 563.36,1098.63 564.24,1099.18 565.12,1099.71 566.00,1100.24 566.88,1100.77 567.76,1101.29 568.64,1101.80 569.52,1102.30 570.40,1102.81 571.28,1103.30 572.16,1103.79 573.04,1104.28 573.92,1104.76 574.80,1105.23 575.68,1105.70 576.56,1106.17 577.44,1106.63 578.32,1107.09 579.20,1107.55 580.08,1108.00 580.96,1108.45 581.84,1108.90 582.72,1109.34 583.60,1109.78 584.48,1110.21 585.36,1110.65 586.24,1111.08 587.12,1111.51 588.00,1111.93 588.88,1112.36 589.76,1112.78 590.64,1113.20 591.52,1113.61 592.41,1114.03 593.29,1114.44 594.17,1114.85 595.05,1115.26 595.93,1115.67 596.81,1116.07 597.69,1116.48 598.57,1116.88 599.45,1117.28 600.33,1117.68 601.21,1118.07 602.09,1118.47 602.97,1118.86 603.85,1119.26 604.73,1119.65 605.61,1120.03 606.49,1120.42 607.37,1120.81 608.25,1121.19 609.13,1121.57 610.01,1121.95 610.89,1122.33 611.77,1122.70 612.65,1123.08 613.53,1123.45 614.41,1123.82 615.29,1124.18 616.17,1124.55 617.05,1124.91 617.93,1125.27 618.81,1125.63 619.69,1125.99 620.57,1126.34 621.45,1126.69 622.33,1127.04 623.21,1127.39 624.09,1127.73 624.97,1128.07 625.85,1128.41 626.73,1128.75 627.61,1129.08 628.49,1129.41 629.37,1129.73 630.25,1130.06 631.14,1130.38 632.02,1130.69 632.90,1131.01 633.78,1131.32 634.66,1131.63 635.54,1131.93 636.42,1132.23 637.30,1132.53 638.18,1132.82 639.06,1133.12 639.94,1133.40 640.82,1133.69 641.70,1133.97 642.58,1134.25 643.46,1134.52 644.34,1134.79 645.22,1135.06 646.10,1135.32 646.98,1135.58 647.86,1135.84 648.74,1136.09 649.62,1136.34 650.50,1136.59 651.38,1136.84 652.26,1137.08 653.14,1137.31 654.02,1137.55 654.90,1137.78 655.78,1138.01 656.66,1138.23 657.54,1138.46 658.42,1138.68 659.30,1138.89 660.18,1139.11 661.06,1139.32 661.94,1139.53 662.82,1139.74 663.70,1139.94 664.58,1140.14 665.46,1140.34 666.34,1140.54 667.22,1140.73 668.10,1140.93 668.98,1141.12 669.86,1141.31 670.75,1141.49 671.63,1141.68 672.51,1141.86 673.39,1142.04 674.27,1142.22 675.15,1142.40 676.03,1142.58 676.91,1142.75 677.79,1142.92 678.67,1143.10 679.55,1143.27 680.43,1143.44 681.31,1143.60 682.19,1143.77 683.07,1143.94 683.95,1144.10 684.83,1144.26 685.71,1144.43 686.59,1144.59 687.47,1144.75 688.35,1144.91 689.23,1145.06 690.11,1145.22 690.99,1145.38 691.87,1145.53 692.75,1145.69 693.63,1145.84 694.51,1145.99 695.39,1146.14 696.27,1146.29 697.15,1146.44 698.03,1146.59 698.91,1146.74 699.79,1146.89 700.67,1147.03 701.55,1147.18 702.43,1147.32 703.31,1147.47 704.19,1147.61 705.07,1147.75 705.95,1147.89 706.83,1148.03 707.71,1148.17 708.59,1148.31 709.48,1148.45 710.36,1148.58 711.24,1148.72 712.12,1148.85 713.00,1148.98 713.88,1149.12 714.76,1149.25 715.64,1149.38 716.52,1149.50 717.40,1149.63 718.28,1149.76 719.16,1149.88 720.04,1150.00 720.92,1150.13 721.80,1150.25 722.68,1150.37 723.56,1150.48 724.44,1150.60 725.32,1150.72 726.20,1150.83 727.08,1150.94 727.96,1151.05 728.84,1151.16 729.72,1151.27 730.60,1151.37 731.48,1151.48 732.36,1151.58 733.24,1151.68 734.12,1151.78 735.00,1151.88 735.88,1151.98 736.76,1152.07 737.64,1152.17 738.52,1152.26 739.40,1152.35 740.28,1152.44 741.16,1152.53 742.04,1152.61 742.92,1152.70 743.80,1152.78 744.68,1152.86 745.56,1152.94 746.44,1153.02 747.32,1153.09 748.21,1153.17" fill="none" stroke="#00ffff" stroke-width="4.0" stroke-linejoin="round"/>
<polyline points="103.00,1162.27 103.88,1162.20 104.76,1162.11 105.64,1162.02 106.52,1161.91 107.40,1161.81 108.28,1161.70 109.16,1161.59 110.04,1161.48 110.92,1161.37 111.80,1161.28 112.68,1161.19 113.56,1161.12 114.44,1161.06 115.32,1161.02 116.20,1161.00 117.08,1160.99 117.96,1161.00 118.84,1161.03 119.72,1161.07 120.60,1161.11 121.48,1161.16 122.36,1161.21 123.25,1161.24 124.13,1161.26 125.01,1161.25 125.89,1161.20 126.77,1161.10 127.65,1160.94 128.53,1160.71 129.41,1160.40 130.29,1160.00 131.17,1159.51 132.05,1158.91 132.93,1158.21 133.81,1157.39 134.69,1156.46 135.57,1155.41 136.45,1154.26 137.33,1153.00 138.21,1151.63 139.09,1150.18 139.97,1148.64 140.85,1147.03 141.73,1145.35 142.61,1143.62 143.49,1141.85 144.37,1140.06 145.25,1138.24 146.13,1136.42 147.01,1134.59 147.89,1132.77 148.77,1130.96 149.65,1129.16 150.53,1127.39 151.41,1125.63 152.29,1123.90 153.17,1122.18 154.05,1120.48 154.93,1118.80 155.81,1117.12 156.69,1115.46 157.57,1113.79 158.45,1112.13 159.33,1110.46 160.21,1108.79 161.09,1107.10 161.98,1105.41 162.86,1103.71 163.74,1101.99 164.62,1100.27 165.50,1098.54 166.38,1096.80 167.26,1095.06 168.14,1093.32 169.02,1091.59 169.90,1089.87 170.78,1088.17 171.66,1086.48 172.54,1084.83 173.42,1083.20 174.30,1081.62 175.18,1080.08 176.06,1078.58 176.94,1077.15 177.82,1075.77 178.70,1074.45 179.58,1073.20 180.46,1072.03 181.34,1070.92 182.22,1069.90 183.10,1068.95 183.98,1068.08 184.86,1067.29 185.74,1066.58 186.62,1065.95 187.50,1065.40 188.38,1064.91 189.26,1064.50 190.14,1064.15 191.02,1063.86 191.90,1063.62 192.78,1063.44 193.66,1063.29 194.54,1063.19 195.42,1063.11 196.30,1063.06 197.18,1063.03 198.06,1063.02 198.94,1063.01 199.82,1063.01 200.70,1063.02 201.59,1063.03 202.47,1063.04 203.35,1063.05 204.23,1063.07 205.11,1063.09 205.99,1063.12 206.87,1063.16 207.75,1063.21 208.63,1063.28 209.51,1063.36 210.39,1063.46 211.27,1063.59 212.15,1063.73 213.03,1063.89 213.91,1064.06 214.79,1064.24 215.67,1064.42 216.55,1064.60 217.43,1064.76 218.31,1064.90 219.19,1064.99 220.07,1065.03 220.95,1065.01 221.83,1064.92 222.71,1064.74 223.59,1064.47 224.47,1064.09 225.35,1063.62 226.23,1063.04 227.11,1062.36 227.99,1061.58 228.87,1060.71 229.75,1059.77 230.63,1058.76 231.51,1057.70 232.39,1056.61 233.27,1055.50 234.15,1054.38 235.03,1053.27 235.91,1052.17 236.79,1051.10 237.67,1050.05 238.55,1049.03 239.43,1048.03 240.32,1047.03 241.20,1046.03 242.08,1044.99 242.96,1043.91 243.84,1042.74 244.72,1041.48 245.60,1040.08 246.48,1038.52 247.36,1036.77 248.24,1034.81 249.12,1032.62 250.00,1030.18 250.88,1027.49 251.76,1024.54 252.64,1021.34 253.52,1017.89 254.40,1014.22 255.28,1010.33 256.16,1006.25 257.04,1002.02 257.92,997.66 258.80,993.21 259.68,988.69 260.56,984.13 261.44,979.58 262.32,975.04 263.20,970.54 264.08,966.10 264.96,961.74 265.84,957.45 266.72,953.24 267.60,949.12 268.48,945.08 269.36,941.10 270.24,937.18 271.12,933.29 272.00,929.44 272.88,925.60 273.76,921.75 274.64,917.87 275.52,913.97 276.40,910.01 277.28,905.99 278.16,901.90 279.05,897.74 279.93,893.50 280.81,889.18 281.69,884.78 282.57,880.31 283.45,875.77 284.33,871.16 285.21,866.51 286.09,861.81 286.97,857.08 287.85,852.33 288.73,847.56 289.61,842.79 290.49,838.04 291.37,833.30 292.25,828.59 293.13,823.92 294.01,819.29 294.89,814.71 295.77,810.19 296.65,805.73 297.53,801.34 298.41,797.02 299.29,792.77 300.17,788.59 301.05,784.49 301.93,780.48 302.81,776.54 303.69,772.68 304.57,768.90 305.45,765.20 306.33,761.58 307.21,758.04 308.09,754.58 308.97,751.21 309.85,747.91 310.73,744.69 311.61,741.56 312.49,738.50 313.37,735.53 314.25,732.64 315.13,729.83 316.01,727.10 316.89,724.46 317.77,721.89 318.66,719.41 319.54,717.02 320.42,714.70 321.30,712.47 322.18,710.33 323.06,708.27 323.94,706.29 324.82,704.40 325.70,702.59 326.58,700.87 327.46,699.23 328.34,697.68 329.22,696.21 330.10,694.83 330.98,693.53 331.86,692.31 332.74,691.18 333.62,690.13 334.50,689.16 335.38,688.28 336.26,687.47 337.14,686.75 338.02,686.11 338.90,685.55 339.78,685.06 340.66,684.66 341.54,684.33 342.42,684.08 343.30,683.90 344.18,683.81 345.06,683.78 345.94,683.83 346.82,683.95 347.70,684.15 348.58,684.42 349.46,684.77 350.34,685.18 351.22,685.67 352.10,686.23 352.98,686.85 353.86,687.54 354.74,688.29 355.62,689.11 356.50,690.00 357.39,690.94 358.27,691.95 359.15,693.02 360.03,694.14 360.91,695.32 361.79,696.56 362.67,697.86 363.55,699.21 364.43,700.61 365.31,702.06 366.19,703.56 367.07,705.12 367.95,706.72 368.83,708.36 369.71,710.06 370.59,711.79 371.47,713.57 372.35,715.39 373.23,717.26 374.11,719.16 374.99,721.10 375.87,723.08 376.75,725.09 377.63,727.14 378.51,729.22 379.39,731.34 380.27,733.49 381.15,735.66 382.03,737.87 382.91,740.11 383.79,742.37 384.67,744.66 385.55,746.97 386.43,749.31 387.31,751.67 388.19,754.05 389.07,756.46 389.95,758.88 390.83,761.32 391.71,763.79 392.59,766.26 393.47,768.76 394.35,771.27 395.23,773.80 396.11,776.33 397.00,778.89 397.88,781.45 398.76,784.02 399.64,786.61 400.52,789.20 401.40,791.80 402.28,794.42 403.16,797.03 404.04,799.66 404.92,802.29 405.80,804.92 406.68,807.56 407.56,810.20 408.44,812.85 409.32,815.50 410.20,818.15 411.08,820.80 411.96,823.45 412.84,826.10 413.72,828.75 414.60,831.40 415.48,834.05 416.36,836.69 417.24,839.33 418.12,841.97 419.00,844.60 419.88,847.23 420.76,849.86 421.64,852.48 422.52,855.09 423.40,857.70 424.28,860.30 425.16,862.90 426.04,865.49 426.92,868.07 427.80,870.64 428.68,873.20 429.56,875.75 430.44,878.30 431.32,880.84 432.20,883.36 433.08,885.88 433.96,888.39 434.84,890.89 435.73,893.37 436.61,895.85 437.49,898.31 438.37,900.76 439.25,903.21 440.13,905.63 441.01,908.05 441.89,910.46 442.77,912.85 443.65,915.23 444.53,917.60 445.41,919.96 446.29,922.30 447.17,924.63 448.05,926.95 448.93,929.26 449.81,931.55 450.69,933.83 451.57,936.09 452.45,938.34 453.33,940.58 454.21,942.81 455.09,945.02 455.97,947.21 456.85,949.40 457.73,951.57 458.61,953.72 459.49,955.86 460.37,957.99 461.25,960.11 462.13,962.21 463.01,964.29 463.89,966.36 464.77,968.42 465.65,970.46 466.53,972.49 467.41,974.51 468.29,976.51 469.17,978.49 470.05,980.46 470.93,982.42 471.81,984.36 472.69,986.29 473.57,988.20 474.45,990.10 475.34,991.99 476.22,993.86 477.10,995.71 477.98,997.56 478.86,999.38 479.74,1001.19 480.62,1002.99 481.50,1004.77 482.38,1006.54 483.26,1008.30 484.14,1010.03 485.02,1011.76 485.90,1013.47 486.78,1015.16 487.66,1016.84 488.54,1018.51 489.42,1020.16 490.30,1021.79 491.18,1023.41 492.06,1025.02 492.94,1026.61 493.82,1028.18 494.70,1029.74 495.58,1031.29 496.46,1032.82 497.34,1034.34 498.22,1035.84 499.10,1037.32 499.98,1038.79 500.86,1040.25 501.74,1041.69 502.62,1043.12 503.50,1044.53 504.38,1045.92 505.26,1047.31 506.14,1048.67 507.02,1050.02 507.90,1051.36 508.78,1052.68 509.66,1053.99 510.54,1055.28 511.42,1056.55 512.30,1057.81 513.18,1059.06 514.07,1060.29 514.95,1061.51 515.83,1062.71 516.71,1063.90 517.59,1065.07 518.47,1066.22 519.35,1067.36 520.23,1068.49 521.11,1069.60 521.99,1070.70 522.87,1071.78 523.75,1072.85 524.63,1073.90 525.51,1074.94 526.39,1075.96 527.27,1076.97 528.15,1077.97 529.03,1078.94 529.91,1079.91 530.79,1080.86 531.67,1081.80 532.55,1082.72 533.43,1083.62 534.31,1084.52 535.19,1085.39 536.07,1086.26 536.95,1087.11 537.83,1087.94 538.71,1088.77 539.59,1089.57 540.47,1090.37 541.35,1091.15 542.23,1091.92 543.11,1092.67 543.99,1093.41 544.87,1094.14 545.75,1094.85 546.63,1095.55 547.51,1096.24 548.39,1096.92 549.27,1097.58 550.15,1098.23 551.03,1098.87 551.91,1099.50 552.80,1100.11 553.68,1100.72 554.56,1101.31 555.44,1101.89 556.32,1102.46 557.20,1103.02 558.08,1103.57 558.96,1104.11 559.84,1104.64 560.72,1105.16 561.60,1105.67 562.48,1106.17 563.36,1106.66 564.24,1107.14 565.12,1107.62 566.00,1108.09 566.88,1108.55 567.76,1109.00 568.64,1109.44 569.52,1109.88 570.40,1110.31 571.28,1110.73 572.16,1111.15 573.04,1111.56 573.92,1111.97 574.80,1112.37 575.68,1112.76 576.56,1113.16 577.44,1113.54 578.32,1113.92 579.20,1114.30 580.08,1114.68 580.96,1115.05 581.84,1115.42 582.72,1115.78 583.60,1116.14 584.48,1116.50 585.36,1116.86 586.24,1117.22 587.12,1117.57 588.00,1117.92 588.88,1118.27 589.76,1118.62 590.64,1118.96 591.52,1119.31 592.41,1119.66 593.29,1120.00 594.17,1120.34 595.05,1120.69 595.93,1121.03 596.81,1121.37 597.69,1121.71 598.57,1122.05 599.45,1122.40 600.33,1122.74 601.21,1123.08 602.09,1123.42 602.97,1123.76 603.85,1124.10 604.73,1124.44 605.61,1124.79 606.49,1125.13 607.37,1125.47 608.25,1125.81 609.13,1126.15 610.01,1126.50 610.89,1126.84 611.77,1127.18 612.65,1127.52 613.53,1127.87 614.41,1128.21 615.29,1128.55 616.17,1128.89 617.05,1129.23 617.93,1129.58 618.81,1129.92 619.69,1130.26 620.57,1130.59 621.45,1130.93 622.33,1131.27 623.21,1131.61 624.09,1131.94 624.97,1132.28 625.85,1132.61 626.73,1132.94 627.61,1133.27 628.49,1133.60 629.37,1133.93 630.25,1134.26 631.14,1134.58 632.02,1134.90 632.90,1135.22 633.78,1135.54 634.66,1135.85 635.54,1136.17 636.42,1136.48 637.30,1136.79 638.18,1137.09 639.06,1137.39 639.94,1137.70 640.82,1137.99 641.70,1138.29 642.58,1138.58 643.46,1138.87 644.34,1139.16 645.22,1139.44 646.10,1139.72 646.98,1140.00 647.86,1140.27 648.74,1140.54 649.62,1140.81 650.50,1141.07 651.38,1141.33 652.26,1141.59 653.14,1141.85 654.02,1142.10 654.90,1142.35 655.78,1142.59 656.66,1142.83 657.54,1143.07 658.42,1143.31 659.30,1143.54 660.18,1143.77 661.06,1144.00 661.94,1144.22 662.82,1144.44 663.70,1144.66 664.58,1144.88 665.46,1145.09 666.34,1145.30 667.22,1145.50 668.10,1145.71 668.98,1145.91 669.86,1146.11 670.75,1146.30 671.63,1146.50 672.51,1146.69 673.39,1146.87 674.27,1147.06 675.15,1147.24 676.03,1147.43 676.91,1147.61 677.79,1147.78 678.67,1147.96 679.55,1148.13 680.43,1148.30 681.31,1148.47 682.19,1148.64 683.07,1148.80 683.95,1148.97 684.83,1149.13 685.71,1149.29 686.59,1149.45 687.47,1149.60 688.35,1149.76 689.23,1149.91 690.11,1150.06 690.99,1150.21 691.87,1150.36 692.75,1150.51 693.63,1150.66 694.51,1150.80 695.39,1150.94 696.27,1151.09 697.15,1151.23 698.03,1151.37 698.91,1151.50 699.79,1151.64 700.67,1151.78 701.55,1151.91 702.43,1152.04 703.31,1152.17 704.19,1152.30 705.07,1152.43 705.95,1152.56 706.83,1152.69 707.71,1152.81 708.59,1152.94 709.48,1153.06 710.36,1153.18 711.24,1153.30 712.12,1153.42 713.00,1153.54 713.88,1153.66 714.76,1153.77 715.64,1153.89 716.52,1154.00 717.40,1154.11 718.28,1154.22 719.16,1154.33 720.04,1154.44 720.92,1154.54 721.80,1154.65 722.68,1154.75 723.56,1154.86 724.44,1154.96 725.32,1155.06 726.20,1155.15 727.08,1155.25 727.96,1155.35 728.84,1155.44 729.72,1155.53 730.60,1155.62 731.48,1155.71 732.36,1155.80 733.24,1155.89 734.12,1155.97 735.00,1156.05 735.88,1156.14 736.76,1156.22 737.64,1156.29 738.52,1156.37 739.40,1156.45 740.28,1156.52 741.16,1156.59 742.04,1156.67 742.92,1156.74 743.80,1156.80 744.68,1156.87 745.56,1156.93 746.44,1157.00 747.32,1157.06 748.21,1157.12" fill="none" stroke="#ff00ff" stroke-width="4.0" stroke-linejoin="round"/>
<polyline points="103.00,1162.06 103.88,1162.17 104.76,1162.29 105.64,1162.30 106.52,1162.30 107.40,1162.30 108.28,1162.30 109.16,1162.30 110.04,1162.30 110.92,1162.30 111.80,1162.30 112.68,1162.30 113.56,1162.30 114.44,1162.30 115.32,1162.21 116.20,1161.86 117.08,1161.43 117.96,1160.92 118.84,1160.33 119.72,1159.65 120.60,1158.89 121.48,1158.05 122.36,1157.14 123.25,1156.15 124.13,1155.10 125.01,1153.99 125.89,1152.82 126.77,1151.61 127.65,1150.35 128.53,1149.06 129.41,1147.73 130.29,1146.36 131.17,1144.97 132.05,1143.55 132.93,1142.09 133.81,1140.60 134.69,1139.08 135.57,1137.52 136.45,1135.91 137.33,1134.26 138.21,1132.55 139.09,1130.77 139.97,1128.93 140.85,1127.02 141.73,1125.02 142.61,1122.94 143.49,1120.77 144.37,1118.51 145.25,1116.14 146.13,1113.68 147.01,1111.11 147.89,1108.45 148.77,1105.69 149.65,1102.83 150.53,1099.89 151.41,1096.88 152.29,1093.80 153.17,1090.67 154.05,1087.50 154.93,1084.30 155.81,1081.11 156.69,1077.93 157.57,1074.78 158.45,1071.69 159.33,1068.67 160.21,1065.74 161.09,1062.93 161.98,1060.25 162.86,1057.70 163.74,1055.32 164.62,1053.10 165.50,1051.05 166.38,1049.19 167.26,1047.50 168.14,1045.99 169.02,1044.66 169.90,1043.50 170.78,1042.50 171.66,1041.65 172.54,1040.94 173.42,1040.36 174.30,1039.90 175.18,1039.53 176.06,1039.26 176.94,1039.06 177.82,1038.93 178.70,1038.86 179.58,1038.85 180.46,1038.88 181.34,1038.96 182.22,1039.08 183.10,1039.25 183.98,1039.46 184.86,1039.72 185.74,1040.03 186.62,1040.40 187.50,1040.82 188.38,1041.31 189.26,1041.87 190.14,1042.50 191.02,1043.21 191.90,1043.98 192.78,1044.83 193.66,1045.75 194.54,1046.74 195.42,1047.79 196.30,1048.90 197.18,1050.05 198.06,1051.24 198.94,1052.46 199.82,1053.70 200.70,1054.94 201.59,1056.19 202.47,1057.41 203.35,1058.62 204.23,1059.79 205.11,1060.91 205.99,1061.99 206.87,1063.01 207.75,1063.96 208.63,1064.86 209.51,1065.68 210.39,1066.44 211.27,1067.14 212.15,1067.78 213.03,1068.36 213.91,1068.89 214.79,1069.37 215.67,1069.83 216.55,1070.25 217.43,1070.65 218.31,1071.03 219.19,1071.41 220.07,1071.77 220.95,1072.13 221.83,1072.48 222.71,1072.82 223.59,1073.14 224.47,1073.43 225.35,1073.68 226.23,1073.88 227.11,1074.00 227.99,1074.03 228.87,1073.96 229.75,1073.75 230.63,1073.40 231.51,1072.89 232.39,1072.21 233.27,1071.34 234.15,1070.29 235.03,1069.05 235.91,1067.63 236.79,1066.04 237.67,1064.29 238.55,1062.39 239.43,1060.38 240.32,1058.27 241.20,1056.08 242.08,1053.85 242.96,1051.59 243.84,1049.33 244.72,1047.09 245.60,1044.88 246.48,1042.72 247.36,1040.62 248.24,1038.58 249.12,1036.62 250.00,1034.71 250.88,1032.87 251.76,1031.07 252.64,1029.32 253.52,1027.58 254.40,1025.86 255.28,1024.13 256.16,1022.37 257.04,1020.56 257.92,1018.68 258.80,1016.71 259.68,1014.63 260.56,1012.42 261.44,1010.07 262.32,1007.55 263.20,1004.85 264.08,1001.97 264.96,998.89 265.84,995.61 266.72,992.13 267.60,988.46 268.48,984.60 269.36,980.55 270.24,976.35 271.12,971.99 272.00,967.51 272.88,962.92 273.76,958.24 274.64,953.50 275.52,948.71 276.40,943.91 277.28,939.10 278.16,934.30 279.05,929.53 279.93,924.80 280.81,920.11 281.69,915.48 282.57,910.89 283.45,906.37 284.33,901.89 285.21,897.46 286.09,893.07 286.97,888.71 287.85,884.38 288.73,880.08 289.61,875.78 290.49,871.49 291.37,867.19 292.25,862.90 293.13,858.59 294.01,854.28 294.89,849.95 295.77,845.61 296.65,841.26 297.53,836.91 298.41,832.56 299.29,828.21 300.17,823.87 301.05,819.54 301.93,815.24 302.81,810.96 303.69,806.72 304.57,802.52 305.45,798.36 306.33,794.25 307.21,790.20 308.09,786.20 308.97,782.27 309.85,778.41 310.73,774.61 311.61,770.89 312.49,767.23 313.37,763.65 314.25,760.15 315.13,756.72 316.01,753.37 316.89,750.10 317.77,746.90 318.66,743.79 319.54,740.75 320.42,737.78 321.30,734.90 322.18,732.09 323.06,729.37 323.94,726.72 324.82,724.15 325.70,721.66 326.58,719.25 327.46,716.92 328.34,714.67 329.22,712.50 330.10,710.40 330.98,708.39 331.86,706.46 332.74,704.60 333.62,702.83 334.50,701.14 335.38,699.52 336.26,697.99 337.14,696.53 338.02,695.15 338.90,693.86 339.78,692.64 340.66,691.50 341.54,690.43 342.42,689.45 343.30,688.54 344.18,687.70 345.06,686.95 345.94,686.26 346.82,685.66 347.70,685.13 348.58,684.67 349.46,684.28 350.34,683.97 351.22,683.72 352.10,683.55 352.98,683.45 353.86,683.42 354.74,683.46 355.62,683.56 356.50,683.74 357.39,684.00 358.27,684.31 359.15,684.70 360.03,685.16 360.91,685.68 361.79,686.27 362.67,686.92 363.55,687.63 364.43,688.41 365.31,689.24 366.19,690.14 367.07,691.10 367.95,692.11 368.83,693.18 369.71,694.30 370.59,695.48 371.47,696.71 372.35,698.00 373.23,699.33 374.11,700.72 374.99,702.15 375.87,703.63 376.75,705.16 377.63,706.73 378.51,708.34 379.39,710.00 380.27,711.70 381.15,713.44 382.03,715.22 382.91,717.04 383.79,718.90 384.67,720.79 385.55,722.72 386.43,724.68 387.31,726.67 388.19,728.70 389.07,730.75 389.95,732.84 390.83,734.95 391.71,737.09 392.59,739.26 393.47,741.46 394.35,743.67 395.23,745.92 396.11,748.18 397.00,750.47 397.88,752.78 398.76,755.10 399.64,757.45 400.52,759.81 401.40,762.19 402.28,764.59 403.16,767.01 404.04,769.43 404.92,771.88 405.80,774.33 406.68,776.80 407.56,779.27 408.44,781.76 409.32,784.26 410.20,786.77 411.08,789.28 411.96,791.81 412.84,794.34 413.72,796.87 414.60,799.42 415.48,801.96 416.36,804.51 417.24,807.07 418.12,809.63 419.00,812.19 419.88,814.75 420.76,817.31 421.64,819.88 422.52,822.44 423.40,825.01 424.28,827.57 425.16,830.13 426.04,832.69 426.92,835.25 427.80,837.80 428.68,840.35 429.56,842.90 430.44,845.44 431.32,847.98 432.20,850.51 433.08,853.04 433.96,855.57 434.84,858.08 435.73,860.59 436.61,863.10 437.49,865.59 438.37,868.08 439.25,870.56 440.13,873.04 441.01,875.50 441.89,877.96 442.77,880.40 443.65,882.84 444.53,885.27 445.41,887.69 446.29,890.10 447.17,892.50 448.05,894.89 448.93,897.27 449.81,899.64 450.69,902.00 451.57,904.35 452.45,906.69 453.33,909.01 454.21,911.33 455.09,913.63 455.97,915.92 456.85,918.20 457.73,920.47 458.61,922.73 459.49,924.98 460.37,927.21 461.25,929.43 462.13,931.64 463.01,933.84 463.89,936.03 464.77,938.20 465.65,940.36 466.53,942.51 467.41,944.65 468.29,946.77 469.17,948.88 470.05,950.98 470.93,953.07 471.81,955.15 472.69,957.21 473.57,959.26 474.45,961.30 475.34,963.32 476.22,965.33 477.10,967.33 477.98,969.32 478.86,971.29 479.74,973.25 480.62,975.20 481.50,977.14 482.38,979.06 483.26,980.97 484.14,982.87 485.02,984.75 485.90,986.62 486.78,988.48 487.66,990.32 488.54,992.15 489.42,993.97 490.30,995.77 491.18,997.56 492.06,999.34 492.94,1001.10 493.82,1002.85 494.70,1004.58 495.58,1006.30 496.46,1008.00 497.34,1009.69 498.22,1011.36 499.10,1013.02 499.98,1014.67 500.86,1016.29 501.74,1017.91 502.62,1019.50 503.50,1021.08 504.38,1022.65 505.26,1024.20 506.14,1025.73 507.02,1027.24 507.90,1028.74 508.78,1030.22 509.66,1031.69 510.54,1033.13 511.42,1034.56 512.30,1035.98 513.18,1037.37 514.07,1038.75 514.95,1040.11 515.83,1041.45 516.71,1042.77 517.59,1044.08 518.47,1045.37 519.35,1046.64 520.23,1047.89 521.11,1049.12 521.99,1050.34 522.87,1051.54 523.75,1052.72 524.63,1053.88 525.51,1055.03 526.39,1056.16 527.27,1057.27 528.15,1058.36 529.03,1059.44 529.91,1060.50 530.79,1061.54 531.67,1062.57 532.55,1063.58 533.43,1064.58 534.31,1065.56 535.19,1066.52 536.07,1067.47 536.95,1068.41 537.83,1069.33 538.71,1070.24 539.59,1071.13 540.47,1072.01 541.35,1072.88 542.23,1073.73 543.11,1074.58 543.99,1075.41 544.87,1076.23 545.75,1077.04 546.63,1077.83 547.51,1078.62 548.39,1079.39 549.27,1080.16 550.15,1080.92 551.03,1081.66 551.91,1082.40 552.80,1083.13 553.68,1083.85 554.56,1084.56 555.44,1085.26 556.32,1085.96 557.20,1086.65 558.08,1087.33 558.96,1088.00 559.84,1088.67 560.72,1089.32 561.60,1089.97 562.48,1090.62 563.36,1091.26 564.24,1091.89 565.12,1092.51 566.00,1093.13 566.88,1093.74 567.76,1094.35 568.64,1094.95 569.52,1095.54 570.40,1096.13 571.28,1096.71 572.16,1097.28 573.04,1097.85 573.92,1098.41 574.80,1098.97 575.68,1099.52 576.56,1100.06 577.44,1100.60 578.32,1101.13 579.20,1101.66 580.08,1102.18 580.96,1102.69 581.84,1103.20 582.72,1103.71 583.60,1104.20 584.48,1104.69 585.36,1105.18 586.24,1105.66 587.12,1106.14 588.00,1106.61 588.88,1107.07 589.76,1107.53 590.64,1107.98 591.52,1108.43 592.41,1108.88 593.29,1109.31 594.17,1109.75 595.05,1110.18 595.93,1110.61 596.81,1111.03 597.69,1111.44 598.57,1111.86 599.45,1112.27 600.33,1112.67 601.21,1113.08 602.09,1113.48 602.97,1113.87 603.85,1114.26 604.73,1114.66 605.61,1115.04 606.49,1115.43 607.37,1115.81 608.25,1116.19 609.13,1116.57 610.01,1116.95 610.89,1117.32 611.77,1117.69 612.65,1118.06 613.53,1118.43 614.41,1118.80 615.29,1119.17 616.17,1119.53 617.05,1119.90 617.93,1120.26 618.81,1120.63 619.69,1120.99 620.57,1121.35 621.45,1121.71 622.33,1122.07 623.21,1122.43 624.09,1122.79 624.97,1123.15 625.85,1123.50 626.73,1123.86 627.61,1124.22 628.49,1124.57 629.37,1124.93 630.25,1125.28 631.14,1125.64 632.02,1125.99 632.90,1126.34 633.78,1126.69 634.66,1127.04 635.54,1127.39 636.42,1127.74 637.30,1128.09 638.18,1128.43 639.06,1128.78 639.94,1129.12 640.82,1129.47 641.70,1129.81 642.58,1130.15 643.46,1130.49 644.34,1130.82 645.22,1131.16 646.10,1131.49 646.98,1131.83 647.86,1132.16 648.74,1132.48 649.62,1132.81 650.50,1133.13 651.38,1133.46 652.26,1133.78 653.14,1134.09 654.02,1134.41 654.90,1134.72 655.78,1135.03 656.66,1135.34 657.54,1135.64 658.42,1135.94 659.30,1136.24 660.18,1136.54 661.06,1136.83 661.94,1137.12 662.82,1137.41 663.70,1137.70 664.58,1137.98 665.46,1138.26 666.34,1138.53 667.22,1138.81 668.10,1139.07 668.98,1139.34 669.86,1139.60 670.75,1139.86 671.63,1140.12 672.51,1140.37 673.39,1140.62 674.27,1140.87 675.15,1141.12 676.03,1141.36 676.91,1141.59 677.79,1141.83 678.67,1142.06 679.55,1142.29 680.43,1142.51 681.31,1142.73 682.19,1142.95 683.07,1143.17 683.95,1143.38 684.83,1143.59 685.71,1143.79 686.59,1144.00 687.47,1144.20 688.35,1144.40 689.23,1144.59 690.11,1144.78 690.99,1144.97 691.87,1145.16 692.75,1145.34 693.63,1145.52 694.51,1145.70 695.39,1145.88 696.27,1146.05 697.15,1146.22 698.03,1146.39 698.91,1146.56 699.79,1146.72 700.67,1146.88 701.55,1147.04 702.43,1147.20 703.31,1147.35 704.19,1147.50 705.07,1147.65 705.95,1147.80 706.83,1147.95 707.71,1148.09 708.59,1148.23 709.48,1148.37 710.36,1148.51 711.24,1148.65 712.12,1148.78 713.00,1148.91 713.88,1149.04 714.76,1149.17 715.64,1149.30 716.52,1149.43 717.40,1149.55 718.28,1149.67 719.16,1149.79 720.04,1149.91 720.92,1150.03 721.80,1150.14 722.68,1150.26 723.56,1150.37 724.44,1150.48 725.32,1150.59 726.20,1150.70 727.08,1150.81 727.96,1150.91 728.84,1151.02 729.72,1151.12 730.60,1151.22 731.48,1151.32 732.36,1151.42 733.24,1151.52 734.12,1151.61 735.00,1151.71 735.88,1151.80 736.76,1151.89 737.64,1151.98 738.52,1152.07 739.40,1152.16 740.28,1152.25 741.16,1152.34 742.04,1152.42 742.92,1152.51 743.80,1152.59 744.68,1152.67 745.56,1152.75 746.44,1152.83 747.32,1152.91 748.21,1152.99" fill="none" stroke="#ffff00" stroke-width="4.0" stroke-linejoin="round"/>
<polyline points="103.00,1161.80 103.88,1161.69 104.76,1161.56 105.64,1161.39 106.52,1161.17 107.40,1160.91 108.28,1160.60 109.16,1160.23 110.04,1159.80 110.92,1159.31 111.80,1158.75 112.68,1158.14 113.56,1157.46 114.44,1156.73 115.32,1155.94 116.20,1155.09 117.08,1154.19 117.96,1153.24 118.84,1152.23 119.72,1151.18 120.60,1150.09 121.48,1148.94 122.36,1147.74 123.25,1146.50 124.13,1145.19 125.01,1143.83 125.89,1142.41 126.77,1140.92 127.65,1139.36 128.53,1137.74 129.41,1136.04 130.29,1134.28 131.17,1132.45 132.05,1130.55 132.93,1128.59 133.81,1126.58 134.69,1124.53 135.57,1122.43 136.45,1120.32 137.33,1118.18 138.21,1116.04 139.09,1113.91 139.97,1111.80 140.85,1109.71 141.73,1107.65 142.61,1105.64 143.49,1103.67 144.37,1101.74 145.25,1099.87 146.13,1098.05 147.01,1096.27 147.89,1094.55 148.77,1092.86 149.65,1091.22 150.53,1089.61 151.41,1088.04 152.29,1086.50 153.17,1085.00 154.05,1083.53 154.93,1082.09 155.81,1080.70 156.69,1079.35 157.57,1078.06 158.45,1076.82 159.33,1075.64 160.21,1074.53 161.09,1073.49 161.98,1072.54 162.86,1071.66 163.74,1070.87 164.62,1070.17 165.50,1069.56 166.38,1069.03 167.26,1068.58 168.14,1068.21 169.02,1067.92 169.90,1067.69 170.78,1067.53 171.66,1067.43 172.54,1067.37 173.42,1067.36 174.30,1067.40 175.18,1067.46 176.06,1067.56 176.94,1067.68 177.82,1067.82 178.70,1067.99 179.58,1068.18 180.46,1068.38 181.34,1068.61 182.22,1068.86 183.10,1069.13 183.98,1069.42 184.86,1069.73 185.74,1070.07 186.62,1070.44 187.50,1070.84 188.38,1071.26 189.26,1071.72 190.14,1072.22 191.02,1072.74 191.90,1073.30 192.78,1073.89 193.66,1074.52 194.54,1075.18 195.42,1075.87 196.30,1076.58 197.18,1077.32 198.06,1078.08 198.94,1078.87 199.82,1079.66 200.70,1080.46 201.59,1081.27 202.47,1082.08 203.35,1082.88 204.23,1083.67 205.11,1084.44 205.99,1085.18 206.87,1085.90 207.75,1086.58 208.63,1087.22 209.51,1087.81 210.39,1088.36 211.27,1088.87 212.15,1089.32 213.03,1089.72 213.91,1090.07 214.79,1090.38 215.67,1090.64 216.55,1090.85 217.43,1091.03 218.31,1091.17 219.19,1091.28 220.07,1091.36 220.95,1091.41 221.83,1091.43 222.71,1091.43 223.59,1091.39 224.47,1091.32 225.35,1091.21 226.23,1091.05 227.11,1090.82 227.99,1090.51 228.87,1090.12 229.75,1089.62 230.63,1089.00 231.51,1088.24 232.39,1087.34 233.27,1086.27 234.15,1085.02 235.03,1083.60 235.91,1081.98 236.79,1080.18 237.67,1078.20 238.55,1076.05 239.43,1073.74 240.32,1071.29 241.20,1068.72 242.08,1066.05 242.96,1063.31 243.84,1060.54 244.72,1057.75 245.60,1054.97 246.48,1052.23 247.36,1049.55 248.24,1046.94 249.12,1044.41 250.00,1041.97 250.88,1039.62 251.76,1037.34 252.64,1035.12 253.52,1032.94 254.40,1030.77 255.28,1028.57 256.16,1026.32 257.04,1023.97 257.92,1021.49 258.80,1018.85 259.68,1016.02 260.56,1012.96 261.44,1009.67 262.32,1006.12 263.20,1002.31 264.08,998.24 264.96,993.91 265.84,989.35 266.72,984.57 267.60,979.60 268.48,974.46 269.36,969.20 270.24,963.85 271.12,958.44 272.00,953.02 272.88,947.61 273.76,942.24 274.64,936.95 275.52,931.74 276.40,926.64 277.28,921.65 278.16,916.79 279.05,912.04 279.93,907.41 280.81,902.88 281.69,898.44 282.57,894.07 283.45,889.76 284.33,885.49 285.21,881.24 286.09,877.00 286.97,872.75 287.85,868.47 288.73,864.17 289.61,859.83 290.49,855.46 291.37,851.04 292.25,846.59 293.13,842.10 294.01,837.59 294.89,833.06 295.77,828.52 296.65,823.98 297.53,819.46 298.41,814.96 299.29,810.50 300.17,806.08 301.05,801.72 301.93,797.42 302.81,793.18 303.69,789.02 304.57,784.94 305.45,780.93 306.33,777.01 307.21,773.17 308.09,769.41 308.97,765.74 309.85,762.15 310.73,758.64 311.61,755.21 312.49,751.86 313.37,748.60 314.25,745.41 315.13,742.30 316.01,739.27 316.89,736.31 317.77,733.44 318.66,730.64 319.54,727.92 320.42,725.28 321.30,722.72 322.18,720.24 323.06,717.84 323.94,715.52 324.82,713.28 325.70,711.13 326.58,709.05 327.46,707.06 328.34,705.15 329.22,703.33 330.10,701.59 330.98,699.93 331.86,698.35 332.74,696.86 333.62,695.44 334.50,694.11 335.38,692.87 336.26,691.70 337.14,690.62 338.02,689.62 338.90,688.70 339.78,687.85 340.66,687.09 341.54,686.41 342.42,685.80 343.30,685.28 344.18,684.82 345.06,684.45 345.94,684.15 346.82,683.93 347.70,683.78 348.58,683.70 349.46,683.70 350.34,683.77 351.22,683.91 352.10,684.13 352.98,684.42 353.86,684.78 354.74,685.21 355.62,685.71 356.50,686.28 357.39,686.92 358.27,687.63 359.15,688.39 360.03,689.23 360.91,690.12 361.79,691.08 362.67,692.10 363.55,693.17 364.43,694.31 365.31,695.50 366.19,696.75 367.07,698.05 367.95,699.40 368.83,700.81 369.71,702.27 370.59,703.78 371.47,705.33 372.35,706.93 373.23,708.58 374.11,710.28 374.99,712.01 375.87,713.79 376.75,715.62 377.63,717.48 378.51,719.38 379.39,721.31 380.27,723.29 381.15,725.30 382.03,727.34 382.91,729.42 383.79,731.53 384.67,733.67 385.55,735.84 386.43,738.04 387.31,740.26 388.19,742.52 389.07,744.79 389.95,747.10 390.83,749.42 391.71,751.77 392.59,754.14 393.47,756.53 394.35,758.95 395.23,761.37 396.11,763.82 397.00,766.29 397.88,768.77 398.76,771.26 399.64,773.77 400.52,776.29 401.40,778.82 402.28,781.37 403.16,783.93 404.04,786.49 404.92,789.07 405.80,791.65 406.68,794.24 407.56,796.84 408.44,799.45 409.32,802.06 410.20,804.67 411.08,807.29 411.96,809.91 412.84,812.53 413.72,815.16 414.60,817.79 415.48,820.42 416.36,823.04 417.24,825.67 418.12,828.30 419.00,830.93 419.88,833.55 420.76,836.17 421.64,838.79 422.52,841.41 423.40,844.02 424.28,846.62 425.16,849.22 426.04,851.82 426.92,854.41 427.80,856.99 428.68,859.57 429.56,862.14 430.44,864.70 431.32,867.26 432.20,869.81 433.08,872.34 433.96,874.87 434.84,877.40 435.73,879.91 436.61,882.41 437.49,884.90 438.37,887.38 439.25,889.85 440.13,892.31 441.01,894.76 441.89,897.20 442.77,899.63 443.65,902.04 444.53,904.44 445.41,906.84 446.29,909.22 447.17,911.58 448.05,913.94 448.93,916.28 449.81,918.61 450.69,920.92 451.57,923.23 452.45,925.52 453.33,927.79 454.21,930.06 455.09,932.31 455.97,934.54 456.85,936.77 457.73,938.98 458.61,941.17 459.49,943.36 460.37,945.53 461.25,947.68 462.13,949.82 463.01,951.95 463.89,954.06 464.77,956.16 465.65,958.25 466.53,960.32 467.41,962.38 468.29,964.42 469.17,966.45 470.05,968.47 470.93,970.47 471.81,972.46 472.69,974.44 473.57,976.40 474.45,978.34 475.34,980.28 476.22,982.20 477.10,984.10 477.98,986.00 478.86,987.87 479.74,989.74 480.62,991.59 481.50,993.43 482.38,995.25 483.26,997.06 484.14,998.86 485.02,1000.64 485.90,1002.41 486.78,1004.16 487.66,1005.90 488.54,1007.63 489.42,1009.35 490.30,1011.04 491.18,1012.73 492.06,1014.40 492.94,1016.06 493.82,1017.70 494.70,1019.33 495.58,1020.95 496.46,1022.55 497.34,1024.13 498.22,1025.70 499.10,1027.26 499.98,1028.80 500.86,1030.33 501.74,1031.85 502.62,1033.34 503.50,1034.83 504.38,1036.29 505.26,1037.75 506.14,1039.18 507.02,1040.61 507.90,1042.01 508.78,1043.40 509.66,1044.78 510.54,1046.14 511.42,1047.48 512.30,1048.81 513.18,1050.12 514.07,1051.41 514.95,1052.69 515.83,1053.96 516.71,1055.20 517.59,1056.43 518.47,1057.64 519.35,1058.84 520.23,1060.02 521.11,1061.19 521.99,1062.33 522.87,1063.46 523.75,1064.58 524.63,1065.67 525.51,1066.76 526.39,1067.82 527.27,1068.87 528.15,1069.90 529.03,1070.92 529.91,1071.92 530.79,1072.90 531.67,1073.87 532.55,1074.82 533.43,1075.76 534.31,1076.68 535.19,1077.59 536.07,1078.48 536.95,1079.36 537.83,1080.22 538.71,1081.07 539.59,1081.91 540.47,1082.73 541.35,1083.53 542.23,1084.33 543.11,1085.10 543.99,1085.87 544.87,1086.63 545.75,1087.37 546.63,1088.10 547.51,1088.81 548.39,1089.52 549.27,1090.21 550.15,1090.90 551.03,1091.57 551.91,1092.23 552.80,1092.88 553.68,1093.53 554.56,1094.16 555.44,1094.78 556.32,1095.39 557.20,1096.00 558.08,1096.59 558.96,1097.18 559.84,1097.76 560.72,1098.33 561.60,1098.90 562.48,1099.45 563.36,1100.00 564.24,1100.54 565.12,1101.08 566.00,1101.61 566.88,1102.13 567.76,1102.65 568.64,1103.16 569.52,1103.67 570.40,1104.17 571.28,1104.66 572.16,1105.15 573.04,1105.64 573.92,1106.12 574.80,1106.60 575.68,1107.07 576.56,1107.54 577.44,1108.01 578.32,1108.47 579.20,1108.93 580.08,1109.38 580.96,1109.83 581.84,1110.28 582.72,1110.72 583.60,1111.16 584.48,1111.60 585.36,1112.04 586.24,1112.47 587.12,1112.90 588.00,1113.33 588.88,1113.76 589.76,1114.18 590.64,1114.60 591.52,1115.02 592.41,1115.44 593.29,1115.85 594.17,1116.27 595.05,1116.68 595.93,1117.09 596.81,1117.49 597.69,1117.90 598.57,1118.30 599.45,1118.70 600.33,1119.10 601.21,1119.50 602.09,1119.90 602.97,1120.29 603.85,1120.68 604.73,1121.07 605.61,1121.46 606.49,1121.85 607.37,1122.23 608.25,1122.62 609.13,1123.00 610.01,1123.38 610.89,1123.75 611.77,1124.13 612.65,1124.50 613.53,1124.87 614.41,1125.24 615.29,1125.61 616.17,1125.97 617.05,1126.33 617.93,1126.69 618.81,1127.05 619.69,1127.41 620.57,1127.76 621.45,1128.11 622.33,1128.46 623.21,1128.80 624.09,1129.14 624.97,1129.48 625.85,1129.82 626.73,1130.15 627.61,1130.48 628.49,1130.81 629.37,1131.14 630.25,1131.46 631.14,1131.78 632.02,1132.09 632.90,1132.41 633.78,1132.72 634.66,1133.02 635.54,1133.32 636.42,1133.62 637.30,1133.92 638.18,1134.21 639.06,1134.50 639.94,1134.79 640.82,1135.08 641.70,1135.36 642.58,1135.63 643.46,1135.91 644.34,1136.18 645.22,1136.44 646.10,1136.71 646.98,1136.97 647.86,1137.22 648.74,1137.48 649.62,1137.73 650.50,1137.97 651.38,1138.22 652.26,1138.46 653.14,1138.70 654.02,1138.93 654.90,1139.16 655.78,1139.39 656.66,1139.62 657.54,1139.84 658.42,1140.06 659.30,1140.28 660.18,1140.50 661.06,1140.71 661.94,1140.92 662.82,1141.13 663.70,1141.33 664.58,1141.53 665.46,1141.73 666.34,1141.93 667.22,1142.13 668.10,1142.32 668.98,1142.51 669.86,1142.70 670.75,1142.89 671.63,1143.08 672.51,1143.26 673.39,1143.44 674.27,1143.62 675.15,1143.80 676.03,1143.98 676.91,1144.15 677.79,1144.33 678.67,1144.50 679.55,1144.67 680.43,1144.84 681.31,1145.01 682.19,1145.18 683.07,1145.34 683.95,1145.51 684.83,1145.67 685.71,1145.83 686.59,1145.99 687.47,1146.15 688.35,1146.31 689.23,1146.47 690.11,1146.63 690.99,1146.78 691.87,1146.94 692.75,1147.09 693.63,1147.24 694.51,1147.40 695.39,1147.55 696.27,1147.70 697.15,1147.85 698.03,1147.99 698.91,1148.14 699.79,1148.29 700.67,1148.43 701.55,1148.58 702.43,1148.72 703.31,1148.86 704.19,1149.01 705.07,1149.15 705.95,1149.29 706.83,1149.42 707.71,1149.56 708.59,1149.70 709.48,1149.83 710.36,1149.97 711.24,1150.10 712.12,1150.24 713.00,1150.37 713.88,1150.50 714.76,1150.63 715.64,1150.75 716.52,1150.88 717.40,1151.01 718.28,1151.13 719.16,1151.26 720.04,1151.38 720.92,1151.50 721.80,1151.62 722.68,1151.74 723.56,1151.86 724.44,1151.97 725.32,1152.09 726.20,1152.20 727.08,1152.31 727.96,1152.42 728.84,1152.53 729.72,1152.64 730.60,1152.75 731.48,1152.85 732.36,1152.96 733.24,1153.06 734.12,1153.16 735.00,1153.26 735.88,1153.36 736.76,1153.46 737.64,1153.55 738.52,1153.65 739.40,1153.74 740.28,1153.83 741.16,1153.92 742.04,1154.01 742.92,1154.10 743.80,1154.18 744.68,1154.27 745.56,1154.35 746.44,1154.43 747.32,1154.51 748.21,1154.59" fill="none" stroke="#808000" stroke-width="4.0" stroke-linejoin="round"/>
</g>
<line x1="570.3" y1="144.90" x2="633.5" y2="144.90" stroke="#000000" stroke-width="3.2" stroke-linecap="round"/>
<text transform="translate(639.7,152.70) scale(1,1.07)" font-size="23.3">IDSTR</text>
<line x1="570.3" y1="174.40" x2="633.5" y2="174.40" stroke="#ff0000" stroke-width="3.2" stroke-linecap="round"/>
<text transform="translate(639.7,182.20) scale(1,1.07)" font-size="23.3">IDST1</text>
<line x1="570.3" y1="203.90" x2="633.5" y2="203.90" stroke="#00ff00" stroke-width="3.2" stroke-linecap="round"/>
<text transform="translate(639.7,211.70) scale(1,1.07)" font-size="23.3">IDST2</text>
<line x1="570.3" y1="233.40" x2="633.5" y2="233.40" stroke="#0000ff" stroke-width="3.2" stroke-linecap="round"/>
<text transform="translate(639.7,241.20) scale(1,1.07)" font-size="23.3">IDST3</text>
<line x1="570.3" y1="262.90" x2="633.5" y2="262.90" stroke="#00ffff" stroke-width="3.2" stroke-linecap="round"/>
<text transform="translate(639.7,270.70) scale(1,1.07)" font-size="23.3">IDST4</text>
<line x1="570.3" y1="292.40" x2="633.5" y2="292.40" stroke="#ff00ff" stroke-width="3.2" stroke-linecap="round"/>
<text transform="translate(639.7,300.20) scale(1,1.07)" font-size="23.3">IDST5</text>
<line x1="570.3" y1="321.90" x2="633.5" y2="321.90" stroke="#ffff00" stroke-width="3.2" stroke-linecap="round"/>
<text transform="translate(639.7,329.70) scale(1,1.07)" font-size="23.3">IDST6</text>
<line x1="570.3" y1="351.40" x2="633.5" y2="351.40" stroke="#808000" stroke-width="3.2" stroke-linecap="round"/>
<text transform="translate(639.7,359.20) scale(1,1.07)" font-size="23.3">IDST7</text>
<line x1="585.4" y1="806.60" x2="649" y2="806.60" stroke="#000000" stroke-width="3.2" stroke-linecap="round"/>
<text transform="translate(655.2,815.40) scale(1,1.07)" font-size="23.6">IDSTR</text>
<line x1="585.4" y1="836.34" x2="649" y2="836.34" stroke="#ff0000" stroke-width="3.2" stroke-linecap="round"/>
<text transform="translate(655.2,845.14) scale(1,1.07)" font-size="23.6">IDST1</text>
<line x1="585.4" y1="866.08" x2="649" y2="866.08" stroke="#00ff00" stroke-width="3.2" stroke-linecap="round"/>
<text transform="translate(655.2,874.88) scale(1,1.07)" font-size="23.6">IDST2</text>
<line x1="585.4" y1="895.82" x2="649" y2="895.82" stroke="#0000ff" stroke-width="3.2" stroke-linecap="round"/>
<text transform="translate(655.2,904.62) scale(1,1.07)" font-size="23.6">IDST3</text>
<line x1="585.4" y1="925.56" x2="649" y2="925.56" stroke="#00ffff" stroke-width="3.2" stroke-linecap="round"/>
<text transform="translate(655.2,934.36) scale(1,1.07)" font-size="23.6">IDST4</text>
<line x1="585.4" y1="955.30" x2="649" y2="955.30" stroke="#ff00ff" stroke-width="3.2" stroke-linecap="round"/>
<text transform="translate(655.2,964.10) scale(1,1.07)" font-size="23.6">IDST5</text>
<line x1="585.4" y1="985.04" x2="649" y2="985.04" stroke="#ffff00" stroke-width="3.2" stroke-linecap="round"/>
<text transform="translate(655.2,993.84) scale(1,1.07)" font-size="23.6">IDST6</text>
<line x1="585.4" y1="1014.78" x2="649" y2="1014.78" stroke="#808000" stroke-width="3.2" stroke-linecap="round"/>
<text transform="translate(655.2,1023.58) scale(1,1.07)" font-size="23.6">IDST7</text>
<text x="100" y="35" font-size="26">Gaseous Phase</text>
<text x="109" y="667.3" font-size="26">Solvent=Chloroform</text>
<text x="313.5" y="591" font-size="28.2">Wavelength (nm)</text>
<text x="321.5" y="1248.6" font-size="28.5">Wavelength (nm)</text>
<text x="577.5" y="604.4" font-size="26.6">(A)</text>
<text x="590.5" y="1246.2" font-size="26.9">(B)</text>
<text transform="translate(33.8,500) rotate(-90)" font-size="28.35">Molar Absorption Coefficient (M<tspan dy="-15.7" dx="-2.25" font-size="16.7">-1</tspan><tspan dy="15.7" dx="0">cm</tspan><tspan dy="-15.7" dx="-0.4" font-size="16.7">-1</tspan><tspan dy="15.7" dx="0.2">)</tspan></text>
<text transform="translate(31.2,1163.5) rotate(-90)" font-size="28.6">Molar Absorption Coefficient (M<tspan dy="-16.0" dx="-2.3" font-size="17.0">-1</tspan><tspan dy="16.0" dx="5.1">cm</tspan><tspan dy="-16.0" dx="0.9" font-size="17.0">-1</tspan><tspan dy="16.0" dx="0">)</tspan></text>
<polygon points="399.2,47.699999999999996 448,47.699999999999996 448,43.05 457.2,52.3 448,61.55 448,56.9 399.2,56.9" fill="#262626"/>
<polygon points="395.3,681.35 447.1,681.35 447.1,676.85 456.4,686.1 447.1,695.35 447.1,690.85 395.3,690.85" fill="#262626"/>
<clipPath id="clipA"><ellipse cx="589.7" cy="61.7" rx="115.3" ry="46.3"/></clipPath>
<g clip-path="url(#clipA)">
<polyline points="470.00,112.69 471.29,109.66 472.57,106.69 473.86,103.78 475.14,100.92 476.43,98.13 477.71,95.39 479.00,92.71 480.29,90.10 481.57,87.54 482.86,85.04 484.14,82.59 485.43,80.21 486.71,77.89 488.00,75.62 489.29,73.42 490.57,71.27 491.86,69.19 493.14,67.16 494.43,65.19 495.71,63.28 497.00,61.43 498.29,59.63 499.57,57.90 500.86,56.23 502.14,54.61 503.43,53.06 504.71,51.56 506.00,50.12 507.29,48.74 508.57,47.42 509.86,46.16 511.14,44.96 512.43,43.81 513.71,42.73 515.00,41.70 516.29,40.74 517.57,39.83 518.86,38.98 520.14,38.19 521.43,37.46 522.71,36.79 524.00,36.18 525.29,35.63 526.57,35.13 527.86,34.70 529.14,34.32 530.43,34.00 531.71,33.74 533.00,33.54 534.29,33.40 535.57,33.32 536.86,33.30 538.14,33.33 539.43,33.41 540.71,33.54 542.00,33.71 543.29,33.94 544.57,34.21 545.86,34.53 547.14,34.90 548.43,35.32 549.71,35.79 551.00,36.30 552.29,36.87 553.57,37.48 554.86,38.14 556.14,38.85 557.43,39.61 558.71,40.42 560.00,41.28 561.29,42.18 562.57,43.14 563.86,44.14 565.14,45.19 566.43,46.29 567.71,47.43 569.00,48.63 570.29,49.87 571.57,51.17 572.86,52.51 574.14,53.90 575.43,55.34 576.71,56.83 578.00,58.36 579.29,59.95 580.57,61.58 581.86,63.26 583.14,64.99 584.43,66.77 585.71,68.60 587.00,70.48 588.29,72.40 589.57,74.38 590.86,76.40 592.14,78.47 593.43,80.59 594.71,82.76 596.00,84.97 597.29,87.24 598.57,89.55 599.86,91.91 601.14,94.32 602.43,96.78 603.71,99.29 605.00,101.85 606.29,104.45 607.57,107.10 608.86,109.81 610.14,112.56 611.43,115.36 612.71,118.20 614.00,121.10 615.29,124.05 616.57,127.04 617.86,130.08 619.14,133.17 620.43,136.31 621.71,139.50 623.00,142.74" fill="none" stroke="#000000" stroke-width="2.2" stroke-linejoin="round"/>
<polyline points="488.00,123.54 489.38,120.33 490.75,117.18 492.13,114.09 493.50,111.06 494.88,108.09 496.25,105.17 497.63,102.31 499.01,99.51 500.38,96.76 501.76,94.08 503.13,91.45 504.51,88.88 505.88,86.37 507.26,83.91 508.63,81.52 510.01,79.18 511.39,76.90 512.76,74.67 514.14,72.51 515.51,70.40 516.89,68.35 518.26,66.35 519.64,64.42 521.02,62.54 522.39,60.72 523.77,58.96 525.14,57.26 526.52,55.61 527.89,54.03 529.27,52.50 530.64,51.02 532.02,49.61 533.40,48.25 534.77,46.95 536.15,45.71 537.52,44.53 538.90,43.40 540.27,42.34 541.65,41.33 543.03,40.37 544.40,39.48 545.78,38.64 547.15,37.86 548.53,37.14 549.90,36.48 551.28,35.87 552.65,35.33 554.03,34.84 555.41,34.41 556.78,34.03 558.16,33.72 559.53,33.46 560.91,33.26 562.28,33.11 563.66,33.03 565.04,33.00 566.41,33.03 567.79,33.11 569.16,33.24 570.54,33.42 571.91,33.65 573.29,33.94 574.66,34.27 576.04,34.66 577.42,35.10 578.79,35.59 580.17,36.13 581.54,36.73 582.92,37.37 584.29,38.07 585.67,38.82 587.05,39.62 588.42,40.47 589.80,41.37 591.17,42.33 592.55,43.33 593.92,44.39 595.30,45.50 596.67,46.66 598.05,47.87 599.43,49.14 600.80,50.45 602.18,51.82 603.55,53.24 604.93,54.71 606.30,56.23 607.68,57.80 609.06,59.43 610.43,61.10 611.81,62.83 613.18,64.61 614.56,66.44 615.93,68.32 617.31,70.26 618.68,72.24 620.06,74.28 621.44,76.37 622.81,78.51 624.19,80.70 625.56,82.94 626.94,85.24 628.31,87.58 629.69,89.98 631.07,92.43 632.44,94.93 633.82,97.48 635.19,100.09 636.57,102.74 637.94,105.45 639.32,108.21 640.69,111.02 642.07,113.88 643.45,116.79 644.82,119.76 646.20,122.77 647.57,125.84 648.95,128.96 650.32,132.13 651.70,135.35" fill="none" stroke="#ff0000" stroke-width="2.2" stroke-linejoin="round"/>
<polyline points="517.70,132.52 519.13,129.22 520.57,125.97 522.00,122.77 523.43,119.64 524.87,116.55 526.30,113.53 527.74,110.56 529.17,107.64 530.60,104.78 532.04,101.98 533.47,99.23 534.90,96.54 536.34,93.90 537.77,91.32 539.20,88.80 540.64,86.33 542.07,83.92 543.51,81.56 544.94,79.26 546.37,77.02 547.81,74.83 549.24,72.70 550.67,70.62 552.11,68.60 553.54,66.63 554.97,64.72 556.41,62.87 557.84,61.07 559.27,59.33 560.71,57.64 562.14,56.01 563.58,54.43 565.01,52.91 566.44,51.45 567.88,50.04 569.31,48.69 570.74,47.40 572.18,46.16 573.61,44.97 575.04,43.84 576.48,42.77 577.91,41.75 579.35,40.79 580.78,39.89 582.21,39.04 583.65,38.25 585.08,37.51 586.51,36.83 587.95,36.20 589.38,35.63 590.81,35.12 592.25,34.66 593.68,34.26 595.12,33.91 596.55,33.62 597.98,33.38 599.42,33.20 600.85,33.08 602.28,33.01 603.72,33.00 605.15,33.04 606.58,33.13 608.02,33.27 609.45,33.45 610.88,33.69 612.32,33.97 613.75,34.31 615.19,34.69 616.62,35.13 618.05,35.61 619.49,36.14 620.92,36.72 622.35,37.35 623.79,38.03 625.22,38.76 626.65,39.53 628.09,40.36 629.52,41.24 630.96,42.16 632.39,43.14 633.82,44.16 635.26,45.23 636.69,46.36 638.12,47.53 639.56,48.75 640.99,50.02 642.42,51.34 643.86,52.71 645.29,54.12 646.73,55.59 648.16,57.11 649.59,58.67 651.03,60.29 652.46,61.95 653.89,63.66 655.33,65.43 656.76,67.24 658.19,69.10 659.63,71.01 661.06,72.97 662.49,74.98 663.93,77.03 665.36,79.14 666.80,81.30 668.23,83.50 669.66,85.76 671.10,88.06 672.53,90.42 673.96,92.82 675.40,95.27 676.83,97.77 678.26,100.32 679.70,102.92 681.13,105.57 682.57,108.27 684.00,111.02 685.43,113.81 686.87,116.66 688.30,119.55" fill="none" stroke="#00ff00" stroke-width="2.2" stroke-linejoin="round"/>
<polyline points="535.70,136.36 537.14,133.11 538.57,129.91 540.01,126.77 541.45,123.67 542.88,120.63 544.32,117.64 545.76,114.71 547.20,111.82 548.63,108.99 550.07,106.20 551.51,103.47 552.94,100.79 554.38,98.17 555.82,95.59 557.25,93.07 558.69,90.59 560.13,88.17 561.57,85.80 563.00,83.49 564.44,81.22 565.88,79.01 567.31,76.85 568.75,74.74 570.19,72.68 571.62,70.67 573.06,68.71 574.50,66.81 575.94,64.96 577.37,63.16 578.81,61.41 580.25,59.71 581.68,58.07 583.12,56.47 584.56,54.93 585.99,53.44 587.43,52.00 588.87,50.62 590.31,49.28 591.74,48.00 593.18,46.77 594.62,45.59 596.05,44.46 597.49,43.38 598.93,42.36 600.36,41.38 601.80,40.46 603.24,39.59 604.67,38.77 606.11,38.01 607.55,37.29 608.99,36.63 610.42,36.02 611.86,35.46 613.30,34.95 614.73,34.49 616.17,34.09 617.61,33.73 619.04,33.43 620.48,33.18 621.92,32.99 623.36,32.84 624.79,32.75 626.23,32.70 627.67,32.71 629.10,32.77 630.54,32.87 631.98,33.02 633.41,33.22 634.85,33.47 636.29,33.77 637.73,34.11 639.16,34.50 640.60,34.94 642.04,35.43 643.47,35.96 644.91,36.55 646.35,37.18 647.78,37.86 649.22,38.58 650.66,39.36 652.09,40.18 653.53,41.05 654.97,41.97 656.41,42.93 657.84,43.95 659.28,45.01 660.72,46.12 662.15,47.28 663.59,48.48 665.03,49.74 666.46,51.04 667.90,52.39 669.34,53.79 670.78,55.23 672.21,56.72 673.65,58.26 675.09,59.85 676.52,61.49 677.96,63.17 679.40,64.91 680.83,66.69 682.27,68.52 683.71,70.39 685.15,72.32 686.58,74.29 688.02,76.31 689.46,78.38 690.89,80.49 692.33,82.65 693.77,84.87 695.20,87.13 696.64,89.43 698.08,91.79 699.52,94.19 700.95,96.64 702.39,99.14 703.83,101.69 705.26,104.28 706.70,106.92" fill="none" stroke="#0000ff" stroke-width="2.2" stroke-linejoin="round"/>
<polyline points="495.00,128.04 496.37,124.74 497.73,121.49 499.10,118.31 500.47,115.18 501.84,112.11 503.20,109.10 504.57,106.15 505.94,103.25 507.31,100.42 508.67,97.64 510.04,94.92 511.41,92.26 512.77,89.66 514.14,87.12 515.51,84.63 516.88,82.21 518.24,79.84 519.61,77.53 520.98,75.28 522.34,73.08 523.71,70.95 525.08,68.87 526.45,66.85 527.81,64.90 529.18,62.99 530.55,61.15 531.92,59.37 533.28,57.64 534.65,55.97 536.02,54.37 537.38,52.82 538.75,51.32 540.12,49.89 541.49,48.51 542.85,47.20 544.22,45.94 545.59,44.74 546.95,43.60 548.32,42.51 549.69,41.49 551.06,40.52 552.42,39.61 553.79,38.76 555.16,37.97 556.53,37.24 557.89,36.57 559.26,35.95 560.63,35.39 561.99,34.89 563.36,34.45 564.73,34.07 566.10,33.74 567.46,33.48 568.83,33.27 570.20,33.12 571.56,33.03 572.93,33.00 574.30,33.02 575.67,33.10 577.03,33.23 578.40,33.41 579.77,33.65 581.14,33.94 582.50,34.28 583.87,34.67 585.24,35.12 586.60,35.62 587.97,36.17 589.34,36.78 590.71,37.43 592.07,38.14 593.44,38.91 594.81,39.73 596.17,40.59 597.54,41.52 598.91,42.49 600.28,43.52 601.64,44.60 603.01,45.74 604.38,46.92 605.75,48.16 607.11,49.46 608.48,50.80 609.85,52.20 611.21,53.65 612.58,55.16 613.95,56.71 615.32,58.32 616.68,59.98 618.05,61.70 619.42,63.47 620.78,65.29 622.15,67.16 623.52,69.09 624.89,71.07 626.25,73.10 627.62,75.19 628.99,77.33 630.36,79.52 631.72,81.76 633.09,84.06 634.46,86.41 635.82,88.81 637.19,91.27 638.56,93.78 639.93,96.34 641.29,98.95 642.66,101.62 644.03,104.34 645.39,107.12 646.76,109.94 648.13,112.82 649.50,115.75 650.86,118.74 652.23,121.77 653.60,124.86 654.97,128.01 656.33,131.20 657.70,134.45" fill="none" stroke="#00ffff" stroke-width="2.2" stroke-linejoin="round"/>
<polyline points="484.30,123.68 485.63,120.37 486.97,117.12 488.30,113.94 489.63,110.81 490.97,107.75 492.30,104.75 493.64,101.81 494.97,98.93 496.30,96.11 497.64,93.35 498.97,90.66 500.30,88.02 501.64,85.45 502.97,82.94 504.30,80.49 505.64,78.11 506.97,75.78 508.31,73.52 509.64,71.32 510.97,69.18 512.31,67.10 513.64,65.08 514.97,63.12 516.31,61.23 517.64,59.39 518.97,57.62 520.31,55.91 521.64,54.26 522.97,52.68 524.31,51.15 525.64,49.69 526.98,48.29 528.31,46.94 529.64,45.67 530.98,44.45 532.31,43.29 533.64,42.20 534.98,41.16 536.31,40.19 537.64,39.28 538.98,38.43 540.31,37.65 541.65,36.92 542.98,36.26 544.31,35.65 545.65,35.11 546.98,34.63 548.31,34.22 549.65,33.86 550.98,33.57 552.31,33.33 553.65,33.16 554.98,33.05 556.32,33.00 557.65,33.01 558.98,33.07 560.32,33.19 561.65,33.35 562.98,33.56 564.32,33.82 565.65,34.13 566.98,34.50 568.32,34.91 569.65,35.38 570.98,35.89 572.32,36.45 573.65,37.07 574.99,37.74 576.32,38.45 577.65,39.22 578.99,40.03 580.32,40.90 581.65,41.82 582.99,42.79 584.32,43.81 585.65,44.87 586.99,45.99 588.32,47.16 589.66,48.38 590.99,49.65 592.32,50.97 593.66,52.34 594.99,53.76 596.32,55.24 597.66,56.76 598.99,58.33 600.32,59.95 601.66,61.63 602.99,63.35 604.33,65.12 605.66,66.95 606.99,68.82 608.33,70.75 609.66,72.72 610.99,74.75 612.33,76.83 613.66,78.95 614.99,81.13 616.33,83.36 617.66,85.63 618.99,87.96 620.33,90.34 621.66,92.77 623.00,95.25 624.33,97.78 625.66,100.36 627.00,102.99 628.33,105.67 629.66,108.40 631.00,111.18 632.33,114.01 633.66,116.90 635.00,119.83 636.33,122.81 637.67,125.84 639.00,128.93 640.33,132.06 641.67,135.25 643.00,138.48" fill="none" stroke="#ff00ff" stroke-width="2.2" stroke-linejoin="round"/>
<polyline points="508.00,135.27 509.40,131.67 510.79,128.13 512.19,124.66 513.59,121.26 514.99,117.92 516.38,114.64 517.78,111.43 519.18,108.28 520.58,105.19 521.97,102.17 523.37,99.22 524.77,96.33 526.17,93.50 527.56,90.74 528.96,88.04 530.36,85.41 531.76,82.84 533.15,80.34 534.55,77.90 535.95,75.53 537.35,73.22 538.74,70.97 540.14,68.79 541.54,66.68 542.94,64.62 544.33,62.64 545.73,60.71 547.13,58.85 548.53,57.06 549.92,55.33 551.32,53.67 552.72,52.07 554.12,50.53 555.51,49.06 556.91,47.65 558.31,46.31 559.71,45.03 561.10,43.82 562.50,42.67 563.90,41.58 565.30,40.56 566.69,39.61 568.09,38.72 569.49,37.89 570.89,37.13 572.28,36.43 573.68,35.80 575.08,35.23 576.48,34.73 577.87,34.29 579.27,33.91 580.67,33.60 582.07,33.35 583.46,33.17 584.86,33.06 586.26,33.00 587.66,33.01 589.05,33.07 590.45,33.17 591.85,33.33 593.25,33.53 594.64,33.78 596.04,34.08 597.44,34.42 598.84,34.82 600.23,35.26 601.63,35.75 603.03,36.29 604.43,36.87 605.82,37.51 607.22,38.19 608.62,38.92 610.02,39.70 611.41,40.53 612.81,41.41 614.21,42.33 615.61,43.30 617.00,44.32 618.40,45.39 619.80,46.51 621.20,47.67 622.59,48.89 623.99,50.15 625.39,51.46 626.79,52.82 628.18,54.22 629.58,55.68 630.98,57.18 632.38,58.73 633.77,60.33 635.17,61.97 636.57,63.67 637.97,65.41 639.36,67.20 640.76,69.04 642.16,70.93 643.56,72.86 644.95,74.85 646.35,76.88 647.75,78.96 649.15,81.09 650.54,83.26 651.94,85.49 653.34,87.76 654.74,90.08 656.13,92.45 657.53,94.87 658.93,97.34 660.33,99.85 661.72,102.41 663.12,105.02 664.52,107.68 665.92,110.38 667.31,113.14 668.71,115.94 670.11,118.79 671.51,121.69 672.90,124.64 674.30,127.63" fill="none" stroke="#ffff00" stroke-width="2.2" stroke-linejoin="round"/>
<polyline points="490.00,124.77 491.37,121.54 492.74,118.36 494.11,115.24 495.48,112.18 496.85,109.17 498.22,106.23 499.59,103.34 500.96,100.51 502.33,97.74 503.70,95.03 505.07,92.37 506.44,89.77 507.81,87.23 509.18,84.75 510.55,82.33 511.92,79.97 513.29,77.66 514.66,75.41 516.03,73.22 517.39,71.09 518.76,69.01 520.13,67.00 521.50,65.04 522.87,63.14 524.24,61.30 525.61,59.51 526.98,57.79 528.35,56.12 529.72,54.51 531.09,52.96 532.46,51.46 533.83,50.03 535.20,48.65 536.57,47.33 537.94,46.07 539.31,44.87 540.68,43.72 542.05,42.64 543.42,41.61 544.79,40.64 546.16,39.72 547.53,38.87 548.90,38.07 550.27,37.33 551.64,36.65 553.01,36.03 554.38,35.47 555.75,34.96 557.12,34.51 558.49,34.12 559.86,33.79 561.23,33.52 562.60,33.30 563.97,33.14 565.34,33.04 566.71,33.00 568.08,33.02 569.45,33.08 570.82,33.20 572.18,33.37 573.55,33.59 574.92,33.87 576.29,34.19 577.66,34.57 579.03,35.00 580.40,35.48 581.77,36.01 583.14,36.59 584.51,37.23 585.88,37.92 587.25,38.65 588.62,39.45 589.99,40.29 591.36,41.18 592.73,42.13 594.10,43.13 595.47,44.18 596.84,45.28 598.21,46.43 599.58,47.63 600.95,48.89 602.32,50.20 603.69,51.56 605.06,52.97 606.43,54.43 607.80,55.95 609.17,57.52 610.54,59.13 611.91,60.80 613.28,62.53 614.65,64.30 616.02,66.13 617.39,68.00 618.76,69.93 620.13,71.91 621.50,73.94 622.87,76.03 624.24,78.16 625.61,80.35 626.97,82.59 628.34,84.88 629.71,87.23 631.08,89.62 632.45,92.07 633.82,94.56 635.19,97.11 636.56,99.72 637.93,102.37 639.30,105.07 640.67,107.83 642.04,110.64 643.41,113.50 644.78,116.41 646.15,119.37 647.52,122.39 648.89,125.46 650.26,128.58 651.63,131.75 653.00,134.97" fill="none" stroke="#808000" stroke-width="2.2" stroke-linejoin="round"/>
</g>
<ellipse cx="589.7" cy="61.7" rx="114.8" ry="45.8" fill="none" stroke="#000" stroke-width="3"/>
<clipPath id="clipB"><ellipse cx="585.4" cy="698.7" rx="114.8" ry="52.5"/></clipPath>
<g clip-path="url(#clipB)">
<polyline points="459.40,744.17 460.57,741.35 461.74,738.58 462.91,735.87 464.08,733.22 465.25,730.62 466.42,728.07 467.59,725.58 468.76,723.15 469.93,720.78 471.10,718.45 472.27,716.19 473.44,713.98 474.61,711.82 475.78,709.72 476.95,707.68 478.12,705.69 479.29,703.76 480.46,701.88 481.63,700.06 482.79,698.30 483.96,696.59 485.13,694.93 486.30,693.33 487.47,691.79 488.64,690.30 489.81,688.87 490.98,687.49 492.15,686.17 493.32,684.90 494.49,683.69 495.66,682.54 496.83,681.44 498.00,680.39 499.17,679.41 500.34,678.47 501.51,677.60 502.68,676.77 503.85,676.01 505.02,675.30 506.19,674.64 507.36,674.04 508.53,673.50 509.70,673.01 510.87,672.58 512.04,672.20 513.21,671.88 514.38,671.61 515.55,671.40 516.72,671.25 517.89,671.15 519.06,671.10 520.23,671.11 521.40,671.18 522.57,671.29 523.74,671.46 524.91,671.69 526.08,671.96 527.25,672.29 528.42,672.67 529.58,673.10 530.75,673.59 531.92,674.13 533.09,674.72 534.26,675.37 535.43,676.06 536.60,676.82 537.77,677.62 538.94,678.48 540.11,679.39 541.28,680.35 542.45,681.36 543.62,682.43 544.79,683.55 545.96,684.73 547.13,685.95 548.30,687.23 549.47,688.56 550.64,689.95 551.81,691.39 552.98,692.88 554.15,694.42 555.32,696.02 556.49,697.67 557.66,699.37 558.83,701.12 560.00,702.93 561.17,704.79 562.34,706.71 563.51,708.67 564.68,710.69 565.85,712.76 567.02,714.89 568.19,717.07 569.36,719.30 570.53,721.58 571.70,723.92 572.87,726.31 574.04,728.75 575.21,731.24 576.37,733.79 577.54,736.39 578.71,739.05 579.88,741.75 581.05,744.51 582.22,747.32 583.39,750.19 584.56,753.11 585.73,756.08 586.90,759.10 588.07,762.18 589.24,765.31 590.41,768.49 591.58,771.72 592.75,775.01 593.92,778.35 595.09,781.74 596.26,785.19 597.43,788.69 598.60,792.24" fill="none" stroke="#000000" stroke-width="2.2" stroke-linejoin="round"/>
<polyline points="486.70,774.51 488.01,770.65 489.32,766.87 490.63,763.15 491.94,759.52 493.25,755.95 494.56,752.46 495.86,749.04 497.17,745.70 498.48,742.43 499.79,739.23 501.10,736.10 502.41,733.05 503.72,730.07 505.03,727.17 506.34,724.34 507.65,721.58 508.96,718.89 510.27,716.28 511.58,713.74 512.88,711.28 514.19,708.88 515.50,706.56 516.81,704.32 518.12,702.14 519.43,700.05 520.74,698.02 522.05,696.07 523.36,694.19 524.67,692.38 525.98,690.65 527.29,688.99 528.60,687.40 529.91,685.89 531.21,684.45 532.52,683.08 533.83,681.79 535.14,680.57 536.45,679.42 537.76,678.34 539.07,677.34 540.38,676.42 541.69,675.56 543.00,674.78 544.31,674.07 545.62,673.44 546.93,672.88 548.23,672.39 549.54,671.98 550.85,671.63 552.16,671.37 553.47,671.17 554.78,671.05 556.09,671.00 557.40,671.02 558.71,671.09 560.02,671.20 561.33,671.37 562.64,671.59 563.95,671.86 565.25,672.19 566.56,672.56 567.87,672.98 569.18,673.46 570.49,673.98 571.80,674.55 573.11,675.18 574.42,675.86 575.73,676.58 577.04,677.36 578.35,678.19 579.66,679.07 580.97,680.00 582.27,680.98 583.58,682.01 584.89,683.10 586.20,684.23 587.51,685.41 588.82,686.65 590.13,687.93 591.44,689.27 592.75,690.65 594.06,692.09 595.37,693.58 596.68,695.12 597.99,696.71 599.29,698.35 600.60,700.04 601.91,701.78 603.22,703.57 604.53,705.42 605.84,707.31 607.15,709.26 608.46,711.25 609.77,713.30 611.08,715.39 612.39,717.54 613.70,719.74 615.01,721.99 616.32,724.29 617.62,726.64 618.93,729.04 620.24,731.49 621.55,733.99 622.86,736.55 624.17,739.15 625.48,741.80 626.79,744.51 628.10,747.27 629.41,750.07 630.72,752.93 632.03,755.84 633.34,758.80 634.64,761.81 635.95,764.87 637.26,767.98 638.57,771.14 639.88,774.35 641.19,777.62 642.50,780.93" fill="none" stroke="#ff0000" stroke-width="2.2" stroke-linejoin="round"/>
<polyline points="518.20,781.16 519.57,777.48 520.94,773.86 522.31,770.30 523.69,766.81 525.06,763.38 526.43,760.01 527.80,756.71 529.17,753.46 530.54,750.28 531.91,747.17 533.29,744.11 534.66,741.12 536.03,738.19 537.40,735.32 538.77,732.52 540.14,729.77 541.51,727.09 542.89,724.48 544.26,721.92 545.63,719.43 547.00,717.00 548.37,714.63 549.74,712.33 551.11,710.08 552.49,707.90 553.86,705.79 555.23,703.73 556.60,701.74 557.97,699.81 559.34,697.94 560.71,696.14 562.09,694.40 563.46,692.72 564.83,691.10 566.20,689.55 567.57,688.05 568.94,686.63 570.31,685.26 571.69,683.95 573.06,682.71 574.43,681.53 575.80,680.42 577.17,679.36 578.54,678.37 579.91,677.44 581.29,676.58 582.66,675.77 584.03,675.03 585.40,674.35 586.77,673.74 588.14,673.18 589.51,672.69 590.89,672.26 592.26,671.90 593.63,671.59 595.00,671.35 596.37,671.17 597.74,671.06 599.11,671.00 600.49,671.01 601.86,671.07 603.23,671.19 604.60,671.36 605.97,671.58 607.34,671.86 608.71,672.19 610.09,672.57 611.46,673.01 612.83,673.50 614.20,674.04 615.57,674.64 616.94,675.29 618.31,676.00 619.69,676.76 621.06,677.57 622.43,678.44 623.80,679.36 625.17,680.33 626.54,681.36 627.91,682.44 629.29,683.58 630.66,684.77 632.03,686.01 633.40,687.31 634.77,688.66 636.14,690.06 637.51,691.52 638.89,693.03 640.26,694.60 641.63,696.22 643.00,697.89 644.37,699.61 645.74,701.39 647.11,703.23 648.49,705.12 649.86,707.06 651.23,709.05 652.60,711.10 653.97,713.20 655.34,715.36 656.71,717.57 658.09,719.83 659.46,722.15 660.83,724.52 662.20,726.94 663.57,729.42 664.94,731.95 666.31,734.54 667.69,737.18 669.06,739.87 670.43,742.61 671.80,745.42 673.17,748.27 674.54,751.18 675.91,754.14 677.29,757.15 678.66,760.22 680.03,763.34 681.40,766.52" fill="none" stroke="#00ff00" stroke-width="2.2" stroke-linejoin="round"/>
<polyline points="540.30,785.25 541.67,781.65 543.05,778.12 544.42,774.63 545.80,771.21 547.17,767.84 548.54,764.53 549.92,761.28 551.29,758.09 552.67,754.95 554.04,751.87 555.41,748.85 556.79,745.89 558.16,742.98 559.54,740.13 560.91,737.34 562.28,734.61 563.66,731.93 565.03,729.31 566.41,726.75 567.78,724.25 569.15,721.80 570.53,719.41 571.90,717.08 573.27,714.81 574.65,712.59 576.02,710.43 577.40,708.33 578.77,706.29 580.14,704.30 581.52,702.37 582.89,700.50 584.27,698.69 585.64,696.93 587.01,695.24 588.39,693.59 589.76,692.01 591.14,690.49 592.51,689.02 593.88,687.61 595.26,686.25 596.63,684.96 598.01,683.72 599.38,682.54 600.75,681.41 602.13,680.35 603.50,679.34 604.88,678.39 606.25,677.50 607.62,676.66 609.00,675.88 610.37,675.16 611.75,674.50 613.12,673.89 614.49,673.34 615.87,672.85 617.24,672.42 618.62,672.05 619.99,671.73 621.36,671.47 622.74,671.26 624.11,671.12 625.48,671.03 626.86,671.00 628.23,671.02 629.61,671.09 630.98,671.21 632.35,671.38 633.73,671.60 635.10,671.86 636.48,672.18 637.85,672.54 639.22,672.95 640.60,673.41 641.97,673.92 643.35,674.47 644.72,675.08 646.09,675.73 647.47,676.43 648.84,677.18 650.22,677.98 651.59,678.83 652.96,679.72 654.34,680.67 655.71,681.66 657.09,682.70 658.46,683.79 659.83,684.93 661.21,686.11 662.58,687.35 663.96,688.63 665.33,689.96 666.70,691.34 668.08,692.77 669.45,694.25 670.83,695.77 672.20,697.35 673.57,698.97 674.95,700.64 676.32,702.36 677.69,704.13 679.07,705.95 680.44,707.81 681.82,709.73 683.19,711.69 684.56,713.70 685.94,715.76 687.31,717.86 688.69,720.02 690.06,722.22 691.43,724.48 692.81,726.78 694.18,729.13 695.56,731.53 696.93,733.97 698.30,736.47 699.68,739.01 701.05,741.60 702.43,744.24 703.80,746.93" fill="none" stroke="#0000ff" stroke-width="2.2" stroke-linejoin="round"/>
<polyline points="479.50,768.95 480.76,765.35 482.02,761.82 483.28,758.35 484.54,754.96 485.80,751.63 487.06,748.37 488.32,745.18 489.58,742.05 490.84,738.99 492.11,736.00 493.37,733.07 494.63,730.22 495.89,727.43 497.15,724.71 498.41,722.05 499.67,719.46 500.93,716.94 502.19,714.49 503.45,712.10 504.71,709.78 505.97,707.53 507.23,705.35 508.49,703.23 509.75,701.18 511.01,699.20 512.27,697.29 513.53,695.44 514.79,693.66 516.05,691.94 517.32,690.30 518.58,688.72 519.84,687.21 521.10,685.77 522.36,684.39 523.62,683.08 524.88,681.84 526.14,680.67 527.40,679.56 528.66,678.52 529.92,677.55 531.18,676.64 532.44,675.80 533.70,675.03 534.96,674.33 536.22,673.69 537.48,673.13 538.74,672.62 540.00,672.19 541.26,671.82 542.53,671.52 543.79,671.29 545.05,671.13 546.31,671.03 547.57,671.00 548.83,671.03 550.09,671.12 551.35,671.26 552.61,671.45 553.87,671.70 555.13,672.01 556.39,672.37 557.65,672.78 558.91,673.25 560.17,673.78 561.43,674.36 562.69,675.00 563.95,675.69 565.21,676.43 566.47,677.23 567.74,678.09 569.00,679.00 570.26,679.96 571.52,680.98 572.78,682.06 574.04,683.19 575.30,684.38 576.56,685.62 577.82,686.91 579.08,688.26 580.34,689.67 581.60,691.13 582.86,692.64 584.12,694.21 585.38,695.84 586.64,697.52 587.90,699.26 589.16,701.05 590.42,702.89 591.68,704.79 592.95,706.75 594.21,708.76 595.47,710.82 596.73,712.94 597.99,715.12 599.25,717.35 600.51,719.64 601.77,721.98 603.03,724.37 604.29,726.82 605.55,729.33 606.81,731.89 608.07,734.50 609.33,737.18 610.59,739.90 611.85,742.68 613.11,745.52 614.37,748.41 615.63,751.35 616.89,754.35 618.16,757.41 619.42,760.52 620.68,763.69 621.94,766.91 623.20,770.18 624.46,773.51 625.72,776.90 626.98,780.34 628.24,783.83 629.50,787.39" fill="none" stroke="#00ffff" stroke-width="2.2" stroke-linejoin="round"/>
<polyline points="466.80,756.44 468.02,753.13 469.23,749.89 470.45,746.72 471.66,743.61 472.88,740.56 474.09,737.58 475.31,734.67 476.52,731.82 477.74,729.04 478.95,726.32 480.17,723.66 481.38,721.08 482.60,718.55 483.81,716.10 485.03,713.70 486.24,711.38 487.46,709.11 488.67,706.92 489.89,704.78 491.10,702.72 492.32,700.72 493.53,698.78 494.75,696.91 495.96,695.10 497.18,693.36 498.39,691.69 499.61,690.08 500.82,688.53 502.04,687.05 503.25,685.64 504.47,684.29 505.68,683.01 506.90,681.79 508.11,680.63 509.33,679.55 510.54,678.52 511.76,677.56 512.97,676.67 514.19,675.84 515.41,675.08 516.62,674.38 517.84,673.75 519.05,673.19 520.27,672.68 521.48,672.25 522.70,671.88 523.91,671.57 525.13,671.33 526.34,671.16 527.56,671.05 528.77,671.00 529.99,671.02 531.20,671.09 532.42,671.20 533.63,671.38 534.85,671.60 536.06,671.88 537.28,672.20 538.49,672.58 539.71,673.01 540.92,673.49 542.14,674.03 543.35,674.61 544.57,675.25 545.78,675.94 547.00,676.68 548.21,677.48 549.43,678.32 550.64,679.22 551.86,680.17 553.07,681.17 554.29,682.22 555.50,683.32 556.72,684.48 557.93,685.69 559.15,686.95 560.36,688.26 561.58,689.62 562.79,691.04 564.01,692.50 565.23,694.02 566.44,695.59 567.66,697.22 568.87,698.89 570.09,700.62 571.30,702.39 572.52,704.22 573.73,706.10 574.95,708.04 576.16,710.02 577.38,712.06 578.59,714.15 579.81,716.29 581.02,718.48 582.24,720.72 583.45,723.02 584.67,725.37 585.88,727.77 587.10,730.22 588.31,732.72 589.53,735.28 590.74,737.88 591.96,740.54 593.17,743.25 594.39,746.01 595.60,748.83 596.82,751.69 598.03,754.61 599.25,757.58 600.46,760.60 601.68,763.67 602.89,766.80 604.11,769.97 605.32,773.20 606.54,776.48 607.75,779.82 608.97,783.20 610.18,786.63 611.40,790.12" fill="none" stroke="#ff00ff" stroke-width="2.2" stroke-linejoin="round"/>
<polyline points="491.50,778.49 492.79,774.45 494.08,770.49 495.37,766.61 496.66,762.80 497.95,759.07 499.24,755.42 500.53,751.84 501.82,748.34 503.11,744.92 504.40,741.58 505.69,738.31 506.98,735.13 508.27,732.01 509.56,728.98 510.85,726.02 512.14,723.14 513.43,720.34 514.72,717.62 516.01,714.97 517.30,712.40 518.59,709.91 519.88,707.49 521.17,705.16 522.46,702.90 523.75,700.71 525.04,698.61 526.33,696.58 527.62,694.63 528.91,692.76 530.20,690.96 531.49,689.24 532.78,687.60 534.07,686.04 535.36,684.55 536.65,683.14 537.94,681.81 539.23,680.55 540.52,679.38 541.81,678.28 543.10,677.25 544.39,676.31 545.68,675.44 546.97,674.65 548.26,673.94 549.55,673.30 550.84,672.74 552.13,672.26 553.42,671.86 554.71,671.53 556.00,671.29 557.29,671.11 558.58,671.02 559.87,671.00 561.16,671.04 562.45,671.13 563.74,671.27 565.03,671.46 566.32,671.69 567.61,671.98 568.89,672.32 570.18,672.71 571.47,673.14 572.76,673.63 574.05,674.17 575.34,674.75 576.63,675.39 577.92,676.07 579.21,676.81 580.50,677.60 581.79,678.43 583.08,679.31 584.37,680.25 585.66,681.23 586.95,682.27 588.24,683.35 589.53,684.48 590.82,685.67 592.11,686.90 593.40,688.18 594.69,689.52 595.98,690.90 597.27,692.33 598.56,693.81 599.85,695.34 601.14,696.92 602.43,698.55 603.72,700.23 605.01,701.97 606.30,703.75 607.59,705.58 608.88,707.45 610.17,709.38 611.46,711.36 612.75,713.39 614.04,715.47 615.33,717.60 616.62,719.78 617.91,722.00 619.20,724.28 620.49,726.61 621.78,728.99 623.07,731.41 624.36,733.89 625.65,736.42 626.94,738.99 628.23,741.62 629.52,744.29 630.81,747.02 632.10,749.79 633.39,752.62 634.68,755.49 635.97,758.42 637.26,761.39 638.55,764.42 639.84,767.49 641.13,770.61 642.42,773.79 643.71,777.01 645.00,780.28" fill="none" stroke="#ffff00" stroke-width="2.2" stroke-linejoin="round"/>
<polyline points="478.70,768.04 479.96,764.48 481.22,760.98 482.47,757.55 483.73,754.19 484.99,750.89 486.25,747.66 487.51,744.50 488.76,741.40 490.02,738.38 491.28,735.41 492.54,732.52 493.80,729.69 495.05,726.92 496.31,724.23 497.57,721.60 498.83,719.03 500.09,716.54 501.34,714.11 502.60,711.75 503.86,709.45 505.12,707.22 506.38,705.06 507.63,702.96 508.89,700.93 510.15,698.96 511.41,697.07 512.67,695.24 513.92,693.47 515.18,691.78 516.44,690.15 517.70,688.58 518.96,687.09 520.21,685.65 521.47,684.29 522.73,682.99 523.99,681.76 525.25,680.60 526.50,679.50 527.76,678.47 529.02,677.51 530.28,676.61 531.54,675.78 532.79,675.01 534.05,674.31 535.31,673.68 536.57,673.12 537.83,672.62 539.08,672.19 540.34,671.82 541.60,671.53 542.86,671.29 544.12,671.13 545.37,671.03 546.63,671.00 547.89,671.03 549.15,671.11 550.41,671.25 551.66,671.45 552.92,671.70 554.18,672.00 555.44,672.37 556.69,672.78 557.95,673.25 559.21,673.78 560.47,674.36 561.73,675.00 562.98,675.69 564.24,676.44 565.50,677.24 566.76,678.10 568.02,679.02 569.27,679.99 570.53,681.01 571.79,682.09 573.05,683.23 574.31,684.42 575.56,685.66 576.82,686.97 578.08,688.32 579.34,689.74 580.60,691.20 581.85,692.73 583.11,694.30 584.37,695.94 585.63,697.63 586.89,699.37 588.14,701.17 589.40,703.02 590.66,704.93 591.92,706.90 593.18,708.92 594.43,711.00 595.69,713.13 596.95,715.31 598.21,717.56 599.47,719.85 600.72,722.21 601.98,724.61 603.24,727.08 604.50,729.60 605.76,732.17 607.01,734.80 608.27,737.48 609.53,740.22 610.79,743.02 612.05,745.87 613.30,748.78 614.56,751.74 615.82,754.75 617.08,757.83 618.34,760.95 619.59,764.14 620.85,767.37 622.11,770.67 623.37,774.02 624.63,777.42 625.88,780.88 627.14,784.39 628.40,787.96" fill="none" stroke="#808000" stroke-width="2.2" stroke-linejoin="round"/>
</g>
<ellipse cx="585.4" cy="698.7" rx="114.3" ry="52.0" fill="none" stroke="#000" stroke-width="3"/>
</svg></body></html>
